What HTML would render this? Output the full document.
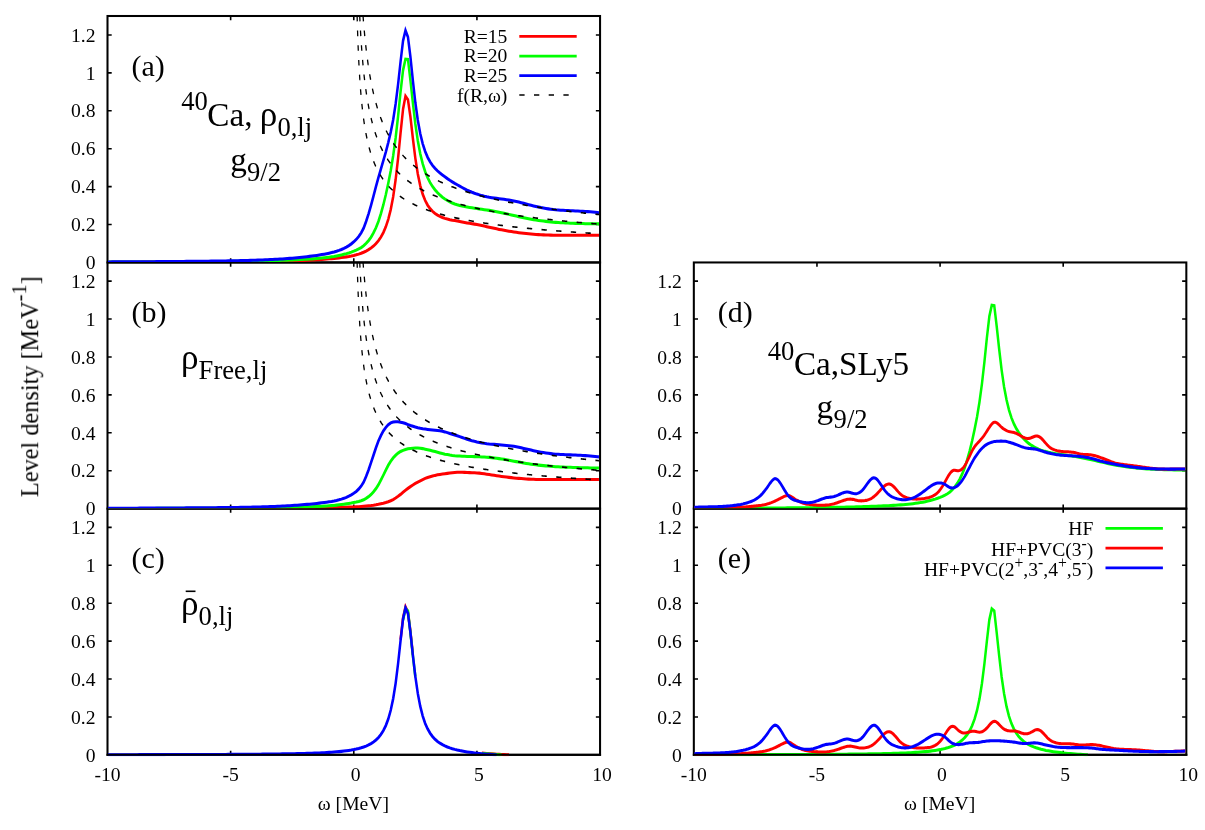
<!DOCTYPE html>
<html><head><meta charset="utf-8"><title>Level density</title>
<style>html,body{margin:0;padding:0;background:#fff}svg{display:block}text{font-family:"Liberation Serif",serif;fill:#000}</style></head>
<body>
<svg width="1205" height="830" viewBox="0 0 1205 830">
<rect width="1205" height="830" fill="#fff"/>
<defs>
<clipPath id="ca"><rect x="107.90" y="15.00" width="491.06" height="247.01"/></clipPath>
<clipPath id="cb"><rect x="107.90" y="261.46" width="491.06" height="246.74"/></clipPath>
<clipPath id="cc"><rect x="107.90" y="507.65" width="491.06" height="248.55"/></clipPath>
<clipPath id="cd"><rect x="694.23" y="261.46" width="491.00" height="246.74"/></clipPath>
<clipPath id="ce"><rect x="694.23" y="507.65" width="491.00" height="248.55"/></clipPath>
</defs>
<rect x="107.50" y="16.00" width="492.56" height="246.46" fill="none" stroke="#000" stroke-width="2.05"/>
<rect x="107.50" y="262.46" width="492.56" height="246.19" fill="none" stroke="#000" stroke-width="2.05"/>
<rect x="107.50" y="508.65" width="492.56" height="246.20" fill="none" stroke="#000" stroke-width="2.05"/>
<rect x="693.83" y="262.46" width="492.50" height="246.19" fill="none" stroke="#000" stroke-width="2.05"/>
<rect x="693.83" y="508.65" width="492.50" height="246.20" fill="none" stroke="#000" stroke-width="2.05"/>
<path d="M107.50 224.54h4.20M600.06 224.54h-4.20M107.50 186.63h4.20M600.06 186.63h-4.20M107.50 148.71h4.20M600.06 148.71h-4.20M107.50 110.79h4.20M600.06 110.79h-4.20M107.50 72.88h4.20M600.06 72.88h-4.20M107.50 34.96h4.20M600.06 34.96h-4.20M230.64 262.46v-4.20M230.64 16.00v4.20M353.78 262.46v-4.20M353.78 16.00v4.20M476.92 262.46v-4.20M476.92 16.00v4.20" stroke="#000" stroke-width="1.6" fill="none"/>
<path d="M107.50 470.73h4.20M600.06 470.73h-4.20M107.50 432.82h4.20M600.06 432.82h-4.20M107.50 394.90h4.20M600.06 394.90h-4.20M107.50 356.98h4.20M600.06 356.98h-4.20M107.50 319.07h4.20M600.06 319.07h-4.20M107.50 281.15h4.20M600.06 281.15h-4.20M230.64 508.65v-4.20M230.64 262.46v4.20M353.78 508.65v-4.20M353.78 262.46v4.20M476.92 508.65v-4.20M476.92 262.46v4.20" stroke="#000" stroke-width="1.6" fill="none"/>
<path d="M107.50 716.93h4.20M600.06 716.93h-4.20M107.50 679.02h4.20M600.06 679.02h-4.20M107.50 641.10h4.20M600.06 641.10h-4.20M107.50 603.18h4.20M600.06 603.18h-4.20M107.50 565.27h4.20M600.06 565.27h-4.20M107.50 527.35h4.20M600.06 527.35h-4.20M230.64 754.85v-4.20M230.64 508.65v4.20M353.78 754.85v-4.20M353.78 508.65v4.20M476.92 754.85v-4.20M476.92 508.65v4.20" stroke="#000" stroke-width="1.6" fill="none"/>
<path d="M693.83 470.73h4.20M1186.33 470.73h-4.20M693.83 432.82h4.20M1186.33 432.82h-4.20M693.83 394.90h4.20M1186.33 394.90h-4.20M693.83 356.98h4.20M1186.33 356.98h-4.20M693.83 319.07h4.20M1186.33 319.07h-4.20M693.83 281.15h4.20M1186.33 281.15h-4.20M816.96 508.65v-4.20M816.96 262.46v4.20M940.08 508.65v-4.20M940.08 262.46v4.20M1063.20 508.65v-4.20M1063.20 262.46v4.20" stroke="#000" stroke-width="1.6" fill="none"/>
<path d="M693.83 716.93h4.20M1186.33 716.93h-4.20M693.83 679.02h4.20M1186.33 679.02h-4.20M693.83 641.10h4.20M1186.33 641.10h-4.20M693.83 603.18h4.20M1186.33 603.18h-4.20M693.83 565.27h4.20M1186.33 565.27h-4.20M693.83 527.35h4.20M1186.33 527.35h-4.20M816.96 754.85v-4.20M816.96 508.65v4.20M940.08 754.85v-4.20M940.08 508.65v4.20M1063.20 754.85v-4.20M1063.20 508.65v4.20" stroke="#000" stroke-width="1.6" fill="none"/>
<path d="M107.50 261.90 L109.96 261.89 L112.43 261.89 L114.89 261.89 L117.35 261.89 L119.81 261.88 L122.28 261.88 L124.74 261.87 L127.20 261.87 L129.67 261.87 L132.13 261.86 L134.59 261.86 L137.05 261.85 L139.52 261.85 L141.98 261.84 L144.44 261.84 L146.90 261.83 L149.37 261.83 L151.83 261.82 L154.29 261.81 L156.76 261.81 L159.22 261.80 L161.68 261.80 L164.14 261.79 L166.61 261.78 L169.07 261.77 L171.53 261.77 L174.00 261.76 L176.46 261.75 L178.92 261.74 L181.38 261.73 L183.85 261.72 L186.31 261.72 L188.77 261.71 L191.24 261.70 L193.70 261.69 L196.16 261.68 L198.62 261.66 L201.09 261.65 L203.55 261.64 L206.01 261.63 L208.47 261.62 L210.94 261.61 L213.40 261.59 L215.86 261.58 L218.33 261.56 L220.79 261.55 L223.25 261.53 L225.71 261.52 L228.18 261.50 L230.64 261.49 L233.10 261.47 L235.57 261.45 L238.03 261.43 L240.49 261.41 L242.95 261.39 L245.42 261.36 L247.88 261.34 L250.34 261.31 L252.81 261.28 L255.27 261.25 L257.73 261.22 L260.19 261.19 L262.66 261.15 L265.12 261.12 L267.58 261.08 L270.04 261.04 L272.51 260.99 L274.97 260.95 L277.43 260.90 L279.90 260.85 L282.36 260.80 L284.82 260.74 L287.28 260.68 L289.75 260.62 L292.21 260.55 L294.67 260.48 L297.14 260.41 L299.60 260.33 L302.06 260.24 L304.52 260.15 L306.99 260.05 L309.45 259.93 L311.91 259.80 L314.38 259.65 L316.84 259.49 L319.30 259.32 L321.76 259.14 L324.23 258.94 L326.69 258.74 L329.15 258.53 L331.61 258.31 L334.08 258.08 L336.54 257.84 L339.00 257.57 L341.47 257.27 L343.93 256.95 L346.39 256.58 L348.85 256.17 L351.32 255.70 L353.78 255.16 L356.24 254.54 L358.71 253.80 L361.17 252.94 L363.63 251.93 L366.09 250.75 L368.56 249.38 L371.02 247.76 L373.48 245.80 L375.95 243.40 L378.41 240.46 L380.87 236.84 L383.33 232.32 L385.80 226.57 L388.26 219.11 L390.72 209.33 L393.18 196.39 L395.65 179.30 L398.11 157.68 L400.57 132.63 L403.04 108.98 L405.50 95.80 L407.96 99.39 L410.42 116.50 L412.89 138.24 L415.35 158.07 L417.81 173.79 L420.28 185.52 L422.74 194.05 L425.20 200.26 L427.66 204.90 L430.13 208.42 L432.59 211.09 L435.05 213.16 L437.52 214.80 L439.98 216.11 L442.44 217.17 L444.90 218.05 L447.37 218.79 L449.83 219.38 L452.29 219.86 L454.75 220.27 L457.22 220.67 L459.68 221.10 L462.14 221.58 L464.61 222.09 L467.07 222.58 L469.53 223.04 L471.99 223.45 L474.46 223.82 L476.92 224.21 L479.38 224.67 L481.85 225.21 L484.31 225.79 L486.77 226.37 L489.23 226.91 L491.70 227.46 L494.16 228.01 L496.62 228.55 L499.09 229.08 L501.55 229.56 L504.01 230.01 L506.47 230.45 L508.94 230.87 L511.40 231.27 L513.86 231.64 L516.32 232.00 L518.79 232.35 L521.25 232.69 L523.71 233.01 L526.18 233.30 L528.64 233.55 L531.10 233.77 L533.56 233.98 L536.03 234.17 L538.49 234.34 L540.95 234.48 L543.42 234.59 L545.88 234.67 L548.34 234.75 L550.80 234.82 L553.27 234.88 L555.73 234.93 L558.19 234.97 L560.66 234.99 L563.12 234.99 L565.58 234.98 L568.04 234.97 L570.51 234.97 L572.97 234.99 L575.43 235.00 L577.89 235.01 L580.36 235.01 L582.82 235.02 L585.28 235.02 L587.75 235.02 L590.21 235.01 L592.67 235.00 L595.13 234.98 L597.60 234.96 L600.06 234.94M107.50 262.50 L109.96 262.49 L112.43 262.49 L114.89 262.49 L117.35 262.49 L119.81 262.48 L122.28 262.48 L124.74 262.47 L127.20 262.47 L129.67 262.47 L132.13 262.46 L134.59 262.46 L137.05 262.45 L139.52 262.45 L141.98 262.44 L144.44 262.44 L146.90 262.43 L149.37 262.43 L151.83 262.42 L154.29 262.41 L156.76 262.41 L159.22 262.40 L161.68 262.40 L164.14 262.39 L166.61 262.38 L169.07 262.37 L171.53 262.37 L174.00 262.36 L176.46 262.35 L178.92 262.34 L181.38 262.33 L183.85 262.32 L186.31 262.32 L188.77 262.31 L191.24 262.30 L193.70 262.29 L196.16 262.28 L198.62 262.26 L201.09 262.25 L203.55 262.24 L206.01 262.23 L208.47 262.22 L210.94 262.21 L213.40 262.19 L215.86 262.18 L218.33 262.16 L220.79 262.15 L223.25 262.13 L225.71 262.12 L228.18 262.10 L230.64 262.09 L233.10 262.07 L235.57 262.05 L238.03 262.03 L240.49 262.01 L242.95 261.99 L245.42 261.96 L247.88 261.94 L250.34 261.91 L252.81 261.88 L255.27 261.85 L257.73 261.82 L260.19 261.79 L262.66 261.75 L265.12 261.72 L267.58 261.68 L270.04 261.64 L272.51 261.59 L274.97 261.55 L277.43 261.50 L279.90 261.45 L282.36 261.40 L284.82 261.34 L287.28 261.28 L289.75 261.22 L292.21 261.15 L294.67 261.08 L297.14 261.01 L299.60 260.93 L302.06 260.84 L304.52 260.75 L306.99 260.65 L309.45 260.53 L311.91 260.40 L314.38 260.25 L316.84 260.09 L319.30 259.92 L321.76 259.74 L324.23 259.54 L326.69 259.34 L329.15 259.13 L331.61 258.91 L334.08 258.68 L336.54 258.44 L339.00 258.17 L341.47 257.87 L343.93 257.55 L346.39 257.18 L348.85 256.77 L351.32 256.30 L353.78 255.76 L356.24 255.14 L358.71 254.40 L361.17 253.54 L363.63 252.53 L366.09 251.35 L368.56 249.98 L371.02 248.36 L373.48 246.40 L375.95 244.00 L378.41 241.06 L380.87 237.44 L383.33 232.92 L385.80 227.17 L388.26 219.71 L390.72 209.93 L393.18 196.99 L395.65 179.90 L398.11 158.28 L400.57 133.23 L403.04 109.58 L405.50 96.40 L407.96 99.99 L410.42 117.10 L412.89 138.84 L415.35 158.67 L417.81 174.39 L420.28 186.12 L422.74 194.65 L425.20 200.86 L427.66 205.50 L430.13 209.02 L432.59 211.69 L435.05 213.76 L437.52 215.40 L439.98 216.71 L442.44 217.77 L444.90 218.65 L447.37 219.39 L449.83 219.98 L452.29 220.46 L454.75 220.87 L457.22 221.27 L459.68 221.70 L462.14 222.18 L464.61 222.69 L467.07 223.18 L469.53 223.64 L471.99 224.05 L474.46 224.42 L476.92 224.81 L479.38 225.27 L481.85 225.81 L484.31 226.39 L486.77 226.97 L489.23 227.51 L491.70 228.06 L494.16 228.61 L496.62 229.15 L499.09 229.68 L501.55 230.16 L504.01 230.61 L506.47 231.05 L508.94 231.47 L511.40 231.87 L513.86 232.24 L516.32 232.60 L518.79 232.95 L521.25 233.29 L523.71 233.61 L526.18 233.90 L528.64 234.15 L531.10 234.37 L533.56 234.58 L536.03 234.77 L538.49 234.94 L540.95 235.08 L543.42 235.19 L545.88 235.27 L548.34 235.35 L550.80 235.42 L553.27 235.48 L555.73 235.53 L558.19 235.57 L560.66 235.59 L563.12 235.59 L565.58 235.58 L568.04 235.57 L570.51 235.57 L572.97 235.59 L575.43 235.60 L577.89 235.61 L580.36 235.61 L582.82 235.62 L585.28 235.62 L587.75 235.62 L590.21 235.61 L592.67 235.60 L595.13 235.58 L597.60 235.56 L600.06 235.54" fill="none" stroke="#ff0000" stroke-width="2.45" stroke-linejoin="miter" stroke-miterlimit="6" clip-path="url(#ca)"/>
<path d="M107.50 261.81 L109.96 261.80 L112.43 261.80 L114.89 261.79 L117.35 261.79 L119.81 261.79 L122.28 261.78 L124.74 261.78 L127.20 261.77 L129.67 261.76 L132.13 261.76 L134.59 261.75 L137.05 261.74 L139.52 261.73 L141.98 261.72 L144.44 261.72 L146.90 261.71 L149.37 261.70 L151.83 261.69 L154.29 261.68 L156.76 261.66 L159.22 261.65 L161.68 261.64 L164.14 261.63 L166.61 261.62 L169.07 261.60 L171.53 261.59 L174.00 261.57 L176.46 261.56 L178.92 261.54 L181.38 261.53 L183.85 261.51 L186.31 261.50 L188.77 261.48 L191.24 261.46 L193.70 261.45 L196.16 261.43 L198.62 261.41 L201.09 261.39 L203.55 261.37 L206.01 261.35 L208.47 261.33 L210.94 261.31 L213.40 261.28 L215.86 261.26 L218.33 261.24 L220.79 261.21 L223.25 261.19 L225.71 261.17 L228.18 261.14 L230.64 261.11 L233.10 261.09 L235.57 261.06 L238.03 261.02 L240.49 260.99 L242.95 260.95 L245.42 260.91 L247.88 260.87 L250.34 260.82 L252.81 260.78 L255.27 260.73 L257.73 260.68 L260.19 260.62 L262.66 260.56 L265.12 260.50 L267.58 260.44 L270.04 260.37 L272.51 260.30 L274.97 260.23 L277.43 260.15 L279.90 260.07 L282.36 259.99 L284.82 259.90 L287.28 259.81 L289.75 259.71 L292.21 259.61 L294.67 259.51 L297.14 259.40 L299.60 259.28 L302.06 259.16 L304.52 259.03 L306.99 258.90 L309.45 258.74 L311.91 258.57 L314.38 258.39 L316.84 258.18 L319.30 257.96 L321.76 257.71 L324.23 257.45 L326.69 257.17 L329.15 256.86 L331.61 256.51 L334.08 256.11 L336.54 255.65 L339.00 255.14 L341.47 254.59 L343.93 253.99 L346.39 253.34 L348.85 252.62 L351.32 251.80 L353.78 250.87 L356.24 249.84 L358.71 248.66 L361.17 247.25 L363.63 245.50 L366.09 243.17 L368.56 240.29 L371.02 236.90 L373.48 232.64 L375.95 227.42 L378.41 221.19 L380.87 213.45 L383.33 204.67 L385.80 194.49 L388.26 183.12 L390.72 170.47 L393.18 155.43 L395.65 137.43 L398.11 115.69 L400.57 91.41 L403.04 70.06 L405.50 58.74 L407.96 59.05 L410.42 80.02 L412.89 102.77 L415.35 123.66 L417.81 140.49 L420.28 153.54 L422.74 163.63 L425.20 171.41 L427.66 177.44 L430.13 182.29 L432.59 186.27 L435.05 189.58 L437.52 192.36 L439.98 194.80 L442.44 196.91 L444.90 198.70 L447.37 200.21 L449.83 201.53 L452.29 202.68 L454.75 203.64 L457.22 204.43 L459.68 205.11 L462.14 205.71 L464.61 206.25 L467.07 206.73 L469.53 207.16 L471.99 207.55 L474.46 207.92 L476.92 208.28 L479.38 208.64 L481.85 208.99 L484.31 209.34 L486.77 209.70 L489.23 210.08 L491.70 210.50 L494.16 210.96 L496.62 211.45 L499.09 211.94 L501.55 212.44 L504.01 212.95 L506.47 213.50 L508.94 214.07 L511.40 214.65 L513.86 215.22 L516.32 215.78 L518.79 216.34 L521.25 216.91 L523.71 217.47 L526.18 218.00 L528.64 218.49 L531.10 218.93 L533.56 219.34 L536.03 219.73 L538.49 220.10 L540.95 220.45 L543.42 220.76 L545.88 221.06 L548.34 221.35 L550.80 221.62 L553.27 221.86 L555.73 222.07 L558.19 222.24 L560.66 222.40 L563.12 222.54 L565.58 222.66 L568.04 222.77 L570.51 222.87 L572.97 222.97 L575.43 223.06 L577.89 223.15 L580.36 223.23 L582.82 223.29 L585.28 223.35 L587.75 223.41 L590.21 223.45 L592.67 223.49 L595.13 223.53 L597.60 223.55 L600.06 223.57M107.50 262.41 L109.96 262.40 L112.43 262.40 L114.89 262.39 L117.35 262.39 L119.81 262.39 L122.28 262.38 L124.74 262.38 L127.20 262.37 L129.67 262.36 L132.13 262.36 L134.59 262.35 L137.05 262.34 L139.52 262.33 L141.98 262.32 L144.44 262.32 L146.90 262.31 L149.37 262.30 L151.83 262.29 L154.29 262.28 L156.76 262.26 L159.22 262.25 L161.68 262.24 L164.14 262.23 L166.61 262.22 L169.07 262.20 L171.53 262.19 L174.00 262.17 L176.46 262.16 L178.92 262.14 L181.38 262.13 L183.85 262.11 L186.31 262.10 L188.77 262.08 L191.24 262.06 L193.70 262.05 L196.16 262.03 L198.62 262.01 L201.09 261.99 L203.55 261.97 L206.01 261.95 L208.47 261.93 L210.94 261.91 L213.40 261.88 L215.86 261.86 L218.33 261.84 L220.79 261.81 L223.25 261.79 L225.71 261.77 L228.18 261.74 L230.64 261.71 L233.10 261.69 L235.57 261.66 L238.03 261.62 L240.49 261.59 L242.95 261.55 L245.42 261.51 L247.88 261.47 L250.34 261.42 L252.81 261.38 L255.27 261.33 L257.73 261.28 L260.19 261.22 L262.66 261.16 L265.12 261.10 L267.58 261.04 L270.04 260.97 L272.51 260.90 L274.97 260.83 L277.43 260.75 L279.90 260.67 L282.36 260.59 L284.82 260.50 L287.28 260.41 L289.75 260.31 L292.21 260.21 L294.67 260.11 L297.14 260.00 L299.60 259.88 L302.06 259.76 L304.52 259.63 L306.99 259.50 L309.45 259.34 L311.91 259.17 L314.38 258.99 L316.84 258.78 L319.30 258.56 L321.76 258.31 L324.23 258.05 L326.69 257.77 L329.15 257.46 L331.61 257.11 L334.08 256.71 L336.54 256.25 L339.00 255.74 L341.47 255.19 L343.93 254.59 L346.39 253.94 L348.85 253.22 L351.32 252.40 L353.78 251.47 L356.24 250.44 L358.71 249.26 L361.17 247.85 L363.63 246.10 L366.09 243.77 L368.56 240.89 L371.02 237.50 L373.48 233.24 L375.95 228.02 L378.41 221.79 L380.87 214.05 L383.33 205.27 L385.80 195.09 L388.26 183.72 L390.72 171.07 L393.18 156.03 L395.65 138.03 L398.11 116.29 L400.57 92.01 L403.04 70.66 L405.50 59.34 L407.96 59.65 L410.42 80.62 L412.89 103.37 L415.35 124.26 L417.81 141.09 L420.28 154.14 L422.74 164.23 L425.20 172.01 L427.66 178.04 L430.13 182.89 L432.59 186.87 L435.05 190.18 L437.52 192.96 L439.98 195.40 L442.44 197.51 L444.90 199.30 L447.37 200.81 L449.83 202.13 L452.29 203.28 L454.75 204.24 L457.22 205.03 L459.68 205.71 L462.14 206.31 L464.61 206.85 L467.07 207.33 L469.53 207.76 L471.99 208.15 L474.46 208.52 L476.92 208.88 L479.38 209.24 L481.85 209.59 L484.31 209.94 L486.77 210.30 L489.23 210.68 L491.70 211.10 L494.16 211.56 L496.62 212.05 L499.09 212.54 L501.55 213.04 L504.01 213.55 L506.47 214.10 L508.94 214.67 L511.40 215.25 L513.86 215.82 L516.32 216.38 L518.79 216.94 L521.25 217.51 L523.71 218.07 L526.18 218.60 L528.64 219.09 L531.10 219.53 L533.56 219.94 L536.03 220.33 L538.49 220.70 L540.95 221.05 L543.42 221.36 L545.88 221.66 L548.34 221.95 L550.80 222.22 L553.27 222.46 L555.73 222.67 L558.19 222.84 L560.66 223.00 L563.12 223.14 L565.58 223.26 L568.04 223.37 L570.51 223.47 L572.97 223.57 L575.43 223.66 L577.89 223.75 L580.36 223.83 L582.82 223.89 L585.28 223.95 L587.75 224.01 L590.21 224.05 L592.67 224.09 L595.13 224.13 L597.60 224.15 L600.06 224.17" fill="none" stroke="#00ff00" stroke-width="2.45" stroke-linejoin="miter" stroke-miterlimit="6" clip-path="url(#ca)"/>
<path d="M107.50 261.61 L109.96 261.60 L112.43 261.59 L114.89 261.58 L117.35 261.57 L119.81 261.56 L122.28 261.54 L124.74 261.53 L127.20 261.52 L129.67 261.50 L132.13 261.49 L134.59 261.48 L137.05 261.46 L139.52 261.45 L141.98 261.43 L144.44 261.41 L146.90 261.40 L149.37 261.38 L151.83 261.36 L154.29 261.35 L156.76 261.33 L159.22 261.31 L161.68 261.29 L164.14 261.27 L166.61 261.25 L169.07 261.23 L171.53 261.21 L174.00 261.19 L176.46 261.17 L178.92 261.15 L181.38 261.13 L183.85 261.11 L186.31 261.09 L188.77 261.07 L191.24 261.04 L193.70 261.02 L196.16 261.00 L198.62 260.97 L201.09 260.94 L203.55 260.92 L206.01 260.89 L208.47 260.86 L210.94 260.83 L213.40 260.80 L215.86 260.77 L218.33 260.73 L220.79 260.70 L223.25 260.66 L225.71 260.62 L228.18 260.58 L230.64 260.54 L233.10 260.50 L235.57 260.45 L238.03 260.39 L240.49 260.33 L242.95 260.27 L245.42 260.20 L247.88 260.13 L250.34 260.06 L252.81 259.98 L255.27 259.90 L257.73 259.81 L260.19 259.72 L262.66 259.63 L265.12 259.52 L267.58 259.42 L270.04 259.30 L272.51 259.18 L274.97 259.05 L277.43 258.91 L279.90 258.77 L282.36 258.61 L284.82 258.45 L287.28 258.27 L289.75 258.07 L292.21 257.87 L294.67 257.65 L297.14 257.42 L299.60 257.18 L302.06 256.92 L304.52 256.66 L306.99 256.38 L309.45 256.08 L311.91 255.77 L314.38 255.44 L316.84 255.09 L319.30 254.71 L321.76 254.30 L324.23 253.85 L326.69 253.38 L329.15 252.86 L331.61 252.30 L334.08 251.65 L336.54 250.92 L339.00 250.09 L341.47 249.16 L343.93 248.08 L346.39 246.80 L348.85 245.29 L351.32 243.55 L353.78 241.55 L356.24 239.17 L358.71 236.21 L361.17 232.57 L363.63 227.91 L366.09 221.21 L368.56 213.60 L371.02 204.97 L373.48 195.92 L375.95 186.42 L378.41 177.23 L380.87 168.77 L383.33 160.25 L385.80 151.73 L388.26 142.33 L390.72 131.79 L393.18 119.38 L395.65 103.50 L398.11 83.80 L400.57 61.30 L403.04 40.54 L405.50 30.23 L407.96 36.69 L410.42 56.41 L412.89 80.37 L415.35 102.29 L417.81 119.94 L420.28 133.43 L422.74 143.55 L425.20 151.18 L427.66 157.03 L430.13 161.60 L432.59 165.24 L435.05 168.16 L437.52 170.57 L439.98 172.67 L442.44 174.60 L444.90 176.48 L447.37 178.29 L449.83 179.97 L452.29 181.52 L454.75 183.02 L457.22 184.45 L459.68 185.84 L462.14 187.20 L464.61 188.54 L467.07 189.81 L469.53 190.94 L471.99 191.98 L474.46 192.94 L476.92 193.79 L479.38 194.57 L481.85 195.30 L484.31 195.95 L486.77 196.52 L489.23 196.99 L491.70 197.38 L494.16 197.73 L496.62 198.05 L499.09 198.36 L501.55 198.70 L504.01 199.06 L506.47 199.43 L508.94 199.81 L511.40 200.21 L513.86 200.64 L516.32 201.12 L518.79 201.70 L521.25 202.35 L523.71 203.05 L526.18 203.74 L528.64 204.39 L531.10 205.00 L533.56 205.61 L536.03 206.21 L538.49 206.78 L540.95 207.30 L543.42 207.76 L545.88 208.18 L548.34 208.58 L550.80 208.95 L553.27 209.28 L555.73 209.54 L558.19 209.74 L560.66 209.90 L563.12 210.04 L565.58 210.15 L568.04 210.27 L570.51 210.39 L572.97 210.52 L575.43 210.63 L577.89 210.75 L580.36 210.87 L582.82 211.01 L585.28 211.16 L587.75 211.34 L590.21 211.54 L592.67 211.76 L595.13 211.99 L597.60 212.25 L600.06 212.51M107.50 262.21 L109.96 262.20 L112.43 262.19 L114.89 262.18 L117.35 262.17 L119.81 262.16 L122.28 262.14 L124.74 262.13 L127.20 262.12 L129.67 262.10 L132.13 262.09 L134.59 262.08 L137.05 262.06 L139.52 262.05 L141.98 262.03 L144.44 262.01 L146.90 262.00 L149.37 261.98 L151.83 261.96 L154.29 261.95 L156.76 261.93 L159.22 261.91 L161.68 261.89 L164.14 261.87 L166.61 261.85 L169.07 261.83 L171.53 261.81 L174.00 261.79 L176.46 261.77 L178.92 261.75 L181.38 261.73 L183.85 261.71 L186.31 261.69 L188.77 261.67 L191.24 261.64 L193.70 261.62 L196.16 261.60 L198.62 261.57 L201.09 261.54 L203.55 261.52 L206.01 261.49 L208.47 261.46 L210.94 261.43 L213.40 261.40 L215.86 261.37 L218.33 261.33 L220.79 261.30 L223.25 261.26 L225.71 261.22 L228.18 261.18 L230.64 261.14 L233.10 261.10 L235.57 261.05 L238.03 260.99 L240.49 260.93 L242.95 260.87 L245.42 260.80 L247.88 260.73 L250.34 260.66 L252.81 260.58 L255.27 260.50 L257.73 260.41 L260.19 260.32 L262.66 260.23 L265.12 260.12 L267.58 260.02 L270.04 259.90 L272.51 259.78 L274.97 259.65 L277.43 259.51 L279.90 259.37 L282.36 259.21 L284.82 259.05 L287.28 258.87 L289.75 258.67 L292.21 258.47 L294.67 258.25 L297.14 258.02 L299.60 257.78 L302.06 257.52 L304.52 257.26 L306.99 256.98 L309.45 256.68 L311.91 256.37 L314.38 256.04 L316.84 255.69 L319.30 255.31 L321.76 254.90 L324.23 254.45 L326.69 253.98 L329.15 253.46 L331.61 252.90 L334.08 252.25 L336.54 251.52 L339.00 250.69 L341.47 249.76 L343.93 248.68 L346.39 247.40 L348.85 245.89 L351.32 244.15 L353.78 242.15 L356.24 239.77 L358.71 236.81 L361.17 233.17 L363.63 228.51 L366.09 221.81 L368.56 214.20 L371.02 205.57 L373.48 196.52 L375.95 187.02 L378.41 177.83 L380.87 169.37 L383.33 160.85 L385.80 152.33 L388.26 142.93 L390.72 132.39 L393.18 119.98 L395.65 104.10 L398.11 84.40 L400.57 61.90 L403.04 41.14 L405.50 30.83 L407.96 37.29 L410.42 57.01 L412.89 80.97 L415.35 102.89 L417.81 120.54 L420.28 134.03 L422.74 144.15 L425.20 151.78 L427.66 157.63 L430.13 162.20 L432.59 165.84 L435.05 168.76 L437.52 171.17 L439.98 173.27 L442.44 175.20 L444.90 177.08 L447.37 178.89 L449.83 180.57 L452.29 182.12 L454.75 183.62 L457.22 185.05 L459.68 186.44 L462.14 187.80 L464.61 189.14 L467.07 190.41 L469.53 191.54 L471.99 192.58 L474.46 193.54 L476.92 194.39 L479.38 195.17 L481.85 195.90 L484.31 196.55 L486.77 197.12 L489.23 197.59 L491.70 197.98 L494.16 198.33 L496.62 198.65 L499.09 198.96 L501.55 199.30 L504.01 199.66 L506.47 200.03 L508.94 200.41 L511.40 200.81 L513.86 201.24 L516.32 201.72 L518.79 202.30 L521.25 202.95 L523.71 203.65 L526.18 204.34 L528.64 204.99 L531.10 205.60 L533.56 206.21 L536.03 206.81 L538.49 207.38 L540.95 207.90 L543.42 208.36 L545.88 208.78 L548.34 209.18 L550.80 209.55 L553.27 209.88 L555.73 210.14 L558.19 210.34 L560.66 210.50 L563.12 210.64 L565.58 210.75 L568.04 210.87 L570.51 210.99 L572.97 211.12 L575.43 211.23 L577.89 211.35 L580.36 211.47 L582.82 211.61 L585.28 211.76 L587.75 211.94 L590.21 212.14 L592.67 212.36 L595.13 212.59 L597.60 212.85 L600.06 213.11" fill="none" stroke="#0000ff" stroke-width="2.45" stroke-linejoin="miter" stroke-miterlimit="6" clip-path="url(#ca)"/>
<path d="M357.12 15.84 L357.36 24.46 L357.61 32.24 L357.86 39.30 L358.10 45.74 L358.35 51.66 L358.59 57.12 L358.84 62.18 L359.09 66.87 L359.33 71.26 L359.58 75.36 L359.83 79.21 L360.07 82.82 L360.32 86.24 L360.56 89.46 L360.81 92.52 L361.06 95.41 L361.30 98.17 L361.55 100.79 L361.80 103.29 L362.04 105.68 L362.29 107.96 L362.53 110.15 L362.78 112.24 L363.03 114.26 L363.27 116.19 L363.52 118.05 L363.77 119.84 L364.01 121.56 L364.26 123.23 L364.51 124.83 L364.75 126.38 L365.00 127.88 L365.24 129.34 L365.49 130.74 L365.74 132.10 L365.98 133.42 L366.23 134.71 L366.48 135.95 L366.72 137.16 L366.97 138.33 L367.21 139.47 L367.46 140.58 L367.71 141.66 L367.95 142.72 L368.20 143.74 L368.45 144.74 L368.69 145.72 L368.94 146.67 L369.18 147.60 L369.43 148.50 L369.68 149.39 L369.92 150.25 L370.17 151.10 L370.42 151.92 L370.66 152.73 L370.91 153.52 L371.15 154.30 L371.40 155.05 L371.65 155.79 L371.89 156.52 L372.14 157.23 L372.39 157.93 L372.63 158.61 L372.88 159.29 L373.12 159.94 L373.37 160.59 L373.62 161.22 L373.86 161.84 L374.11 162.45 L374.36 163.05 L374.60 163.64 L374.85 164.22 L375.10 164.79 L375.34 165.35 L375.59 165.90 L375.83 166.44 L376.08 166.97 L376.33 167.49 L376.57 168.00 L376.82 168.51 L377.07 169.00 L377.31 169.49 L377.56 169.98 L377.80 170.45 L378.05 170.92 L378.30 171.38 L378.54 171.83 L378.79 172.28 L379.04 172.72 L379.28 173.15 L379.53 173.58 L379.77 174.00 L380.02 174.42 L380.27 174.83 L380.51 175.23 L380.76 175.63 L381.01 176.02 L381.25 176.41 L381.50 176.79 L381.74 177.17 L382.98 178.98 L384.21 180.69 L385.44 182.29 L386.67 183.80 L387.90 185.23 L389.13 186.58 L390.36 187.87 L391.60 189.09 L392.83 190.25 L394.06 191.36 L395.29 192.42 L396.52 193.44 L397.75 194.41 L398.98 195.34 L400.22 196.23 L401.45 197.09 L402.68 197.92 L403.91 198.72 L405.14 199.48 L406.37 200.22 L407.60 200.94 L408.84 201.63 L410.07 202.29 L411.30 202.94 L412.53 203.56 L413.76 204.17 L414.99 204.76 L416.22 205.33 L417.46 205.88 L418.69 206.42 L419.92 206.94 L421.15 207.45 L422.38 207.95 L423.61 208.43 L424.84 208.90 L426.08 209.35 L427.31 209.80 L428.54 210.23 L429.77 210.66 L431.00 211.07 L432.23 211.47 L433.46 211.87 L434.69 212.25 L435.93 212.63 L437.16 213.00 L438.39 213.36 L439.62 213.71 L440.85 214.05 L442.08 214.39 L443.31 214.72 L444.55 215.05 L445.78 215.36 L447.01 215.67 L448.24 215.98 L449.47 216.28 L450.70 216.57 L451.93 216.86 L453.17 217.14 L454.40 217.42 L455.63 217.69 L456.86 217.96 L458.09 218.22 L459.32 218.48 L460.55 218.73 L461.79 218.98 L463.02 219.23 L464.25 219.47 L465.48 219.70 L466.71 219.94 L467.94 220.17 L469.17 220.39 L470.41 220.61 L471.64 220.83 L472.87 221.05 L474.10 221.26 L475.33 221.47 L476.56 221.67 L477.79 221.87 L479.03 222.07 L480.26 222.27 L481.49 222.46 L482.72 222.65 L483.95 222.84 L485.18 223.03 L486.41 223.21 L487.65 223.39 L488.88 223.57 L490.11 223.74 L491.34 223.92 L492.57 224.09 L493.80 224.25 L495.03 224.42 L496.26 224.58 L497.50 224.75 L498.73 224.91 L499.96 225.06 L501.19 225.22 L502.42 225.37 L503.65 225.53 L504.88 225.68 L506.12 225.82 L507.35 225.97 L508.58 226.12 L509.81 226.26 L511.04 226.40 L512.27 226.54 L513.50 226.68 L514.74 226.81 L515.97 226.95 L517.20 227.08 L518.43 227.22 L519.66 227.35 L520.89 227.47 L522.12 227.60 L523.36 227.73 L524.59 227.85 L525.82 227.98 L527.05 228.10 L528.28 228.22 L529.51 228.34 L530.74 228.46 L531.98 228.58 L533.21 228.69 L534.44 228.81 L535.67 228.92 L536.90 229.03 L538.13 229.14 L539.36 229.25 L540.60 229.36 L541.83 229.47 L543.06 229.58 L544.29 229.68 L545.52 229.79 L546.75 229.89 L547.98 229.99 L549.22 230.10 L550.45 230.20 L551.68 230.30 L552.91 230.40 L554.14 230.50 L555.37 230.59 L556.60 230.69 L557.83 230.78 L559.07 230.88 L560.30 230.97 L561.53 231.07 L562.76 231.16 L563.99 231.25 L565.22 231.34 L566.45 231.43 L567.69 231.52 L568.92 231.61 L570.15 231.69 L571.38 231.78 L572.61 231.87 L573.84 231.95 L575.07 232.04 L576.31 232.12 L577.54 232.20 L578.77 232.29 L580.00 232.37 L581.23 232.45 L582.46 232.53 L583.69 232.61 L584.93 232.69 L586.16 232.77 L587.39 232.85 L588.62 232.92 L589.85 233.00 L591.08 233.08 L592.31 233.15 L593.55 233.23 L594.78 233.30 L596.01 233.37 L597.24 233.45 L598.47 233.52 L599.70 233.59 L600.06 233.61M357.12 16.16 L357.36 24.78 L357.61 32.56 L357.86 39.62 L358.10 46.06 L358.35 51.98 L358.59 57.44 L358.84 62.50 L359.09 67.19 L359.33 71.58 L359.58 75.68 L359.83 79.53 L360.07 83.14 L360.32 86.56 L360.56 89.78 L360.81 92.84 L361.06 95.73 L361.30 98.49 L361.55 101.11 L361.80 103.61 L362.04 106.00 L362.29 108.28 L362.53 110.47 L362.78 112.56 L363.03 114.58 L363.27 116.51 L363.52 118.37 L363.77 120.16 L364.01 121.88 L364.26 123.55 L364.51 125.15 L364.75 126.70 L365.00 128.20 L365.24 129.66 L365.49 131.06 L365.74 132.42 L365.98 133.74 L366.23 135.03 L366.48 136.27 L366.72 137.48 L366.97 138.65 L367.21 139.79 L367.46 140.90 L367.71 141.98 L367.95 143.04 L368.20 144.06 L368.45 145.06 L368.69 146.04 L368.94 146.99 L369.18 147.92 L369.43 148.82 L369.68 149.71 L369.92 150.57 L370.17 151.42 L370.42 152.24 L370.66 153.05 L370.91 153.84 L371.15 154.62 L371.40 155.37 L371.65 156.11 L371.89 156.84 L372.14 157.55 L372.39 158.25 L372.63 158.93 L372.88 159.61 L373.12 160.26 L373.37 160.91 L373.62 161.54 L373.86 162.16 L374.11 162.77 L374.36 163.37 L374.60 163.96 L374.85 164.54 L375.10 165.11 L375.34 165.67 L375.59 166.22 L375.83 166.76 L376.08 167.29 L376.33 167.81 L376.57 168.32 L376.82 168.83 L377.07 169.32 L377.31 169.81 L377.56 170.30 L377.80 170.77 L378.05 171.24 L378.30 171.70 L378.54 172.15 L378.79 172.60 L379.04 173.04 L379.28 173.47 L379.53 173.90 L379.77 174.32 L380.02 174.74 L380.27 175.15 L380.51 175.55 L380.76 175.95 L381.01 176.34 L381.25 176.73 L381.50 177.11 L381.74 177.49 L382.98 179.30 L384.21 181.01 L385.44 182.61 L386.67 184.12 L387.90 185.55 L389.13 186.90 L390.36 188.19 L391.60 189.41 L392.83 190.57 L394.06 191.68 L395.29 192.74 L396.52 193.76 L397.75 194.73 L398.98 195.66 L400.22 196.55 L401.45 197.41 L402.68 198.24 L403.91 199.04 L405.14 199.80 L406.37 200.54 L407.60 201.26 L408.84 201.95 L410.07 202.61 L411.30 203.26 L412.53 203.88 L413.76 204.49 L414.99 205.08 L416.22 205.65 L417.46 206.20 L418.69 206.74 L419.92 207.26 L421.15 207.77 L422.38 208.27 L423.61 208.75 L424.84 209.22 L426.08 209.67 L427.31 210.12 L428.54 210.55 L429.77 210.98 L431.00 211.39 L432.23 211.79 L433.46 212.19 L434.69 212.57 L435.93 212.95 L437.16 213.32 L438.39 213.68 L439.62 214.03 L440.85 214.37 L442.08 214.71 L443.31 215.04 L444.55 215.37 L445.78 215.68 L447.01 215.99 L448.24 216.30 L449.47 216.60 L450.70 216.89 L451.93 217.18 L453.17 217.46 L454.40 217.74 L455.63 218.01 L456.86 218.28 L458.09 218.54 L459.32 218.80 L460.55 219.05 L461.79 219.30 L463.02 219.55 L464.25 219.79 L465.48 220.02 L466.71 220.26 L467.94 220.49 L469.17 220.71 L470.41 220.93 L471.64 221.15 L472.87 221.37 L474.10 221.58 L475.33 221.79 L476.56 221.99 L477.79 222.19 L479.03 222.39 L480.26 222.59 L481.49 222.78 L482.72 222.97 L483.95 223.16 L485.18 223.35 L486.41 223.53 L487.65 223.71 L488.88 223.89 L490.11 224.06 L491.34 224.24 L492.57 224.41 L493.80 224.57 L495.03 224.74 L496.26 224.90 L497.50 225.07 L498.73 225.23 L499.96 225.38 L501.19 225.54 L502.42 225.69 L503.65 225.85 L504.88 226.00 L506.12 226.14 L507.35 226.29 L508.58 226.44 L509.81 226.58 L511.04 226.72 L512.27 226.86 L513.50 227.00 L514.74 227.13 L515.97 227.27 L517.20 227.40 L518.43 227.54 L519.66 227.67 L520.89 227.79 L522.12 227.92 L523.36 228.05 L524.59 228.17 L525.82 228.30 L527.05 228.42 L528.28 228.54 L529.51 228.66 L530.74 228.78 L531.98 228.90 L533.21 229.01 L534.44 229.13 L535.67 229.24 L536.90 229.35 L538.13 229.46 L539.36 229.57 L540.60 229.68 L541.83 229.79 L543.06 229.90 L544.29 230.00 L545.52 230.11 L546.75 230.21 L547.98 230.31 L549.22 230.42 L550.45 230.52 L551.68 230.62 L552.91 230.72 L554.14 230.82 L555.37 230.91 L556.60 231.01 L557.83 231.10 L559.07 231.20 L560.30 231.29 L561.53 231.39 L562.76 231.48 L563.99 231.57 L565.22 231.66 L566.45 231.75 L567.69 231.84 L568.92 231.93 L570.15 232.01 L571.38 232.10 L572.61 232.19 L573.84 232.27 L575.07 232.36 L576.31 232.44 L577.54 232.52 L578.77 232.61 L580.00 232.69 L581.23 232.77 L582.46 232.85 L583.69 232.93 L584.93 233.01 L586.16 233.09 L587.39 233.17 L588.62 233.24 L589.85 233.32 L591.08 233.40 L592.31 233.47 L593.55 233.55 L594.78 233.62 L596.01 233.69 L597.24 233.77 L598.47 233.84 L599.70 233.91 L600.06 233.93" fill="none" stroke="#000" stroke-width="1.28" stroke-dasharray="5.3 9.4" clip-path="url(#ca)"/>
<path d="M359.71 15.84 L359.96 20.80 L360.20 25.48 L360.45 29.89 L360.70 34.06 L360.94 38.02 L361.19 41.78 L361.44 45.36 L361.68 48.76 L361.93 52.02 L362.17 55.12 L362.42 58.10 L362.67 60.95 L362.91 63.68 L363.16 66.31 L363.41 68.83 L363.65 71.26 L363.90 73.60 L364.14 75.85 L364.39 78.03 L364.64 80.13 L364.88 82.16 L365.13 84.13 L365.38 86.03 L365.62 87.87 L365.87 89.66 L366.12 91.39 L366.36 93.07 L366.61 94.70 L366.85 96.29 L367.10 97.83 L367.35 99.33 L367.59 100.79 L367.84 102.21 L368.09 103.60 L368.33 104.94 L368.58 106.26 L368.82 107.54 L369.07 108.79 L369.32 110.01 L369.56 111.21 L369.81 112.37 L370.06 113.51 L370.30 114.62 L370.55 115.71 L370.79 116.78 L371.04 117.82 L371.29 118.84 L371.53 119.84 L371.78 120.82 L372.03 121.77 L372.27 122.71 L372.52 123.63 L372.76 124.54 L373.01 125.42 L373.26 126.29 L373.50 127.14 L373.75 127.98 L374.00 128.80 L374.24 129.60 L374.49 130.39 L374.73 131.17 L374.98 131.94 L375.23 132.69 L375.47 133.42 L375.72 134.15 L375.97 134.86 L376.21 135.56 L376.46 136.25 L376.71 136.93 L376.95 137.60 L377.20 138.26 L377.44 138.91 L377.69 139.54 L377.94 140.17 L378.18 140.79 L378.43 141.40 L378.68 142.00 L378.92 142.59 L379.17 143.17 L379.41 143.74 L379.66 144.31 L379.91 144.87 L380.15 145.42 L380.40 145.96 L380.65 146.49 L380.89 147.02 L381.14 147.54 L381.38 148.05 L381.63 148.56 L381.88 149.06 L382.12 149.55 L382.37 150.04 L382.62 150.52 L382.86 150.99 L383.11 151.46 L383.35 151.92 L383.60 152.38 L383.85 152.83 L384.09 153.28 L384.34 153.72 L385.57 155.84 L386.80 157.84 L388.03 159.74 L389.27 161.53 L390.50 163.24 L391.73 164.86 L392.96 166.40 L394.19 167.87 L395.42 169.28 L396.65 170.63 L397.89 171.92 L399.12 173.15 L400.35 174.34 L401.58 175.48 L402.81 176.58 L404.04 177.63 L405.27 178.65 L406.50 179.63 L407.74 180.58 L408.97 181.50 L410.20 182.39 L411.43 183.24 L412.66 184.07 L413.89 184.88 L415.12 185.66 L416.36 186.42 L417.59 187.15 L418.82 187.87 L420.05 188.56 L421.28 189.24 L422.51 189.90 L423.74 190.54 L424.98 191.16 L426.21 191.77 L427.44 192.36 L428.67 192.94 L429.90 193.50 L431.13 194.05 L432.36 194.59 L433.60 195.11 L434.83 195.62 L436.06 196.12 L437.29 196.61 L438.52 197.09 L439.75 197.56 L440.98 198.02 L442.22 198.47 L443.45 198.91 L444.68 199.34 L445.91 199.76 L447.14 200.18 L448.37 200.58 L449.60 200.98 L450.84 201.37 L452.07 201.75 L453.30 202.13 L454.53 202.50 L455.76 202.86 L456.99 203.22 L458.22 203.56 L459.46 203.91 L460.69 204.25 L461.92 204.58 L463.15 204.90 L464.38 205.22 L465.61 205.54 L466.84 205.85 L468.07 206.15 L469.31 206.45 L470.54 206.75 L471.77 207.04 L473.00 207.33 L474.23 207.61 L475.46 207.88 L476.69 208.16 L477.93 208.43 L479.16 208.69 L480.39 208.95 L481.62 209.21 L482.85 209.46 L484.08 209.72 L485.31 209.96 L486.55 210.21 L487.78 210.45 L489.01 210.68 L490.24 210.92 L491.47 211.15 L492.70 211.37 L493.93 211.60 L495.17 211.82 L496.40 212.04 L497.63 212.25 L498.86 212.46 L500.09 212.68 L501.32 212.88 L502.55 213.09 L503.79 213.29 L505.02 213.49 L506.25 213.69 L507.48 213.88 L508.71 214.08 L509.94 214.27 L511.17 214.45 L512.41 214.64 L513.64 214.82 L514.87 215.01 L516.10 215.19 L517.33 215.36 L518.56 215.54 L519.79 215.71 L521.03 215.88 L522.26 216.05 L523.49 216.22 L524.72 216.39 L525.95 216.55 L527.18 216.72 L528.41 216.88 L529.64 217.04 L530.88 217.19 L532.11 217.35 L533.34 217.50 L534.57 217.66 L535.80 217.81 L537.03 217.96 L538.26 218.11 L539.50 218.25 L540.73 218.40 L541.96 218.54 L543.19 218.68 L544.42 218.83 L545.65 218.97 L546.88 219.10 L548.12 219.24 L549.35 219.38 L550.58 219.51 L551.81 219.64 L553.04 219.78 L554.27 219.91 L555.50 220.04 L556.74 220.17 L557.97 220.29 L559.20 220.42 L560.43 220.54 L561.66 220.67 L562.89 220.79 L564.12 220.91 L565.36 221.03 L566.59 221.15 L567.82 221.27 L569.05 221.39 L570.28 221.50 L571.51 221.62 L572.74 221.73 L573.98 221.85 L575.21 221.96 L576.44 222.07 L577.67 222.18 L578.90 222.29 L580.13 222.40 L581.36 222.51 L582.60 222.62 L583.83 222.72 L585.06 222.83 L586.29 222.93 L587.52 223.04 L588.75 223.14 L589.98 223.24 L591.21 223.34 L592.45 223.45 L593.68 223.55 L594.91 223.64 L596.14 223.74 L597.37 223.84 L598.60 223.94 L599.83 224.03 L600.06 224.05M359.71 16.16 L359.96 21.12 L360.20 25.80 L360.45 30.21 L360.70 34.38 L360.94 38.34 L361.19 42.10 L361.44 45.68 L361.68 49.08 L361.93 52.34 L362.17 55.44 L362.42 58.42 L362.67 61.27 L362.91 64.00 L363.16 66.63 L363.41 69.15 L363.65 71.58 L363.90 73.92 L364.14 76.17 L364.39 78.35 L364.64 80.45 L364.88 82.48 L365.13 84.45 L365.38 86.35 L365.62 88.19 L365.87 89.98 L366.12 91.71 L366.36 93.39 L366.61 95.02 L366.85 96.61 L367.10 98.15 L367.35 99.65 L367.59 101.11 L367.84 102.53 L368.09 103.92 L368.33 105.26 L368.58 106.58 L368.82 107.86 L369.07 109.11 L369.32 110.33 L369.56 111.53 L369.81 112.69 L370.06 113.83 L370.30 114.94 L370.55 116.03 L370.79 117.10 L371.04 118.14 L371.29 119.16 L371.53 120.16 L371.78 121.14 L372.03 122.09 L372.27 123.03 L372.52 123.95 L372.76 124.86 L373.01 125.74 L373.26 126.61 L373.50 127.46 L373.75 128.30 L374.00 129.12 L374.24 129.92 L374.49 130.71 L374.73 131.49 L374.98 132.26 L375.23 133.01 L375.47 133.74 L375.72 134.47 L375.97 135.18 L376.21 135.88 L376.46 136.57 L376.71 137.25 L376.95 137.92 L377.20 138.58 L377.44 139.23 L377.69 139.86 L377.94 140.49 L378.18 141.11 L378.43 141.72 L378.68 142.32 L378.92 142.91 L379.17 143.49 L379.41 144.06 L379.66 144.63 L379.91 145.19 L380.15 145.74 L380.40 146.28 L380.65 146.81 L380.89 147.34 L381.14 147.86 L381.38 148.37 L381.63 148.88 L381.88 149.38 L382.12 149.87 L382.37 150.36 L382.62 150.84 L382.86 151.31 L383.11 151.78 L383.35 152.24 L383.60 152.70 L383.85 153.15 L384.09 153.60 L384.34 154.04 L385.57 156.16 L386.80 158.16 L388.03 160.06 L389.27 161.85 L390.50 163.56 L391.73 165.18 L392.96 166.72 L394.19 168.19 L395.42 169.60 L396.65 170.95 L397.89 172.24 L399.12 173.47 L400.35 174.66 L401.58 175.80 L402.81 176.90 L404.04 177.95 L405.27 178.97 L406.50 179.95 L407.74 180.90 L408.97 181.82 L410.20 182.71 L411.43 183.56 L412.66 184.39 L413.89 185.20 L415.12 185.98 L416.36 186.74 L417.59 187.47 L418.82 188.19 L420.05 188.88 L421.28 189.56 L422.51 190.22 L423.74 190.86 L424.98 191.48 L426.21 192.09 L427.44 192.68 L428.67 193.26 L429.90 193.82 L431.13 194.37 L432.36 194.91 L433.60 195.43 L434.83 195.94 L436.06 196.44 L437.29 196.93 L438.52 197.41 L439.75 197.88 L440.98 198.34 L442.22 198.79 L443.45 199.23 L444.68 199.66 L445.91 200.08 L447.14 200.50 L448.37 200.90 L449.60 201.30 L450.84 201.69 L452.07 202.07 L453.30 202.45 L454.53 202.82 L455.76 203.18 L456.99 203.54 L458.22 203.88 L459.46 204.23 L460.69 204.57 L461.92 204.90 L463.15 205.22 L464.38 205.54 L465.61 205.86 L466.84 206.17 L468.07 206.47 L469.31 206.77 L470.54 207.07 L471.77 207.36 L473.00 207.65 L474.23 207.93 L475.46 208.20 L476.69 208.48 L477.93 208.75 L479.16 209.01 L480.39 209.27 L481.62 209.53 L482.85 209.78 L484.08 210.04 L485.31 210.28 L486.55 210.53 L487.78 210.77 L489.01 211.00 L490.24 211.24 L491.47 211.47 L492.70 211.69 L493.93 211.92 L495.17 212.14 L496.40 212.36 L497.63 212.57 L498.86 212.78 L500.09 213.00 L501.32 213.20 L502.55 213.41 L503.79 213.61 L505.02 213.81 L506.25 214.01 L507.48 214.20 L508.71 214.40 L509.94 214.59 L511.17 214.77 L512.41 214.96 L513.64 215.14 L514.87 215.33 L516.10 215.51 L517.33 215.68 L518.56 215.86 L519.79 216.03 L521.03 216.20 L522.26 216.37 L523.49 216.54 L524.72 216.71 L525.95 216.87 L527.18 217.04 L528.41 217.20 L529.64 217.36 L530.88 217.51 L532.11 217.67 L533.34 217.82 L534.57 217.98 L535.80 218.13 L537.03 218.28 L538.26 218.43 L539.50 218.57 L540.73 218.72 L541.96 218.86 L543.19 219.00 L544.42 219.15 L545.65 219.29 L546.88 219.42 L548.12 219.56 L549.35 219.70 L550.58 219.83 L551.81 219.96 L553.04 220.10 L554.27 220.23 L555.50 220.36 L556.74 220.49 L557.97 220.61 L559.20 220.74 L560.43 220.86 L561.66 220.99 L562.89 221.11 L564.12 221.23 L565.36 221.35 L566.59 221.47 L567.82 221.59 L569.05 221.71 L570.28 221.82 L571.51 221.94 L572.74 222.05 L573.98 222.17 L575.21 222.28 L576.44 222.39 L577.67 222.50 L578.90 222.61 L580.13 222.72 L581.36 222.83 L582.60 222.94 L583.83 223.04 L585.06 223.15 L586.29 223.25 L587.52 223.36 L588.75 223.46 L589.98 223.56 L591.21 223.66 L592.45 223.77 L593.68 223.87 L594.91 223.96 L596.14 224.06 L597.37 224.16 L598.60 224.26 L599.83 224.35 L600.06 224.37" fill="none" stroke="#000" stroke-width="1.28" stroke-dasharray="5.3 9.4" clip-path="url(#ca)"/>
<path d="M363.05 15.84 L363.29 19.05 L363.54 22.14 L363.79 25.11 L364.03 27.98 L364.28 30.74 L364.53 33.41 L364.77 35.99 L365.02 38.48 L365.26 40.90 L365.51 43.23 L365.76 45.50 L366.00 47.69 L366.25 49.82 L366.50 51.89 L366.74 53.90 L366.99 55.85 L367.24 57.75 L367.48 59.59 L367.73 61.39 L367.97 63.14 L368.22 64.85 L368.47 66.51 L368.71 68.13 L368.96 69.71 L369.21 71.26 L369.45 72.76 L369.70 74.24 L369.94 75.67 L370.19 77.08 L370.44 78.45 L370.68 79.80 L370.93 81.11 L371.18 82.40 L371.42 83.66 L371.67 84.90 L371.91 86.10 L372.16 87.29 L372.41 88.45 L372.65 89.59 L372.90 90.70 L373.15 91.80 L373.39 92.87 L373.64 93.93 L373.88 94.96 L374.13 95.98 L374.38 96.97 L374.62 97.95 L374.87 98.92 L375.12 99.86 L375.36 100.79 L375.61 101.70 L375.85 102.60 L376.10 103.49 L376.35 104.35 L376.59 105.21 L376.84 106.05 L377.09 106.88 L377.33 107.69 L377.58 108.50 L377.83 109.28 L378.07 110.06 L378.32 110.83 L378.56 111.58 L378.81 112.33 L379.06 113.06 L379.30 113.78 L379.55 114.49 L379.80 115.19 L380.04 115.88 L380.29 116.57 L380.53 117.24 L380.78 117.90 L381.03 118.56 L381.27 119.20 L381.52 119.84 L381.77 120.47 L382.01 121.09 L382.26 121.70 L382.50 122.30 L382.75 122.90 L383.00 123.49 L383.24 124.07 L383.49 124.64 L383.74 125.21 L383.98 125.77 L384.23 126.32 L384.47 126.87 L384.72 127.41 L384.97 127.94 L385.21 128.47 L385.46 128.99 L385.71 129.51 L385.95 130.02 L386.20 130.52 L386.44 131.02 L386.69 131.51 L386.94 132.00 L387.18 132.48 L387.43 132.95 L387.68 133.42 L388.91 135.70 L390.14 137.87 L391.37 139.92 L392.60 141.88 L393.83 143.74 L395.06 145.52 L396.30 147.23 L397.53 148.86 L398.76 150.42 L399.99 151.92 L401.22 153.36 L402.45 154.75 L403.68 156.09 L404.92 157.37 L406.15 158.61 L407.38 159.81 L408.61 160.97 L409.84 162.09 L411.07 163.17 L412.30 164.22 L413.54 165.24 L414.77 166.22 L416.00 167.18 L417.23 168.10 L418.46 169.00 L419.69 169.88 L420.92 170.73 L422.16 171.56 L423.39 172.37 L424.62 173.15 L425.85 173.92 L427.08 174.66 L428.31 175.39 L429.54 176.10 L430.78 176.79 L432.01 177.47 L433.24 178.13 L434.47 178.77 L435.70 179.40 L436.93 180.02 L438.16 180.62 L439.40 181.21 L440.63 181.79 L441.86 182.35 L443.09 182.90 L444.32 183.45 L445.55 183.98 L446.78 184.50 L448.01 185.01 L449.25 185.51 L450.48 186.00 L451.71 186.48 L452.94 186.95 L454.17 187.41 L455.40 187.87 L456.63 188.32 L457.87 188.76 L459.10 189.19 L460.33 189.61 L461.56 190.03 L462.79 190.44 L464.02 190.84 L465.25 191.23 L466.49 191.62 L467.72 192.01 L468.95 192.38 L470.18 192.75 L471.41 193.12 L472.64 193.48 L473.87 193.83 L475.11 194.18 L476.34 194.52 L477.57 194.86 L478.80 195.19 L480.03 195.52 L481.26 195.85 L482.49 196.16 L483.73 196.48 L484.96 196.79 L486.19 197.09 L487.42 197.39 L488.65 197.69 L489.88 197.98 L491.11 198.27 L492.35 198.56 L493.58 198.84 L494.81 199.12 L496.04 199.39 L497.27 199.66 L498.50 199.93 L499.73 200.19 L500.97 200.45 L502.20 200.71 L503.43 200.96 L504.66 201.22 L505.89 201.46 L507.12 201.71 L508.35 201.95 L509.58 202.19 L510.82 202.42 L512.05 202.66 L513.28 202.89 L514.51 203.12 L515.74 203.34 L516.97 203.56 L518.20 203.79 L519.44 204.00 L520.67 204.22 L521.90 204.43 L523.13 204.64 L524.36 204.85 L525.59 205.06 L526.82 205.26 L528.06 205.46 L529.29 205.66 L530.52 205.86 L531.75 206.06 L532.98 206.25 L534.21 206.44 L535.44 206.63 L536.68 206.82 L537.91 207.00 L539.14 207.19 L540.37 207.37 L541.60 207.55 L542.83 207.73 L544.06 207.91 L545.30 208.08 L546.53 208.26 L547.76 208.43 L548.99 208.60 L550.22 208.77 L551.45 208.93 L552.68 209.10 L553.92 209.26 L555.15 209.42 L556.38 209.59 L557.61 209.74 L558.84 209.90 L560.07 210.06 L561.30 210.21 L562.54 210.37 L563.77 210.52 L565.00 210.67 L566.23 210.82 L567.46 210.97 L568.69 211.12 L569.92 211.26 L571.15 211.41 L572.39 211.55 L573.62 211.69 L574.85 211.84 L576.08 211.98 L577.31 212.11 L578.54 212.25 L579.77 212.39 L581.01 212.52 L582.24 212.66 L583.47 212.79 L584.70 212.92 L585.93 213.05 L587.16 213.19 L588.39 213.31 L589.63 213.44 L590.86 213.57 L592.09 213.70 L593.32 213.82 L594.55 213.94 L595.78 214.07 L597.01 214.19 L598.25 214.31 L599.48 214.43 L600.06 214.49M363.05 16.16 L363.29 19.37 L363.54 22.46 L363.79 25.43 L364.03 28.30 L364.28 31.06 L364.53 33.73 L364.77 36.31 L365.02 38.80 L365.26 41.22 L365.51 43.55 L365.76 45.82 L366.00 48.01 L366.25 50.14 L366.50 52.21 L366.74 54.22 L366.99 56.17 L367.24 58.07 L367.48 59.91 L367.73 61.71 L367.97 63.46 L368.22 65.17 L368.47 66.83 L368.71 68.45 L368.96 70.03 L369.21 71.58 L369.45 73.08 L369.70 74.56 L369.94 75.99 L370.19 77.40 L370.44 78.77 L370.68 80.12 L370.93 81.43 L371.18 82.72 L371.42 83.98 L371.67 85.22 L371.91 86.42 L372.16 87.61 L372.41 88.77 L372.65 89.91 L372.90 91.02 L373.15 92.12 L373.39 93.19 L373.64 94.25 L373.88 95.28 L374.13 96.30 L374.38 97.29 L374.62 98.27 L374.87 99.24 L375.12 100.18 L375.36 101.11 L375.61 102.02 L375.85 102.92 L376.10 103.81 L376.35 104.67 L376.59 105.53 L376.84 106.37 L377.09 107.20 L377.33 108.01 L377.58 108.82 L377.83 109.60 L378.07 110.38 L378.32 111.15 L378.56 111.90 L378.81 112.65 L379.06 113.38 L379.30 114.10 L379.55 114.81 L379.80 115.51 L380.04 116.20 L380.29 116.89 L380.53 117.56 L380.78 118.22 L381.03 118.88 L381.27 119.52 L381.52 120.16 L381.77 120.79 L382.01 121.41 L382.26 122.02 L382.50 122.62 L382.75 123.22 L383.00 123.81 L383.24 124.39 L383.49 124.96 L383.74 125.53 L383.98 126.09 L384.23 126.64 L384.47 127.19 L384.72 127.73 L384.97 128.26 L385.21 128.79 L385.46 129.31 L385.71 129.83 L385.95 130.34 L386.20 130.84 L386.44 131.34 L386.69 131.83 L386.94 132.32 L387.18 132.80 L387.43 133.27 L387.68 133.74 L388.91 136.02 L390.14 138.19 L391.37 140.24 L392.60 142.20 L393.83 144.06 L395.06 145.84 L396.30 147.55 L397.53 149.18 L398.76 150.74 L399.99 152.24 L401.22 153.68 L402.45 155.07 L403.68 156.41 L404.92 157.69 L406.15 158.93 L407.38 160.13 L408.61 161.29 L409.84 162.41 L411.07 163.49 L412.30 164.54 L413.54 165.56 L414.77 166.54 L416.00 167.50 L417.23 168.42 L418.46 169.32 L419.69 170.20 L420.92 171.05 L422.16 171.88 L423.39 172.69 L424.62 173.47 L425.85 174.24 L427.08 174.98 L428.31 175.71 L429.54 176.42 L430.78 177.11 L432.01 177.79 L433.24 178.45 L434.47 179.09 L435.70 179.72 L436.93 180.34 L438.16 180.94 L439.40 181.53 L440.63 182.11 L441.86 182.67 L443.09 183.22 L444.32 183.77 L445.55 184.30 L446.78 184.82 L448.01 185.33 L449.25 185.83 L450.48 186.32 L451.71 186.80 L452.94 187.27 L454.17 187.73 L455.40 188.19 L456.63 188.64 L457.87 189.08 L459.10 189.51 L460.33 189.93 L461.56 190.35 L462.79 190.76 L464.02 191.16 L465.25 191.55 L466.49 191.94 L467.72 192.33 L468.95 192.70 L470.18 193.07 L471.41 193.44 L472.64 193.80 L473.87 194.15 L475.11 194.50 L476.34 194.84 L477.57 195.18 L478.80 195.51 L480.03 195.84 L481.26 196.17 L482.49 196.48 L483.73 196.80 L484.96 197.11 L486.19 197.41 L487.42 197.71 L488.65 198.01 L489.88 198.30 L491.11 198.59 L492.35 198.88 L493.58 199.16 L494.81 199.44 L496.04 199.71 L497.27 199.98 L498.50 200.25 L499.73 200.51 L500.97 200.77 L502.20 201.03 L503.43 201.28 L504.66 201.54 L505.89 201.78 L507.12 202.03 L508.35 202.27 L509.58 202.51 L510.82 202.74 L512.05 202.98 L513.28 203.21 L514.51 203.44 L515.74 203.66 L516.97 203.88 L518.20 204.11 L519.44 204.32 L520.67 204.54 L521.90 204.75 L523.13 204.96 L524.36 205.17 L525.59 205.38 L526.82 205.58 L528.06 205.78 L529.29 205.98 L530.52 206.18 L531.75 206.38 L532.98 206.57 L534.21 206.76 L535.44 206.95 L536.68 207.14 L537.91 207.32 L539.14 207.51 L540.37 207.69 L541.60 207.87 L542.83 208.05 L544.06 208.23 L545.30 208.40 L546.53 208.58 L547.76 208.75 L548.99 208.92 L550.22 209.09 L551.45 209.25 L552.68 209.42 L553.92 209.58 L555.15 209.74 L556.38 209.91 L557.61 210.06 L558.84 210.22 L560.07 210.38 L561.30 210.53 L562.54 210.69 L563.77 210.84 L565.00 210.99 L566.23 211.14 L567.46 211.29 L568.69 211.44 L569.92 211.58 L571.15 211.73 L572.39 211.87 L573.62 212.01 L574.85 212.16 L576.08 212.30 L577.31 212.43 L578.54 212.57 L579.77 212.71 L581.01 212.84 L582.24 212.98 L583.47 213.11 L584.70 213.24 L585.93 213.37 L587.16 213.51 L588.39 213.63 L589.63 213.76 L590.86 213.89 L592.09 214.02 L593.32 214.14 L594.55 214.26 L595.78 214.39 L597.01 214.51 L598.25 214.63 L599.48 214.75 L600.06 214.81" fill="none" stroke="#000" stroke-width="1.28" stroke-dasharray="5.3 9.4" clip-path="url(#ca)"/>
<path d="M107.50 508.26 L109.96 508.26 L112.43 508.26 L114.89 508.25 L117.35 508.25 L119.81 508.25 L122.28 508.25 L124.74 508.25 L127.20 508.25 L129.67 508.25 L132.13 508.25 L134.59 508.25 L137.05 508.25 L139.52 508.25 L141.98 508.25 L144.44 508.25 L146.90 508.24 L149.37 508.24 L151.83 508.24 L154.29 508.24 L156.76 508.24 L159.22 508.24 L161.68 508.24 L164.14 508.23 L166.61 508.23 L169.07 508.23 L171.53 508.23 L174.00 508.23 L176.46 508.22 L178.92 508.22 L181.38 508.22 L183.85 508.22 L186.31 508.21 L188.77 508.21 L191.24 508.21 L193.70 508.21 L196.16 508.20 L198.62 508.20 L201.09 508.20 L203.55 508.20 L206.01 508.19 L208.47 508.19 L210.94 508.19 L213.40 508.18 L215.86 508.18 L218.33 508.18 L220.79 508.17 L223.25 508.17 L225.71 508.17 L228.18 508.16 L230.64 508.16 L233.10 508.16 L235.57 508.15 L238.03 508.15 L240.49 508.14 L242.95 508.14 L245.42 508.13 L247.88 508.12 L250.34 508.11 L252.81 508.11 L255.27 508.10 L257.73 508.09 L260.19 508.08 L262.66 508.07 L265.12 508.06 L267.58 508.04 L270.04 508.03 L272.51 508.02 L274.97 508.00 L277.43 507.99 L279.90 507.97 L282.36 507.96 L284.82 507.94 L287.28 507.92 L289.75 507.91 L292.21 507.89 L294.67 507.87 L297.14 507.85 L299.60 507.83 L302.06 507.80 L304.52 507.78 L306.99 507.75 L309.45 507.71 L311.91 507.66 L314.38 507.60 L316.84 507.54 L319.30 507.47 L321.76 507.40 L324.23 507.34 L326.69 507.27 L329.15 507.21 L331.61 507.16 L334.08 507.11 L336.54 507.06 L339.00 507.02 L341.47 506.97 L343.93 506.92 L346.39 506.86 L348.85 506.80 L351.32 506.73 L353.78 506.64 L356.24 506.53 L358.71 506.39 L361.17 506.22 L363.63 506.02 L366.09 505.79 L368.56 505.53 L371.02 505.26 L373.48 504.92 L375.95 504.52 L378.41 504.04 L380.87 503.50 L383.33 502.91 L385.80 502.24 L388.26 501.42 L390.72 500.44 L393.18 499.26 L395.65 497.73 L398.11 496.01 L400.57 494.08 L403.04 491.95 L405.50 489.95 L407.96 488.06 L410.42 486.29 L412.89 484.68 L415.35 483.17 L417.81 481.77 L420.28 480.48 L422.74 479.24 L425.20 478.11 L427.66 477.17 L430.13 476.38 L432.59 475.68 L435.05 475.08 L437.52 474.56 L439.98 474.10 L442.44 473.71 L444.90 473.36 L447.37 473.06 L449.83 472.77 L452.29 472.48 L454.75 472.23 L457.22 472.04 L459.68 471.95 L462.14 471.98 L464.61 472.07 L467.07 472.19 L469.53 472.31 L471.99 472.40 L474.46 472.49 L476.92 472.61 L479.38 472.83 L481.85 473.15 L484.31 473.52 L486.77 473.89 L489.23 474.25 L491.70 474.62 L494.16 475.01 L496.62 475.40 L499.09 475.77 L501.55 476.12 L504.01 476.44 L506.47 476.76 L508.94 477.06 L511.40 477.34 L513.86 477.61 L516.32 477.85 L518.79 478.08 L521.25 478.30 L523.71 478.51 L526.18 478.69 L528.64 478.83 L531.10 478.94 L533.56 479.04 L536.03 479.13 L538.49 479.20 L540.95 479.25 L543.42 479.27 L545.88 479.27 L548.34 479.27 L550.80 479.27 L553.27 479.27 L555.73 479.27 L558.19 479.27 L560.66 479.25 L563.12 479.22 L565.58 479.19 L568.04 479.17 L570.51 479.15 L572.97 479.15 L575.43 479.15 L577.89 479.15 L580.36 479.15 L582.82 479.15 L585.28 479.15 L587.75 479.15 L590.21 479.15 L592.67 479.15 L595.13 479.15 L597.60 479.15 L600.06 479.15M107.50 508.86 L109.96 508.86 L112.43 508.86 L114.89 508.85 L117.35 508.85 L119.81 508.85 L122.28 508.85 L124.74 508.85 L127.20 508.85 L129.67 508.85 L132.13 508.85 L134.59 508.85 L137.05 508.85 L139.52 508.85 L141.98 508.85 L144.44 508.85 L146.90 508.84 L149.37 508.84 L151.83 508.84 L154.29 508.84 L156.76 508.84 L159.22 508.84 L161.68 508.84 L164.14 508.83 L166.61 508.83 L169.07 508.83 L171.53 508.83 L174.00 508.83 L176.46 508.82 L178.92 508.82 L181.38 508.82 L183.85 508.82 L186.31 508.81 L188.77 508.81 L191.24 508.81 L193.70 508.81 L196.16 508.80 L198.62 508.80 L201.09 508.80 L203.55 508.80 L206.01 508.79 L208.47 508.79 L210.94 508.79 L213.40 508.78 L215.86 508.78 L218.33 508.78 L220.79 508.77 L223.25 508.77 L225.71 508.77 L228.18 508.76 L230.64 508.76 L233.10 508.76 L235.57 508.75 L238.03 508.75 L240.49 508.74 L242.95 508.74 L245.42 508.73 L247.88 508.72 L250.34 508.71 L252.81 508.71 L255.27 508.70 L257.73 508.69 L260.19 508.68 L262.66 508.67 L265.12 508.66 L267.58 508.64 L270.04 508.63 L272.51 508.62 L274.97 508.60 L277.43 508.59 L279.90 508.57 L282.36 508.56 L284.82 508.54 L287.28 508.52 L289.75 508.51 L292.21 508.49 L294.67 508.47 L297.14 508.45 L299.60 508.43 L302.06 508.40 L304.52 508.38 L306.99 508.35 L309.45 508.31 L311.91 508.26 L314.38 508.20 L316.84 508.14 L319.30 508.07 L321.76 508.00 L324.23 507.94 L326.69 507.87 L329.15 507.81 L331.61 507.76 L334.08 507.71 L336.54 507.66 L339.00 507.62 L341.47 507.57 L343.93 507.52 L346.39 507.46 L348.85 507.40 L351.32 507.33 L353.78 507.24 L356.24 507.13 L358.71 506.99 L361.17 506.82 L363.63 506.62 L366.09 506.39 L368.56 506.13 L371.02 505.86 L373.48 505.52 L375.95 505.12 L378.41 504.64 L380.87 504.10 L383.33 503.51 L385.80 502.84 L388.26 502.02 L390.72 501.04 L393.18 499.86 L395.65 498.33 L398.11 496.61 L400.57 494.68 L403.04 492.55 L405.50 490.55 L407.96 488.66 L410.42 486.89 L412.89 485.28 L415.35 483.77 L417.81 482.37 L420.28 481.08 L422.74 479.84 L425.20 478.71 L427.66 477.77 L430.13 476.98 L432.59 476.28 L435.05 475.68 L437.52 475.16 L439.98 474.70 L442.44 474.31 L444.90 473.96 L447.37 473.66 L449.83 473.37 L452.29 473.08 L454.75 472.83 L457.22 472.64 L459.68 472.55 L462.14 472.58 L464.61 472.67 L467.07 472.79 L469.53 472.91 L471.99 473.00 L474.46 473.09 L476.92 473.21 L479.38 473.43 L481.85 473.75 L484.31 474.12 L486.77 474.49 L489.23 474.85 L491.70 475.22 L494.16 475.61 L496.62 476.00 L499.09 476.37 L501.55 476.72 L504.01 477.04 L506.47 477.36 L508.94 477.66 L511.40 477.94 L513.86 478.21 L516.32 478.45 L518.79 478.68 L521.25 478.90 L523.71 479.11 L526.18 479.29 L528.64 479.43 L531.10 479.54 L533.56 479.64 L536.03 479.73 L538.49 479.80 L540.95 479.85 L543.42 479.87 L545.88 479.87 L548.34 479.87 L550.80 479.87 L553.27 479.87 L555.73 479.87 L558.19 479.87 L560.66 479.85 L563.12 479.82 L565.58 479.79 L568.04 479.77 L570.51 479.75 L572.97 479.75 L575.43 479.75 L577.89 479.75 L580.36 479.75 L582.82 479.75 L585.28 479.75 L587.75 479.75 L590.21 479.75 L592.67 479.75 L595.13 479.75 L597.60 479.75 L600.06 479.75" fill="none" stroke="#ff0000" stroke-width="2.45" stroke-linejoin="miter" stroke-miterlimit="6" clip-path="url(#cb)"/>
<path d="M107.50 508.16 L109.96 508.16 L112.43 508.16 L114.89 508.16 L117.35 508.16 L119.81 508.16 L122.28 508.15 L124.74 508.15 L127.20 508.15 L129.67 508.15 L132.13 508.14 L134.59 508.14 L137.05 508.13 L139.52 508.13 L141.98 508.13 L144.44 508.12 L146.90 508.12 L149.37 508.11 L151.83 508.10 L154.29 508.10 L156.76 508.09 L159.22 508.08 L161.68 508.08 L164.14 508.07 L166.61 508.06 L169.07 508.05 L171.53 508.05 L174.00 508.04 L176.46 508.03 L178.92 508.02 L181.38 508.01 L183.85 508.00 L186.31 507.99 L188.77 507.98 L191.24 507.97 L193.70 507.96 L196.16 507.95 L198.62 507.94 L201.09 507.93 L203.55 507.92 L206.01 507.91 L208.47 507.89 L210.94 507.88 L213.40 507.87 L215.86 507.86 L218.33 507.85 L220.79 507.83 L223.25 507.82 L225.71 507.81 L228.18 507.79 L230.64 507.78 L233.10 507.77 L235.57 507.75 L238.03 507.73 L240.49 507.71 L242.95 507.69 L245.42 507.67 L247.88 507.65 L250.34 507.62 L252.81 507.59 L255.27 507.56 L257.73 507.53 L260.19 507.50 L262.66 507.47 L265.12 507.43 L267.58 507.39 L270.04 507.36 L272.51 507.32 L274.97 507.27 L277.43 507.23 L279.90 507.18 L282.36 507.14 L284.82 507.09 L287.28 507.04 L289.75 506.99 L292.21 506.93 L294.67 506.88 L297.14 506.82 L299.60 506.76 L302.06 506.70 L304.52 506.64 L306.99 506.58 L309.45 506.50 L311.91 506.41 L314.38 506.31 L316.84 506.20 L319.30 506.08 L321.76 505.96 L324.23 505.82 L326.69 505.67 L329.15 505.51 L331.61 505.32 L334.08 505.10 L336.54 504.84 L339.00 504.55 L341.47 504.24 L343.93 503.92 L346.39 503.58 L348.85 503.20 L351.32 502.77 L353.78 502.28 L356.24 501.76 L358.71 501.17 L361.17 500.44 L363.63 499.48 L366.09 498.09 L368.56 496.32 L371.02 494.26 L373.48 491.60 L375.95 488.34 L378.41 484.54 L380.87 479.85 L383.33 474.96 L385.80 469.78 L388.26 464.97 L390.72 461.01 L393.18 457.57 L395.65 454.94 L398.11 452.83 L400.57 451.20 L403.04 450.09 L405.50 449.20 L407.96 448.53 L410.42 448.17 L412.89 447.92 L415.35 447.75 L417.81 447.68 L420.28 447.87 L422.74 448.32 L425.20 448.86 L427.66 449.38 L430.13 449.98 L432.59 450.63 L435.05 451.28 L437.52 451.93 L439.98 452.61 L442.44 453.27 L444.90 453.84 L447.37 454.31 L449.83 454.75 L452.29 455.13 L454.75 455.41 L457.22 455.61 L459.68 455.76 L462.14 455.89 L464.61 456.00 L467.07 456.10 L469.53 456.18 L471.99 456.24 L474.46 456.32 L476.92 456.40 L479.38 456.51 L481.85 456.62 L484.31 456.75 L486.77 456.90 L489.23 457.09 L491.70 457.34 L494.16 457.63 L496.62 457.97 L499.09 458.32 L501.55 458.68 L504.01 459.06 L506.47 459.49 L508.94 459.95 L511.40 460.41 L513.86 460.87 L516.32 461.32 L518.79 461.78 L521.25 462.25 L523.71 462.71 L526.18 463.14 L528.64 463.54 L531.10 463.89 L533.56 464.22 L536.03 464.53 L538.49 464.82 L540.95 465.09 L543.42 465.34 L545.88 465.58 L548.34 465.80 L550.80 466.02 L553.27 466.21 L555.73 466.38 L558.19 466.52 L560.66 466.65 L563.12 466.76 L565.58 466.86 L568.04 466.96 L570.51 467.05 L572.97 467.14 L575.43 467.22 L577.89 467.30 L580.36 467.37 L582.82 467.43 L585.28 467.49 L587.75 467.55 L590.21 467.60 L592.67 467.65 L595.13 467.70 L597.60 467.74 L600.06 467.78M107.50 508.76 L109.96 508.76 L112.43 508.76 L114.89 508.76 L117.35 508.76 L119.81 508.76 L122.28 508.75 L124.74 508.75 L127.20 508.75 L129.67 508.75 L132.13 508.74 L134.59 508.74 L137.05 508.73 L139.52 508.73 L141.98 508.73 L144.44 508.72 L146.90 508.72 L149.37 508.71 L151.83 508.70 L154.29 508.70 L156.76 508.69 L159.22 508.68 L161.68 508.68 L164.14 508.67 L166.61 508.66 L169.07 508.65 L171.53 508.65 L174.00 508.64 L176.46 508.63 L178.92 508.62 L181.38 508.61 L183.85 508.60 L186.31 508.59 L188.77 508.58 L191.24 508.57 L193.70 508.56 L196.16 508.55 L198.62 508.54 L201.09 508.53 L203.55 508.52 L206.01 508.51 L208.47 508.49 L210.94 508.48 L213.40 508.47 L215.86 508.46 L218.33 508.45 L220.79 508.43 L223.25 508.42 L225.71 508.41 L228.18 508.39 L230.64 508.38 L233.10 508.37 L235.57 508.35 L238.03 508.33 L240.49 508.31 L242.95 508.29 L245.42 508.27 L247.88 508.25 L250.34 508.22 L252.81 508.19 L255.27 508.16 L257.73 508.13 L260.19 508.10 L262.66 508.07 L265.12 508.03 L267.58 507.99 L270.04 507.96 L272.51 507.92 L274.97 507.87 L277.43 507.83 L279.90 507.78 L282.36 507.74 L284.82 507.69 L287.28 507.64 L289.75 507.59 L292.21 507.53 L294.67 507.48 L297.14 507.42 L299.60 507.36 L302.06 507.30 L304.52 507.24 L306.99 507.18 L309.45 507.10 L311.91 507.01 L314.38 506.91 L316.84 506.80 L319.30 506.68 L321.76 506.56 L324.23 506.42 L326.69 506.27 L329.15 506.11 L331.61 505.92 L334.08 505.70 L336.54 505.44 L339.00 505.15 L341.47 504.84 L343.93 504.52 L346.39 504.18 L348.85 503.80 L351.32 503.37 L353.78 502.88 L356.24 502.36 L358.71 501.77 L361.17 501.04 L363.63 500.08 L366.09 498.69 L368.56 496.92 L371.02 494.86 L373.48 492.20 L375.95 488.94 L378.41 485.14 L380.87 480.45 L383.33 475.56 L385.80 470.38 L388.26 465.57 L390.72 461.61 L393.18 458.17 L395.65 455.54 L398.11 453.43 L400.57 451.80 L403.04 450.69 L405.50 449.80 L407.96 449.13 L410.42 448.77 L412.89 448.52 L415.35 448.35 L417.81 448.28 L420.28 448.47 L422.74 448.92 L425.20 449.46 L427.66 449.98 L430.13 450.58 L432.59 451.23 L435.05 451.88 L437.52 452.53 L439.98 453.21 L442.44 453.87 L444.90 454.44 L447.37 454.91 L449.83 455.35 L452.29 455.73 L454.75 456.01 L457.22 456.21 L459.68 456.36 L462.14 456.49 L464.61 456.60 L467.07 456.70 L469.53 456.78 L471.99 456.84 L474.46 456.92 L476.92 457.00 L479.38 457.11 L481.85 457.22 L484.31 457.35 L486.77 457.50 L489.23 457.69 L491.70 457.94 L494.16 458.23 L496.62 458.57 L499.09 458.92 L501.55 459.28 L504.01 459.66 L506.47 460.09 L508.94 460.55 L511.40 461.01 L513.86 461.47 L516.32 461.92 L518.79 462.38 L521.25 462.85 L523.71 463.31 L526.18 463.74 L528.64 464.14 L531.10 464.49 L533.56 464.82 L536.03 465.13 L538.49 465.42 L540.95 465.69 L543.42 465.94 L545.88 466.18 L548.34 466.40 L550.80 466.62 L553.27 466.81 L555.73 466.98 L558.19 467.12 L560.66 467.25 L563.12 467.36 L565.58 467.46 L568.04 467.56 L570.51 467.65 L572.97 467.74 L575.43 467.82 L577.89 467.90 L580.36 467.97 L582.82 468.03 L585.28 468.09 L587.75 468.15 L590.21 468.20 L592.67 468.25 L595.13 468.30 L597.60 468.34 L600.06 468.38" fill="none" stroke="#00ff00" stroke-width="2.45" stroke-linejoin="miter" stroke-miterlimit="6" clip-path="url(#cb)"/>
<path d="M107.50 507.97 L109.96 507.96 L112.43 507.95 L114.89 507.95 L117.35 507.94 L119.81 507.93 L122.28 507.92 L124.74 507.91 L127.20 507.90 L129.67 507.89 L132.13 507.88 L134.59 507.87 L137.05 507.86 L139.52 507.84 L141.98 507.83 L144.44 507.82 L146.90 507.81 L149.37 507.79 L151.83 507.78 L154.29 507.77 L156.76 507.76 L159.22 507.74 L161.68 507.73 L164.14 507.71 L166.61 507.70 L169.07 507.69 L171.53 507.67 L174.00 507.66 L176.46 507.64 L178.92 507.63 L181.38 507.61 L183.85 507.60 L186.31 507.58 L188.77 507.57 L191.24 507.55 L193.70 507.54 L196.16 507.52 L198.62 507.50 L201.09 507.49 L203.55 507.47 L206.01 507.45 L208.47 507.43 L210.94 507.41 L213.40 507.39 L215.86 507.37 L218.33 507.34 L220.79 507.32 L223.25 507.29 L225.71 507.27 L228.18 507.24 L230.64 507.21 L233.10 507.18 L235.57 507.15 L238.03 507.11 L240.49 507.06 L242.95 507.02 L245.42 506.97 L247.88 506.91 L250.34 506.86 L252.81 506.80 L255.27 506.74 L257.73 506.68 L260.19 506.61 L262.66 506.53 L265.12 506.46 L267.58 506.38 L270.04 506.29 L272.51 506.20 L274.97 506.10 L277.43 505.99 L279.90 505.89 L282.36 505.77 L284.82 505.64 L287.28 505.50 L289.75 505.35 L292.21 505.19 L294.67 505.03 L297.14 504.85 L299.60 504.67 L302.06 504.47 L304.52 504.27 L306.99 504.07 L309.45 503.85 L311.91 503.62 L314.38 503.38 L316.84 503.12 L319.30 502.84 L321.76 502.55 L324.23 502.23 L326.69 501.89 L329.15 501.52 L331.61 501.12 L334.08 500.66 L336.54 500.12 L339.00 499.52 L341.47 498.83 L343.93 498.03 L346.39 497.05 L348.85 495.89 L351.32 494.54 L353.78 492.99 L356.24 491.12 L358.71 488.75 L361.17 485.80 L363.63 481.94 L366.09 476.17 L368.56 469.68 L371.02 462.38 L373.48 454.94 L375.95 447.42 L378.41 440.67 L380.87 435.28 L383.33 430.65 L385.80 427.17 L388.26 424.36 L390.72 422.56 L393.18 421.81 L395.65 421.38 L398.11 421.42 L400.57 421.87 L403.04 422.47 L405.50 423.26 L407.96 424.27 L410.42 425.25 L412.89 426.04 L415.35 426.78 L417.81 427.46 L420.28 428.02 L422.74 428.44 L425.20 428.79 L427.66 429.10 L430.13 429.39 L432.59 429.68 L435.05 429.93 L437.52 430.19 L439.98 430.51 L442.44 430.96 L444.90 431.60 L447.37 432.35 L449.83 433.13 L452.29 433.88 L454.75 434.68 L457.22 435.50 L459.68 436.33 L462.14 437.19 L464.61 438.09 L467.07 438.95 L469.53 439.71 L471.99 440.41 L474.46 441.05 L476.92 441.62 L479.38 442.13 L481.85 442.61 L484.31 443.03 L486.77 443.39 L489.23 443.67 L491.70 443.89 L494.16 444.07 L496.62 444.25 L499.09 444.43 L501.55 444.65 L504.01 444.89 L506.47 445.14 L508.94 445.41 L511.40 445.71 L513.86 446.04 L516.32 446.42 L518.79 446.91 L521.25 447.48 L523.71 448.09 L526.18 448.71 L528.64 449.28 L531.10 449.82 L533.56 450.36 L536.03 450.89 L538.49 451.40 L540.95 451.86 L543.42 452.27 L545.88 452.64 L548.34 453.00 L550.80 453.33 L553.27 453.61 L555.73 453.85 L558.19 454.02 L560.66 454.15 L563.12 454.26 L565.58 454.36 L568.04 454.46 L570.51 454.57 L572.97 454.69 L575.43 454.80 L577.89 454.91 L580.36 455.03 L582.82 455.16 L585.28 455.32 L587.75 455.50 L590.21 455.70 L592.67 455.93 L595.13 456.18 L597.60 456.44 L600.06 456.73M107.50 508.57 L109.96 508.56 L112.43 508.55 L114.89 508.55 L117.35 508.54 L119.81 508.53 L122.28 508.52 L124.74 508.51 L127.20 508.50 L129.67 508.49 L132.13 508.48 L134.59 508.47 L137.05 508.46 L139.52 508.44 L141.98 508.43 L144.44 508.42 L146.90 508.41 L149.37 508.39 L151.83 508.38 L154.29 508.37 L156.76 508.36 L159.22 508.34 L161.68 508.33 L164.14 508.31 L166.61 508.30 L169.07 508.29 L171.53 508.27 L174.00 508.26 L176.46 508.24 L178.92 508.23 L181.38 508.21 L183.85 508.20 L186.31 508.18 L188.77 508.17 L191.24 508.15 L193.70 508.14 L196.16 508.12 L198.62 508.10 L201.09 508.09 L203.55 508.07 L206.01 508.05 L208.47 508.03 L210.94 508.01 L213.40 507.99 L215.86 507.97 L218.33 507.94 L220.79 507.92 L223.25 507.89 L225.71 507.87 L228.18 507.84 L230.64 507.81 L233.10 507.78 L235.57 507.75 L238.03 507.71 L240.49 507.66 L242.95 507.62 L245.42 507.57 L247.88 507.51 L250.34 507.46 L252.81 507.40 L255.27 507.34 L257.73 507.28 L260.19 507.21 L262.66 507.13 L265.12 507.06 L267.58 506.98 L270.04 506.89 L272.51 506.80 L274.97 506.70 L277.43 506.59 L279.90 506.49 L282.36 506.37 L284.82 506.24 L287.28 506.10 L289.75 505.95 L292.21 505.79 L294.67 505.63 L297.14 505.45 L299.60 505.27 L302.06 505.07 L304.52 504.87 L306.99 504.67 L309.45 504.45 L311.91 504.22 L314.38 503.98 L316.84 503.72 L319.30 503.44 L321.76 503.15 L324.23 502.83 L326.69 502.49 L329.15 502.12 L331.61 501.72 L334.08 501.26 L336.54 500.72 L339.00 500.12 L341.47 499.43 L343.93 498.63 L346.39 497.65 L348.85 496.49 L351.32 495.14 L353.78 493.59 L356.24 491.72 L358.71 489.35 L361.17 486.40 L363.63 482.54 L366.09 476.77 L368.56 470.28 L371.02 462.98 L373.48 455.54 L375.95 448.02 L378.41 441.27 L380.87 435.88 L383.33 431.25 L385.80 427.77 L388.26 424.96 L390.72 423.16 L393.18 422.41 L395.65 421.98 L398.11 422.02 L400.57 422.47 L403.04 423.07 L405.50 423.86 L407.96 424.87 L410.42 425.85 L412.89 426.64 L415.35 427.38 L417.81 428.06 L420.28 428.62 L422.74 429.04 L425.20 429.39 L427.66 429.70 L430.13 429.99 L432.59 430.28 L435.05 430.53 L437.52 430.79 L439.98 431.11 L442.44 431.56 L444.90 432.20 L447.37 432.95 L449.83 433.73 L452.29 434.48 L454.75 435.28 L457.22 436.10 L459.68 436.93 L462.14 437.79 L464.61 438.69 L467.07 439.55 L469.53 440.31 L471.99 441.01 L474.46 441.65 L476.92 442.22 L479.38 442.73 L481.85 443.21 L484.31 443.63 L486.77 443.99 L489.23 444.27 L491.70 444.49 L494.16 444.67 L496.62 444.85 L499.09 445.03 L501.55 445.25 L504.01 445.49 L506.47 445.74 L508.94 446.01 L511.40 446.31 L513.86 446.64 L516.32 447.02 L518.79 447.51 L521.25 448.08 L523.71 448.69 L526.18 449.31 L528.64 449.88 L531.10 450.42 L533.56 450.96 L536.03 451.49 L538.49 452.00 L540.95 452.46 L543.42 452.87 L545.88 453.24 L548.34 453.60 L550.80 453.93 L553.27 454.21 L555.73 454.45 L558.19 454.62 L560.66 454.75 L563.12 454.86 L565.58 454.96 L568.04 455.06 L570.51 455.17 L572.97 455.29 L575.43 455.40 L577.89 455.51 L580.36 455.63 L582.82 455.76 L585.28 455.92 L587.75 456.10 L590.21 456.30 L592.67 456.53 L595.13 456.78 L597.60 457.04 L600.06 457.33" fill="none" stroke="#0000ff" stroke-width="2.45" stroke-linejoin="miter" stroke-miterlimit="6" clip-path="url(#cb)"/>
<path d="M357.12 262.03 L357.36 270.65 L357.61 278.43 L357.86 285.49 L358.10 291.93 L358.35 297.85 L358.59 303.31 L358.84 308.37 L359.09 313.06 L359.33 317.45 L359.58 321.55 L359.83 325.40 L360.07 329.01 L360.32 332.43 L360.56 335.65 L360.81 338.71 L361.06 341.60 L361.30 344.36 L361.55 346.98 L361.80 349.48 L362.04 351.87 L362.29 354.15 L362.53 356.34 L362.78 358.43 L363.03 360.45 L363.27 362.38 L363.52 364.24 L363.77 366.03 L364.01 367.75 L364.26 369.42 L364.51 371.02 L364.75 372.57 L365.00 374.07 L365.24 375.53 L365.49 376.93 L365.74 378.29 L365.98 379.61 L366.23 380.90 L366.48 382.14 L366.72 383.35 L366.97 384.52 L367.21 385.66 L367.46 386.77 L367.71 387.85 L367.95 388.91 L368.20 389.93 L368.45 390.93 L368.69 391.91 L368.94 392.86 L369.18 393.79 L369.43 394.69 L369.68 395.58 L369.92 396.44 L370.17 397.29 L370.42 398.11 L370.66 398.92 L370.91 399.71 L371.15 400.49 L371.40 401.24 L371.65 401.98 L371.89 402.71 L372.14 403.42 L372.39 404.12 L372.63 404.80 L372.88 405.48 L373.12 406.13 L373.37 406.78 L373.62 407.41 L373.86 408.03 L374.11 408.64 L374.36 409.24 L374.60 409.83 L374.85 410.41 L375.10 410.98 L375.34 411.54 L375.59 412.09 L375.83 412.63 L376.08 413.16 L376.33 413.68 L376.57 414.19 L376.82 414.70 L377.07 415.19 L377.31 415.68 L377.56 416.17 L377.80 416.64 L378.05 417.11 L378.30 417.57 L378.54 418.02 L378.79 418.47 L379.04 418.91 L379.28 419.34 L379.53 419.77 L379.77 420.19 L380.02 420.61 L380.27 421.02 L380.51 421.42 L380.76 421.82 L381.01 422.21 L381.25 422.60 L381.50 422.98 L381.74 423.36 L382.98 425.17 L384.21 426.88 L385.44 428.48 L386.67 429.99 L387.90 431.42 L389.13 432.77 L390.36 434.06 L391.60 435.28 L392.83 436.44 L394.06 437.55 L395.29 438.61 L396.52 439.63 L397.75 440.60 L398.98 441.53 L400.22 442.42 L401.45 443.28 L402.68 444.11 L403.91 444.91 L405.14 445.67 L406.37 446.41 L407.60 447.13 L408.84 447.82 L410.07 448.48 L411.30 449.13 L412.53 449.75 L413.76 450.36 L414.99 450.95 L416.22 451.52 L417.46 452.07 L418.69 452.61 L419.92 453.13 L421.15 453.64 L422.38 454.14 L423.61 454.62 L424.84 455.09 L426.08 455.54 L427.31 455.99 L428.54 456.42 L429.77 456.85 L431.00 457.26 L432.23 457.66 L433.46 458.06 L434.69 458.44 L435.93 458.82 L437.16 459.19 L438.39 459.55 L439.62 459.90 L440.85 460.24 L442.08 460.58 L443.31 460.91 L444.55 461.24 L445.78 461.55 L447.01 461.86 L448.24 462.17 L449.47 462.47 L450.70 462.76 L451.93 463.05 L453.17 463.33 L454.40 463.61 L455.63 463.88 L456.86 464.15 L458.09 464.41 L459.32 464.67 L460.55 464.92 L461.79 465.17 L463.02 465.42 L464.25 465.66 L465.48 465.89 L466.71 466.13 L467.94 466.36 L469.17 466.58 L470.41 466.80 L471.64 467.02 L472.87 467.24 L474.10 467.45 L475.33 467.66 L476.56 467.86 L477.79 468.06 L479.03 468.26 L480.26 468.46 L481.49 468.65 L482.72 468.84 L483.95 469.03 L485.18 469.22 L486.41 469.40 L487.65 469.58 L488.88 469.76 L490.11 469.93 L491.34 470.11 L492.57 470.28 L493.80 470.44 L495.03 470.61 L496.26 470.77 L497.50 470.94 L498.73 471.10 L499.96 471.25 L501.19 471.41 L502.42 471.56 L503.65 471.72 L504.88 471.87 L506.12 472.01 L507.35 472.16 L508.58 472.31 L509.81 472.45 L511.04 472.59 L512.27 472.73 L513.50 472.87 L514.74 473.00 L515.97 473.14 L517.20 473.27 L518.43 473.41 L519.66 473.54 L520.89 473.66 L522.12 473.79 L523.36 473.92 L524.59 474.04 L525.82 474.17 L527.05 474.29 L528.28 474.41 L529.51 474.53 L530.74 474.65 L531.98 474.77 L533.21 474.88 L534.44 475.00 L535.67 475.11 L536.90 475.22 L538.13 475.33 L539.36 475.44 L540.60 475.55 L541.83 475.66 L543.06 475.77 L544.29 475.87 L545.52 475.98 L546.75 476.08 L547.98 476.18 L549.22 476.29 L550.45 476.39 L551.68 476.49 L552.91 476.59 L554.14 476.69 L555.37 476.78 L556.60 476.88 L557.83 476.97 L559.07 477.07 L560.30 477.16 L561.53 477.26 L562.76 477.35 L563.99 477.44 L565.22 477.53 L566.45 477.62 L567.69 477.71 L568.92 477.80 L570.15 477.88 L571.38 477.97 L572.61 478.06 L573.84 478.14 L575.07 478.23 L576.31 478.31 L577.54 478.39 L578.77 478.48 L580.00 478.56 L581.23 478.64 L582.46 478.72 L583.69 478.80 L584.93 478.88 L586.16 478.96 L587.39 479.04 L588.62 479.11 L589.85 479.19 L591.08 479.27 L592.31 479.34 L593.55 479.42 L594.78 479.49 L596.01 479.56 L597.24 479.64 L598.47 479.71 L599.70 479.78 L600.06 479.80M357.12 262.35 L357.36 270.97 L357.61 278.75 L357.86 285.81 L358.10 292.25 L358.35 298.17 L358.59 303.63 L358.84 308.69 L359.09 313.38 L359.33 317.77 L359.58 321.87 L359.83 325.72 L360.07 329.33 L360.32 332.75 L360.56 335.97 L360.81 339.03 L361.06 341.92 L361.30 344.68 L361.55 347.30 L361.80 349.80 L362.04 352.19 L362.29 354.47 L362.53 356.66 L362.78 358.75 L363.03 360.77 L363.27 362.70 L363.52 364.56 L363.77 366.35 L364.01 368.07 L364.26 369.74 L364.51 371.34 L364.75 372.89 L365.00 374.39 L365.24 375.85 L365.49 377.25 L365.74 378.61 L365.98 379.93 L366.23 381.22 L366.48 382.46 L366.72 383.67 L366.97 384.84 L367.21 385.98 L367.46 387.09 L367.71 388.17 L367.95 389.23 L368.20 390.25 L368.45 391.25 L368.69 392.23 L368.94 393.18 L369.18 394.11 L369.43 395.01 L369.68 395.90 L369.92 396.76 L370.17 397.61 L370.42 398.43 L370.66 399.24 L370.91 400.03 L371.15 400.81 L371.40 401.56 L371.65 402.30 L371.89 403.03 L372.14 403.74 L372.39 404.44 L372.63 405.12 L372.88 405.80 L373.12 406.45 L373.37 407.10 L373.62 407.73 L373.86 408.35 L374.11 408.96 L374.36 409.56 L374.60 410.15 L374.85 410.73 L375.10 411.30 L375.34 411.86 L375.59 412.41 L375.83 412.95 L376.08 413.48 L376.33 414.00 L376.57 414.51 L376.82 415.02 L377.07 415.51 L377.31 416.00 L377.56 416.49 L377.80 416.96 L378.05 417.43 L378.30 417.89 L378.54 418.34 L378.79 418.79 L379.04 419.23 L379.28 419.66 L379.53 420.09 L379.77 420.51 L380.02 420.93 L380.27 421.34 L380.51 421.74 L380.76 422.14 L381.01 422.53 L381.25 422.92 L381.50 423.30 L381.74 423.68 L382.98 425.49 L384.21 427.20 L385.44 428.80 L386.67 430.31 L387.90 431.74 L389.13 433.09 L390.36 434.38 L391.60 435.60 L392.83 436.76 L394.06 437.87 L395.29 438.93 L396.52 439.95 L397.75 440.92 L398.98 441.85 L400.22 442.74 L401.45 443.60 L402.68 444.43 L403.91 445.23 L405.14 445.99 L406.37 446.73 L407.60 447.45 L408.84 448.14 L410.07 448.80 L411.30 449.45 L412.53 450.07 L413.76 450.68 L414.99 451.27 L416.22 451.84 L417.46 452.39 L418.69 452.93 L419.92 453.45 L421.15 453.96 L422.38 454.46 L423.61 454.94 L424.84 455.41 L426.08 455.86 L427.31 456.31 L428.54 456.74 L429.77 457.17 L431.00 457.58 L432.23 457.98 L433.46 458.38 L434.69 458.76 L435.93 459.14 L437.16 459.51 L438.39 459.87 L439.62 460.22 L440.85 460.56 L442.08 460.90 L443.31 461.23 L444.55 461.56 L445.78 461.87 L447.01 462.18 L448.24 462.49 L449.47 462.79 L450.70 463.08 L451.93 463.37 L453.17 463.65 L454.40 463.93 L455.63 464.20 L456.86 464.47 L458.09 464.73 L459.32 464.99 L460.55 465.24 L461.79 465.49 L463.02 465.74 L464.25 465.98 L465.48 466.21 L466.71 466.45 L467.94 466.68 L469.17 466.90 L470.41 467.12 L471.64 467.34 L472.87 467.56 L474.10 467.77 L475.33 467.98 L476.56 468.18 L477.79 468.38 L479.03 468.58 L480.26 468.78 L481.49 468.97 L482.72 469.16 L483.95 469.35 L485.18 469.54 L486.41 469.72 L487.65 469.90 L488.88 470.08 L490.11 470.25 L491.34 470.43 L492.57 470.60 L493.80 470.76 L495.03 470.93 L496.26 471.09 L497.50 471.26 L498.73 471.42 L499.96 471.57 L501.19 471.73 L502.42 471.88 L503.65 472.04 L504.88 472.19 L506.12 472.33 L507.35 472.48 L508.58 472.63 L509.81 472.77 L511.04 472.91 L512.27 473.05 L513.50 473.19 L514.74 473.32 L515.97 473.46 L517.20 473.59 L518.43 473.73 L519.66 473.86 L520.89 473.98 L522.12 474.11 L523.36 474.24 L524.59 474.36 L525.82 474.49 L527.05 474.61 L528.28 474.73 L529.51 474.85 L530.74 474.97 L531.98 475.09 L533.21 475.20 L534.44 475.32 L535.67 475.43 L536.90 475.54 L538.13 475.65 L539.36 475.76 L540.60 475.87 L541.83 475.98 L543.06 476.09 L544.29 476.19 L545.52 476.30 L546.75 476.40 L547.98 476.50 L549.22 476.61 L550.45 476.71 L551.68 476.81 L552.91 476.91 L554.14 477.01 L555.37 477.10 L556.60 477.20 L557.83 477.29 L559.07 477.39 L560.30 477.48 L561.53 477.58 L562.76 477.67 L563.99 477.76 L565.22 477.85 L566.45 477.94 L567.69 478.03 L568.92 478.12 L570.15 478.20 L571.38 478.29 L572.61 478.38 L573.84 478.46 L575.07 478.55 L576.31 478.63 L577.54 478.71 L578.77 478.80 L580.00 478.88 L581.23 478.96 L582.46 479.04 L583.69 479.12 L584.93 479.20 L586.16 479.28 L587.39 479.36 L588.62 479.43 L589.85 479.51 L591.08 479.59 L592.31 479.66 L593.55 479.74 L594.78 479.81 L596.01 479.88 L597.24 479.96 L598.47 480.03 L599.70 480.10 L600.06 480.12" fill="none" stroke="#000" stroke-width="1.28" stroke-dasharray="5.3 9.4" clip-path="url(#cb)"/>
<path d="M359.71 262.03 L359.96 266.99 L360.20 271.67 L360.45 276.08 L360.70 280.25 L360.94 284.21 L361.19 287.97 L361.44 291.55 L361.68 294.95 L361.93 298.21 L362.17 301.31 L362.42 304.29 L362.67 307.14 L362.91 309.87 L363.16 312.50 L363.41 315.02 L363.65 317.45 L363.90 319.79 L364.14 322.04 L364.39 324.22 L364.64 326.32 L364.88 328.35 L365.13 330.32 L365.38 332.22 L365.62 334.06 L365.87 335.85 L366.12 337.58 L366.36 339.26 L366.61 340.89 L366.85 342.48 L367.10 344.02 L367.35 345.52 L367.59 346.98 L367.84 348.40 L368.09 349.79 L368.33 351.13 L368.58 352.45 L368.82 353.73 L369.07 354.98 L369.32 356.20 L369.56 357.40 L369.81 358.56 L370.06 359.70 L370.30 360.81 L370.55 361.90 L370.79 362.97 L371.04 364.01 L371.29 365.03 L371.53 366.03 L371.78 367.01 L372.03 367.96 L372.27 368.90 L372.52 369.82 L372.76 370.73 L373.01 371.61 L373.26 372.48 L373.50 373.33 L373.75 374.17 L374.00 374.99 L374.24 375.79 L374.49 376.58 L374.73 377.36 L374.98 378.13 L375.23 378.88 L375.47 379.61 L375.72 380.34 L375.97 381.05 L376.21 381.75 L376.46 382.44 L376.71 383.12 L376.95 383.79 L377.20 384.45 L377.44 385.10 L377.69 385.73 L377.94 386.36 L378.18 386.98 L378.43 387.59 L378.68 388.19 L378.92 388.78 L379.17 389.36 L379.41 389.93 L379.66 390.50 L379.91 391.06 L380.15 391.61 L380.40 392.15 L380.65 392.68 L380.89 393.21 L381.14 393.73 L381.38 394.24 L381.63 394.75 L381.88 395.25 L382.12 395.74 L382.37 396.23 L382.62 396.71 L382.86 397.18 L383.11 397.65 L383.35 398.11 L383.60 398.57 L383.85 399.02 L384.09 399.47 L384.34 399.91 L385.57 402.03 L386.80 404.03 L388.03 405.93 L389.27 407.72 L390.50 409.43 L391.73 411.05 L392.96 412.59 L394.19 414.06 L395.42 415.47 L396.65 416.82 L397.89 418.11 L399.12 419.34 L400.35 420.53 L401.58 421.67 L402.81 422.77 L404.04 423.82 L405.27 424.84 L406.50 425.82 L407.74 426.77 L408.97 427.69 L410.20 428.58 L411.43 429.43 L412.66 430.26 L413.89 431.07 L415.12 431.85 L416.36 432.61 L417.59 433.34 L418.82 434.06 L420.05 434.75 L421.28 435.43 L422.51 436.09 L423.74 436.73 L424.98 437.35 L426.21 437.96 L427.44 438.55 L428.67 439.13 L429.90 439.69 L431.13 440.24 L432.36 440.78 L433.60 441.30 L434.83 441.81 L436.06 442.31 L437.29 442.80 L438.52 443.28 L439.75 443.75 L440.98 444.21 L442.22 444.66 L443.45 445.10 L444.68 445.53 L445.91 445.95 L447.14 446.37 L448.37 446.77 L449.60 447.17 L450.84 447.56 L452.07 447.94 L453.30 448.32 L454.53 448.69 L455.76 449.05 L456.99 449.41 L458.22 449.75 L459.46 450.10 L460.69 450.44 L461.92 450.77 L463.15 451.09 L464.38 451.41 L465.61 451.73 L466.84 452.04 L468.07 452.34 L469.31 452.64 L470.54 452.94 L471.77 453.23 L473.00 453.52 L474.23 453.80 L475.46 454.07 L476.69 454.35 L477.93 454.62 L479.16 454.88 L480.39 455.14 L481.62 455.40 L482.85 455.65 L484.08 455.91 L485.31 456.15 L486.55 456.40 L487.78 456.64 L489.01 456.87 L490.24 457.11 L491.47 457.34 L492.70 457.56 L493.93 457.79 L495.17 458.01 L496.40 458.23 L497.63 458.44 L498.86 458.65 L500.09 458.87 L501.32 459.07 L502.55 459.28 L503.79 459.48 L505.02 459.68 L506.25 459.88 L507.48 460.07 L508.71 460.27 L509.94 460.46 L511.17 460.64 L512.41 460.83 L513.64 461.01 L514.87 461.20 L516.10 461.38 L517.33 461.55 L518.56 461.73 L519.79 461.90 L521.03 462.07 L522.26 462.24 L523.49 462.41 L524.72 462.58 L525.95 462.74 L527.18 462.91 L528.41 463.07 L529.64 463.23 L530.88 463.38 L532.11 463.54 L533.34 463.69 L534.57 463.85 L535.80 464.00 L537.03 464.15 L538.26 464.30 L539.50 464.44 L540.73 464.59 L541.96 464.73 L543.19 464.87 L544.42 465.02 L545.65 465.16 L546.88 465.29 L548.12 465.43 L549.35 465.57 L550.58 465.70 L551.81 465.83 L553.04 465.97 L554.27 466.10 L555.50 466.23 L556.74 466.36 L557.97 466.48 L559.20 466.61 L560.43 466.73 L561.66 466.86 L562.89 466.98 L564.12 467.10 L565.36 467.22 L566.59 467.34 L567.82 467.46 L569.05 467.58 L570.28 467.69 L571.51 467.81 L572.74 467.92 L573.98 468.04 L575.21 468.15 L576.44 468.26 L577.67 468.37 L578.90 468.48 L580.13 468.59 L581.36 468.70 L582.60 468.81 L583.83 468.91 L585.06 469.02 L586.29 469.12 L587.52 469.23 L588.75 469.33 L589.98 469.43 L591.21 469.53 L592.45 469.64 L593.68 469.74 L594.91 469.83 L596.14 469.93 L597.37 470.03 L598.60 470.13 L599.83 470.22 L600.06 470.24M359.71 262.35 L359.96 267.31 L360.20 271.99 L360.45 276.40 L360.70 280.57 L360.94 284.53 L361.19 288.29 L361.44 291.87 L361.68 295.27 L361.93 298.53 L362.17 301.63 L362.42 304.61 L362.67 307.46 L362.91 310.19 L363.16 312.82 L363.41 315.34 L363.65 317.77 L363.90 320.11 L364.14 322.36 L364.39 324.54 L364.64 326.64 L364.88 328.67 L365.13 330.64 L365.38 332.54 L365.62 334.38 L365.87 336.17 L366.12 337.90 L366.36 339.58 L366.61 341.21 L366.85 342.80 L367.10 344.34 L367.35 345.84 L367.59 347.30 L367.84 348.72 L368.09 350.11 L368.33 351.45 L368.58 352.77 L368.82 354.05 L369.07 355.30 L369.32 356.52 L369.56 357.72 L369.81 358.88 L370.06 360.02 L370.30 361.13 L370.55 362.22 L370.79 363.29 L371.04 364.33 L371.29 365.35 L371.53 366.35 L371.78 367.33 L372.03 368.28 L372.27 369.22 L372.52 370.14 L372.76 371.05 L373.01 371.93 L373.26 372.80 L373.50 373.65 L373.75 374.49 L374.00 375.31 L374.24 376.11 L374.49 376.90 L374.73 377.68 L374.98 378.45 L375.23 379.20 L375.47 379.93 L375.72 380.66 L375.97 381.37 L376.21 382.07 L376.46 382.76 L376.71 383.44 L376.95 384.11 L377.20 384.77 L377.44 385.42 L377.69 386.05 L377.94 386.68 L378.18 387.30 L378.43 387.91 L378.68 388.51 L378.92 389.10 L379.17 389.68 L379.41 390.25 L379.66 390.82 L379.91 391.38 L380.15 391.93 L380.40 392.47 L380.65 393.00 L380.89 393.53 L381.14 394.05 L381.38 394.56 L381.63 395.07 L381.88 395.57 L382.12 396.06 L382.37 396.55 L382.62 397.03 L382.86 397.50 L383.11 397.97 L383.35 398.43 L383.60 398.89 L383.85 399.34 L384.09 399.79 L384.34 400.23 L385.57 402.35 L386.80 404.35 L388.03 406.25 L389.27 408.04 L390.50 409.75 L391.73 411.37 L392.96 412.91 L394.19 414.38 L395.42 415.79 L396.65 417.14 L397.89 418.43 L399.12 419.66 L400.35 420.85 L401.58 421.99 L402.81 423.09 L404.04 424.14 L405.27 425.16 L406.50 426.14 L407.74 427.09 L408.97 428.01 L410.20 428.90 L411.43 429.75 L412.66 430.58 L413.89 431.39 L415.12 432.17 L416.36 432.93 L417.59 433.66 L418.82 434.38 L420.05 435.07 L421.28 435.75 L422.51 436.41 L423.74 437.05 L424.98 437.67 L426.21 438.28 L427.44 438.87 L428.67 439.45 L429.90 440.01 L431.13 440.56 L432.36 441.10 L433.60 441.62 L434.83 442.13 L436.06 442.63 L437.29 443.12 L438.52 443.60 L439.75 444.07 L440.98 444.53 L442.22 444.98 L443.45 445.42 L444.68 445.85 L445.91 446.27 L447.14 446.69 L448.37 447.09 L449.60 447.49 L450.84 447.88 L452.07 448.26 L453.30 448.64 L454.53 449.01 L455.76 449.37 L456.99 449.73 L458.22 450.07 L459.46 450.42 L460.69 450.76 L461.92 451.09 L463.15 451.41 L464.38 451.73 L465.61 452.05 L466.84 452.36 L468.07 452.66 L469.31 452.96 L470.54 453.26 L471.77 453.55 L473.00 453.84 L474.23 454.12 L475.46 454.39 L476.69 454.67 L477.93 454.94 L479.16 455.20 L480.39 455.46 L481.62 455.72 L482.85 455.97 L484.08 456.23 L485.31 456.47 L486.55 456.72 L487.78 456.96 L489.01 457.19 L490.24 457.43 L491.47 457.66 L492.70 457.88 L493.93 458.11 L495.17 458.33 L496.40 458.55 L497.63 458.76 L498.86 458.97 L500.09 459.19 L501.32 459.39 L502.55 459.60 L503.79 459.80 L505.02 460.00 L506.25 460.20 L507.48 460.39 L508.71 460.59 L509.94 460.78 L511.17 460.96 L512.41 461.15 L513.64 461.33 L514.87 461.52 L516.10 461.70 L517.33 461.87 L518.56 462.05 L519.79 462.22 L521.03 462.39 L522.26 462.56 L523.49 462.73 L524.72 462.90 L525.95 463.06 L527.18 463.23 L528.41 463.39 L529.64 463.55 L530.88 463.70 L532.11 463.86 L533.34 464.01 L534.57 464.17 L535.80 464.32 L537.03 464.47 L538.26 464.62 L539.50 464.76 L540.73 464.91 L541.96 465.05 L543.19 465.19 L544.42 465.34 L545.65 465.48 L546.88 465.61 L548.12 465.75 L549.35 465.89 L550.58 466.02 L551.81 466.15 L553.04 466.29 L554.27 466.42 L555.50 466.55 L556.74 466.68 L557.97 466.80 L559.20 466.93 L560.43 467.05 L561.66 467.18 L562.89 467.30 L564.12 467.42 L565.36 467.54 L566.59 467.66 L567.82 467.78 L569.05 467.90 L570.28 468.01 L571.51 468.13 L572.74 468.24 L573.98 468.36 L575.21 468.47 L576.44 468.58 L577.67 468.69 L578.90 468.80 L580.13 468.91 L581.36 469.02 L582.60 469.13 L583.83 469.23 L585.06 469.34 L586.29 469.44 L587.52 469.55 L588.75 469.65 L589.98 469.75 L591.21 469.85 L592.45 469.96 L593.68 470.06 L594.91 470.15 L596.14 470.25 L597.37 470.35 L598.60 470.45 L599.83 470.54 L600.06 470.56" fill="none" stroke="#000" stroke-width="1.28" stroke-dasharray="5.3 9.4" clip-path="url(#cb)"/>
<path d="M363.05 262.03 L363.29 265.24 L363.54 268.33 L363.79 271.30 L364.03 274.17 L364.28 276.93 L364.53 279.60 L364.77 282.18 L365.02 284.67 L365.26 287.09 L365.51 289.42 L365.76 291.69 L366.00 293.88 L366.25 296.01 L366.50 298.08 L366.74 300.09 L366.99 302.04 L367.24 303.94 L367.48 305.78 L367.73 307.58 L367.97 309.33 L368.22 311.04 L368.47 312.70 L368.71 314.32 L368.96 315.90 L369.21 317.45 L369.45 318.95 L369.70 320.43 L369.94 321.86 L370.19 323.27 L370.44 324.64 L370.68 325.99 L370.93 327.30 L371.18 328.59 L371.42 329.85 L371.67 331.09 L371.91 332.29 L372.16 333.48 L372.41 334.64 L372.65 335.78 L372.90 336.89 L373.15 337.99 L373.39 339.06 L373.64 340.12 L373.88 341.15 L374.13 342.17 L374.38 343.16 L374.62 344.14 L374.87 345.11 L375.12 346.05 L375.36 346.98 L375.61 347.89 L375.85 348.79 L376.10 349.68 L376.35 350.54 L376.59 351.40 L376.84 352.24 L377.09 353.07 L377.33 353.88 L377.58 354.69 L377.83 355.47 L378.07 356.25 L378.32 357.02 L378.56 357.77 L378.81 358.52 L379.06 359.25 L379.30 359.97 L379.55 360.68 L379.80 361.38 L380.04 362.07 L380.29 362.76 L380.53 363.43 L380.78 364.09 L381.03 364.75 L381.27 365.39 L381.52 366.03 L381.77 366.66 L382.01 367.28 L382.26 367.89 L382.50 368.49 L382.75 369.09 L383.00 369.68 L383.24 370.26 L383.49 370.83 L383.74 371.40 L383.98 371.96 L384.23 372.51 L384.47 373.06 L384.72 373.60 L384.97 374.13 L385.21 374.66 L385.46 375.18 L385.71 375.70 L385.95 376.21 L386.20 376.71 L386.44 377.21 L386.69 377.70 L386.94 378.19 L387.18 378.67 L387.43 379.14 L387.68 379.61 L388.91 381.89 L390.14 384.06 L391.37 386.11 L392.60 388.07 L393.83 389.93 L395.06 391.71 L396.30 393.42 L397.53 395.05 L398.76 396.61 L399.99 398.11 L401.22 399.55 L402.45 400.94 L403.68 402.28 L404.92 403.56 L406.15 404.80 L407.38 406.00 L408.61 407.16 L409.84 408.28 L411.07 409.36 L412.30 410.41 L413.54 411.43 L414.77 412.41 L416.00 413.37 L417.23 414.29 L418.46 415.19 L419.69 416.07 L420.92 416.92 L422.16 417.75 L423.39 418.56 L424.62 419.34 L425.85 420.11 L427.08 420.85 L428.31 421.58 L429.54 422.29 L430.78 422.98 L432.01 423.66 L433.24 424.32 L434.47 424.96 L435.70 425.59 L436.93 426.21 L438.16 426.81 L439.40 427.40 L440.63 427.98 L441.86 428.54 L443.09 429.09 L444.32 429.64 L445.55 430.17 L446.78 430.69 L448.01 431.20 L449.25 431.70 L450.48 432.19 L451.71 432.67 L452.94 433.14 L454.17 433.60 L455.40 434.06 L456.63 434.51 L457.87 434.95 L459.10 435.38 L460.33 435.80 L461.56 436.22 L462.79 436.63 L464.02 437.03 L465.25 437.42 L466.49 437.81 L467.72 438.20 L468.95 438.57 L470.18 438.94 L471.41 439.31 L472.64 439.67 L473.87 440.02 L475.11 440.37 L476.34 440.71 L477.57 441.05 L478.80 441.38 L480.03 441.71 L481.26 442.04 L482.49 442.35 L483.73 442.67 L484.96 442.98 L486.19 443.28 L487.42 443.58 L488.65 443.88 L489.88 444.17 L491.11 444.46 L492.35 444.75 L493.58 445.03 L494.81 445.31 L496.04 445.58 L497.27 445.85 L498.50 446.12 L499.73 446.38 L500.97 446.64 L502.20 446.90 L503.43 447.15 L504.66 447.41 L505.89 447.65 L507.12 447.90 L508.35 448.14 L509.58 448.38 L510.82 448.61 L512.05 448.85 L513.28 449.08 L514.51 449.31 L515.74 449.53 L516.97 449.75 L518.20 449.98 L519.44 450.19 L520.67 450.41 L521.90 450.62 L523.13 450.83 L524.36 451.04 L525.59 451.25 L526.82 451.45 L528.06 451.65 L529.29 451.85 L530.52 452.05 L531.75 452.25 L532.98 452.44 L534.21 452.63 L535.44 452.82 L536.68 453.01 L537.91 453.19 L539.14 453.38 L540.37 453.56 L541.60 453.74 L542.83 453.92 L544.06 454.10 L545.30 454.27 L546.53 454.45 L547.76 454.62 L548.99 454.79 L550.22 454.96 L551.45 455.12 L552.68 455.29 L553.92 455.45 L555.15 455.61 L556.38 455.78 L557.61 455.93 L558.84 456.09 L560.07 456.25 L561.30 456.40 L562.54 456.56 L563.77 456.71 L565.00 456.86 L566.23 457.01 L567.46 457.16 L568.69 457.31 L569.92 457.45 L571.15 457.60 L572.39 457.74 L573.62 457.88 L574.85 458.03 L576.08 458.17 L577.31 458.30 L578.54 458.44 L579.77 458.58 L581.01 458.71 L582.24 458.85 L583.47 458.98 L584.70 459.11 L585.93 459.24 L587.16 459.38 L588.39 459.50 L589.63 459.63 L590.86 459.76 L592.09 459.89 L593.32 460.01 L594.55 460.13 L595.78 460.26 L597.01 460.38 L598.25 460.50 L599.48 460.62 L600.06 460.68M363.05 262.35 L363.29 265.56 L363.54 268.65 L363.79 271.62 L364.03 274.49 L364.28 277.25 L364.53 279.92 L364.77 282.50 L365.02 284.99 L365.26 287.41 L365.51 289.74 L365.76 292.01 L366.00 294.20 L366.25 296.33 L366.50 298.40 L366.74 300.41 L366.99 302.36 L367.24 304.26 L367.48 306.10 L367.73 307.90 L367.97 309.65 L368.22 311.36 L368.47 313.02 L368.71 314.64 L368.96 316.22 L369.21 317.77 L369.45 319.27 L369.70 320.75 L369.94 322.18 L370.19 323.59 L370.44 324.96 L370.68 326.31 L370.93 327.62 L371.18 328.91 L371.42 330.17 L371.67 331.41 L371.91 332.61 L372.16 333.80 L372.41 334.96 L372.65 336.10 L372.90 337.21 L373.15 338.31 L373.39 339.38 L373.64 340.44 L373.88 341.47 L374.13 342.49 L374.38 343.48 L374.62 344.46 L374.87 345.43 L375.12 346.37 L375.36 347.30 L375.61 348.21 L375.85 349.11 L376.10 350.00 L376.35 350.86 L376.59 351.72 L376.84 352.56 L377.09 353.39 L377.33 354.20 L377.58 355.01 L377.83 355.79 L378.07 356.57 L378.32 357.34 L378.56 358.09 L378.81 358.84 L379.06 359.57 L379.30 360.29 L379.55 361.00 L379.80 361.70 L380.04 362.39 L380.29 363.08 L380.53 363.75 L380.78 364.41 L381.03 365.07 L381.27 365.71 L381.52 366.35 L381.77 366.98 L382.01 367.60 L382.26 368.21 L382.50 368.81 L382.75 369.41 L383.00 370.00 L383.24 370.58 L383.49 371.15 L383.74 371.72 L383.98 372.28 L384.23 372.83 L384.47 373.38 L384.72 373.92 L384.97 374.45 L385.21 374.98 L385.46 375.50 L385.71 376.02 L385.95 376.53 L386.20 377.03 L386.44 377.53 L386.69 378.02 L386.94 378.51 L387.18 378.99 L387.43 379.46 L387.68 379.93 L388.91 382.21 L390.14 384.38 L391.37 386.43 L392.60 388.39 L393.83 390.25 L395.06 392.03 L396.30 393.74 L397.53 395.37 L398.76 396.93 L399.99 398.43 L401.22 399.87 L402.45 401.26 L403.68 402.60 L404.92 403.88 L406.15 405.12 L407.38 406.32 L408.61 407.48 L409.84 408.60 L411.07 409.68 L412.30 410.73 L413.54 411.75 L414.77 412.73 L416.00 413.69 L417.23 414.61 L418.46 415.51 L419.69 416.39 L420.92 417.24 L422.16 418.07 L423.39 418.88 L424.62 419.66 L425.85 420.43 L427.08 421.17 L428.31 421.90 L429.54 422.61 L430.78 423.30 L432.01 423.98 L433.24 424.64 L434.47 425.28 L435.70 425.91 L436.93 426.53 L438.16 427.13 L439.40 427.72 L440.63 428.30 L441.86 428.86 L443.09 429.41 L444.32 429.96 L445.55 430.49 L446.78 431.01 L448.01 431.52 L449.25 432.02 L450.48 432.51 L451.71 432.99 L452.94 433.46 L454.17 433.92 L455.40 434.38 L456.63 434.83 L457.87 435.27 L459.10 435.70 L460.33 436.12 L461.56 436.54 L462.79 436.95 L464.02 437.35 L465.25 437.74 L466.49 438.13 L467.72 438.52 L468.95 438.89 L470.18 439.26 L471.41 439.63 L472.64 439.99 L473.87 440.34 L475.11 440.69 L476.34 441.03 L477.57 441.37 L478.80 441.70 L480.03 442.03 L481.26 442.36 L482.49 442.67 L483.73 442.99 L484.96 443.30 L486.19 443.60 L487.42 443.90 L488.65 444.20 L489.88 444.49 L491.11 444.78 L492.35 445.07 L493.58 445.35 L494.81 445.63 L496.04 445.90 L497.27 446.17 L498.50 446.44 L499.73 446.70 L500.97 446.96 L502.20 447.22 L503.43 447.47 L504.66 447.73 L505.89 447.97 L507.12 448.22 L508.35 448.46 L509.58 448.70 L510.82 448.93 L512.05 449.17 L513.28 449.40 L514.51 449.63 L515.74 449.85 L516.97 450.07 L518.20 450.30 L519.44 450.51 L520.67 450.73 L521.90 450.94 L523.13 451.15 L524.36 451.36 L525.59 451.57 L526.82 451.77 L528.06 451.97 L529.29 452.17 L530.52 452.37 L531.75 452.57 L532.98 452.76 L534.21 452.95 L535.44 453.14 L536.68 453.33 L537.91 453.51 L539.14 453.70 L540.37 453.88 L541.60 454.06 L542.83 454.24 L544.06 454.42 L545.30 454.59 L546.53 454.77 L547.76 454.94 L548.99 455.11 L550.22 455.28 L551.45 455.44 L552.68 455.61 L553.92 455.77 L555.15 455.93 L556.38 456.10 L557.61 456.25 L558.84 456.41 L560.07 456.57 L561.30 456.72 L562.54 456.88 L563.77 457.03 L565.00 457.18 L566.23 457.33 L567.46 457.48 L568.69 457.63 L569.92 457.77 L571.15 457.92 L572.39 458.06 L573.62 458.20 L574.85 458.35 L576.08 458.49 L577.31 458.62 L578.54 458.76 L579.77 458.90 L581.01 459.03 L582.24 459.17 L583.47 459.30 L584.70 459.43 L585.93 459.56 L587.16 459.70 L588.39 459.82 L589.63 459.95 L590.86 460.08 L592.09 460.21 L593.32 460.33 L594.55 460.45 L595.78 460.58 L597.01 460.70 L598.25 460.82 L599.48 460.94 L600.06 461.00" fill="none" stroke="#000" stroke-width="1.28" stroke-dasharray="5.3 9.4" clip-path="url(#cb)"/>
<path d="M400.57 639.28 L403.04 617.76 L405.50 606.58 L407.96 612.06 L410.42 630.95 L412.89 654.30M400.57 639.88 L403.04 618.36 L405.50 607.18 L407.96 612.66 L410.42 631.55 L412.89 654.90" fill="none" stroke="#ff0000" stroke-width="2.45" stroke-linejoin="miter" stroke-miterlimit="6" clip-path="url(#cc)"/>
<path d="M481.85 752.80 L484.31 753.02 L486.77 753.21 L489.23 753.40 L491.70 753.57 L494.16 753.74 L496.62 753.89 L499.09 754.04 L501.55 754.18 L504.01 754.31 L506.47 754.43 L508.94 754.55M481.85 753.40 L484.31 753.62 L486.77 753.81 L489.23 754.00 L491.70 754.17 L494.16 754.34 L496.62 754.49 L499.09 754.64 L501.55 754.78 L504.01 754.91 L506.47 755.03 L508.94 755.15" fill="none" stroke="#ff0000" stroke-width="2.45" stroke-linejoin="miter" stroke-miterlimit="6" clip-path="url(#cc)"/>
<path d="M403.04 619.51 L405.50 608.48 L407.96 610.57 L410.42 632.53 L412.89 655.58 L415.35 676.65M403.04 620.11 L405.50 609.08 L407.96 611.17 L410.42 633.13 L412.89 656.18 L415.35 677.25" fill="none" stroke="#00ff00" stroke-width="2.45" stroke-linejoin="miter" stroke-miterlimit="6" clip-path="url(#cc)"/>
<path d="M481.85 753.11 L484.31 753.33 L486.77 753.53 L489.23 753.72 L491.70 753.90 L494.16 754.07 L496.62 754.22 L499.09 754.37 L501.55 754.50M481.85 753.71 L484.31 753.93 L486.77 754.13 L489.23 754.32 L491.70 754.50 L494.16 754.67 L496.62 754.82 L499.09 754.97 L501.55 755.10" fill="none" stroke="#00ff00" stroke-width="2.45" stroke-linejoin="miter" stroke-miterlimit="6" clip-path="url(#cc)"/>
<path d="M107.50 754.38 L109.96 754.38 L112.43 754.38 L114.89 754.38 L117.35 754.37 L119.81 754.37 L122.28 754.37 L124.74 754.36 L127.20 754.36 L129.67 754.36 L132.13 754.35 L134.59 754.35 L137.05 754.35 L139.52 754.34 L141.98 754.34 L144.44 754.33 L146.90 754.33 L149.37 754.33 L151.83 754.32 L154.29 754.32 L156.76 754.31 L159.22 754.31 L161.68 754.30 L164.14 754.30 L166.61 754.29 L169.07 754.29 L171.53 754.28 L174.00 754.28 L176.46 754.27 L178.92 754.26 L181.38 754.26 L183.85 754.25 L186.31 754.24 L188.77 754.24 L191.24 754.23 L193.70 754.22 L196.16 754.21 L198.62 754.21 L201.09 754.20 L203.55 754.19 L206.01 754.18 L208.47 754.17 L210.94 754.16 L213.40 754.15 L215.86 754.14 L218.33 754.13 L220.79 754.12 L223.25 754.11 L225.71 754.10 L228.18 754.08 L230.64 754.07 L233.10 754.06 L235.57 754.04 L238.03 754.03 L240.49 754.01 L242.95 753.99 L245.42 753.98 L247.88 753.96 L250.34 753.94 L252.81 753.92 L255.27 753.90 L257.73 753.88 L260.19 753.86 L262.66 753.83 L265.12 753.81 L267.58 753.78 L270.04 753.75 L272.51 753.72 L274.97 753.69 L277.43 753.66 L279.90 753.62 L282.36 753.59 L284.82 753.55 L287.28 753.51 L289.75 753.46 L292.21 753.41 L294.67 753.36 L297.14 753.31 L299.60 753.25 L302.06 753.19 L304.52 753.12 L306.99 753.05 L309.45 752.98 L311.91 752.89 L314.38 752.80 L316.84 752.71 L319.30 752.60 L321.76 752.49 L324.23 752.36 L326.69 752.23 L329.15 752.08 L331.61 751.92 L334.08 751.74 L336.54 751.54 L339.00 751.32 L341.47 751.07 L343.93 750.80 L346.39 750.49 L348.85 750.14 L351.32 749.75 L353.78 749.30 L356.24 748.79 L358.71 748.20 L361.17 747.51 L363.63 746.71 L366.09 745.77 L368.56 744.66 L371.02 743.33 L373.48 741.71 L375.95 739.74 L378.41 737.30 L380.87 734.23 L383.33 730.33 L385.80 725.30 L388.26 718.71 L390.72 709.97 L393.18 698.31 L395.65 682.86 L398.11 663.11 L400.57 640.17 L403.04 618.81 L405.50 607.72 L407.96 613.16 L410.42 631.90 L412.89 655.07 L415.35 676.24 L417.81 693.23 L420.28 706.15 L422.74 715.85 L425.20 723.13 L427.66 728.67 L430.13 732.94 L432.59 736.30 L435.05 738.97 L437.52 741.13 L439.98 742.90 L442.44 744.38 L444.90 745.62 L447.37 746.68 L449.83 747.59 L452.29 748.38 L454.75 749.08 L457.22 749.70 L459.68 750.25 L462.14 750.74 L464.61 751.19 L467.07 751.60 L469.53 751.97 L471.99 752.31 L474.46 752.63 L476.92 752.92 L479.38 753.18 L481.85 753.43 L484.31 753.66 L486.77 753.87 L489.23 754.06 L491.70 754.23 L494.16 754.39 L496.62 754.54M107.50 754.98 L109.96 754.98 L112.43 754.98 L114.89 754.98 L117.35 754.97 L119.81 754.97 L122.28 754.97 L124.74 754.96 L127.20 754.96 L129.67 754.96 L132.13 754.95 L134.59 754.95 L137.05 754.95 L139.52 754.94 L141.98 754.94 L144.44 754.93 L146.90 754.93 L149.37 754.93 L151.83 754.92 L154.29 754.92 L156.76 754.91 L159.22 754.91 L161.68 754.90 L164.14 754.90 L166.61 754.89 L169.07 754.89 L171.53 754.88 L174.00 754.88 L176.46 754.87 L178.92 754.86 L181.38 754.86 L183.85 754.85 L186.31 754.84 L188.77 754.84 L191.24 754.83 L193.70 754.82 L196.16 754.81 L198.62 754.81 L201.09 754.80 L203.55 754.79 L206.01 754.78 L208.47 754.77 L210.94 754.76 L213.40 754.75 L215.86 754.74 L218.33 754.73 L220.79 754.72 L223.25 754.71 L225.71 754.70 L228.18 754.68 L230.64 754.67 L233.10 754.66 L235.57 754.64 L238.03 754.63 L240.49 754.61 L242.95 754.59 L245.42 754.58 L247.88 754.56 L250.34 754.54 L252.81 754.52 L255.27 754.50 L257.73 754.48 L260.19 754.46 L262.66 754.43 L265.12 754.41 L267.58 754.38 L270.04 754.35 L272.51 754.32 L274.97 754.29 L277.43 754.26 L279.90 754.22 L282.36 754.19 L284.82 754.15 L287.28 754.11 L289.75 754.06 L292.21 754.01 L294.67 753.96 L297.14 753.91 L299.60 753.85 L302.06 753.79 L304.52 753.72 L306.99 753.65 L309.45 753.58 L311.91 753.49 L314.38 753.40 L316.84 753.31 L319.30 753.20 L321.76 753.09 L324.23 752.96 L326.69 752.83 L329.15 752.68 L331.61 752.52 L334.08 752.34 L336.54 752.14 L339.00 751.92 L341.47 751.67 L343.93 751.40 L346.39 751.09 L348.85 750.74 L351.32 750.35 L353.78 749.90 L356.24 749.39 L358.71 748.80 L361.17 748.11 L363.63 747.31 L366.09 746.37 L368.56 745.26 L371.02 743.93 L373.48 742.31 L375.95 740.34 L378.41 737.90 L380.87 734.83 L383.33 730.93 L385.80 725.90 L388.26 719.31 L390.72 710.57 L393.18 698.91 L395.65 683.46 L398.11 663.71 L400.57 640.77 L403.04 619.41 L405.50 608.32 L407.96 613.76 L410.42 632.50 L412.89 655.67 L415.35 676.84 L417.81 693.83 L420.28 706.75 L422.74 716.45 L425.20 723.73 L427.66 729.27 L430.13 733.54 L432.59 736.90 L435.05 739.57 L437.52 741.73 L439.98 743.50 L442.44 744.98 L444.90 746.22 L447.37 747.28 L449.83 748.19 L452.29 748.98 L454.75 749.68 L457.22 750.30 L459.68 750.85 L462.14 751.34 L464.61 751.79 L467.07 752.20 L469.53 752.57 L471.99 752.91 L474.46 753.23 L476.92 753.52 L479.38 753.78 L481.85 754.03 L484.31 754.26 L486.77 754.47 L489.23 754.66 L491.70 754.83 L494.16 754.99 L496.62 755.14" fill="none" stroke="#0000ff" stroke-width="2.45" stroke-linejoin="miter" stroke-miterlimit="6" clip-path="url(#cc)"/>
<path d="M693.83 508.00 L696.29 507.99 L698.75 507.99 L701.22 507.98 L703.68 507.98 L706.14 507.98 L708.61 507.97 L711.07 507.97 L713.53 507.96 L715.99 507.95 L718.45 507.95 L720.92 507.94 L723.38 507.93 L725.84 507.92 L728.30 507.91 L730.77 507.91 L733.23 507.90 L735.69 507.89 L738.15 507.88 L740.62 507.87 L743.08 507.85 L745.54 507.84 L748.00 507.83 L750.47 507.82 L752.93 507.81 L755.39 507.79 L757.85 507.78 L760.32 507.76 L762.78 507.75 L765.24 507.73 L767.70 507.72 L770.17 507.70 L772.63 507.69 L775.09 507.67 L777.55 507.65 L780.02 507.64 L782.48 507.62 L784.94 507.60 L787.40 507.58 L789.87 507.56 L792.33 507.54 L794.79 507.52 L797.25 507.50 L799.72 507.47 L802.18 507.45 L804.64 507.43 L807.10 507.40 L809.57 507.38 L812.03 507.36 L814.49 507.33 L816.95 507.30 L819.42 507.28 L821.88 507.25 L824.34 507.21 L826.80 507.18 L829.27 507.14 L831.73 507.10 L834.19 507.06 L836.65 507.01 L839.12 506.97 L841.58 506.92 L844.04 506.87 L846.50 506.81 L848.97 506.75 L851.43 506.69 L853.89 506.63 L856.35 506.56 L858.82 506.49 L861.28 506.42 L863.74 506.34 L866.20 506.26 L868.67 506.18 L871.13 506.09 L873.59 506.00 L876.05 505.90 L878.52 505.80 L880.98 505.70 L883.44 505.59 L885.90 505.47 L888.37 505.35 L890.83 505.22 L893.29 505.09 L895.75 504.93 L898.22 504.76 L900.68 504.58 L903.14 504.37 L905.60 504.15 L908.07 503.90 L910.53 503.64 L912.99 503.36 L915.45 503.05 L917.92 502.70 L920.38 502.30 L922.84 501.84 L925.30 501.33 L927.77 500.78 L930.23 500.18 L932.69 499.53 L935.15 498.81 L937.62 497.99 L940.08 497.06 L942.54 496.03 L945.00 494.85 L947.47 493.44 L949.93 491.69 L952.39 489.36 L954.85 486.48 L957.32 483.09 L959.78 478.83 L962.24 473.61 L964.70 467.38 L967.17 459.64 L969.63 450.86 L972.09 440.68 L974.55 429.31 L977.02 416.66 L979.48 401.62 L981.94 383.62 L984.40 361.88 L986.87 337.60 L989.33 316.25 L991.79 304.93 L994.25 305.24 L996.72 326.21 L999.18 348.96 L1001.64 369.85 L1004.10 386.68 L1006.57 399.73 L1009.03 409.82 L1011.49 417.60 L1013.95 423.63 L1016.42 428.48 L1018.88 432.46 L1021.34 435.77 L1023.80 438.55 L1026.27 440.99 L1028.73 443.10 L1031.19 444.89 L1033.65 446.40 L1036.12 447.72 L1038.58 448.87 L1041.04 449.83 L1043.50 450.62 L1045.97 451.30 L1048.43 451.90 L1050.89 452.44 L1053.35 452.92 L1055.82 453.35 L1058.28 453.74 L1060.74 454.11 L1063.20 454.47 L1065.67 454.83 L1068.13 455.18 L1070.59 455.53 L1073.05 455.89 L1075.52 456.27 L1077.98 456.69 L1080.44 457.15 L1082.90 457.64 L1085.37 458.13 L1087.83 458.63 L1090.29 459.14 L1092.75 459.69 L1095.22 460.26 L1097.68 460.84 L1100.14 461.41 L1102.60 461.97 L1105.07 462.53 L1107.53 463.10 L1109.99 463.66 L1112.45 464.19 L1114.92 464.68 L1117.38 465.12 L1119.84 465.53 L1122.30 465.92 L1124.77 466.29 L1127.23 466.64 L1129.69 466.95 L1132.15 467.25 L1134.62 467.54 L1137.08 467.81 L1139.54 468.05 L1142.00 468.26 L1144.47 468.43 L1146.93 468.59 L1149.39 468.73 L1151.85 468.85 L1154.32 468.96 L1156.78 469.06 L1159.24 469.16 L1161.70 469.25 L1164.17 469.34 L1166.63 469.42 L1169.09 469.48 L1171.55 469.54 L1174.02 469.60 L1176.48 469.64 L1178.94 469.68 L1181.40 469.72 L1183.87 469.74 L1186.33 469.76M693.83 508.60 L696.29 508.59 L698.75 508.59 L701.22 508.58 L703.68 508.58 L706.14 508.58 L708.61 508.57 L711.07 508.57 L713.53 508.56 L715.99 508.55 L718.45 508.55 L720.92 508.54 L723.38 508.53 L725.84 508.52 L728.30 508.51 L730.77 508.51 L733.23 508.50 L735.69 508.49 L738.15 508.48 L740.62 508.47 L743.08 508.45 L745.54 508.44 L748.00 508.43 L750.47 508.42 L752.93 508.41 L755.39 508.39 L757.85 508.38 L760.32 508.36 L762.78 508.35 L765.24 508.33 L767.70 508.32 L770.17 508.30 L772.63 508.29 L775.09 508.27 L777.55 508.25 L780.02 508.24 L782.48 508.22 L784.94 508.20 L787.40 508.18 L789.87 508.16 L792.33 508.14 L794.79 508.12 L797.25 508.10 L799.72 508.07 L802.18 508.05 L804.64 508.03 L807.10 508.00 L809.57 507.98 L812.03 507.96 L814.49 507.93 L816.95 507.90 L819.42 507.88 L821.88 507.85 L824.34 507.81 L826.80 507.78 L829.27 507.74 L831.73 507.70 L834.19 507.66 L836.65 507.61 L839.12 507.57 L841.58 507.52 L844.04 507.47 L846.50 507.41 L848.97 507.35 L851.43 507.29 L853.89 507.23 L856.35 507.16 L858.82 507.09 L861.28 507.02 L863.74 506.94 L866.20 506.86 L868.67 506.78 L871.13 506.69 L873.59 506.60 L876.05 506.50 L878.52 506.40 L880.98 506.30 L883.44 506.19 L885.90 506.07 L888.37 505.95 L890.83 505.82 L893.29 505.69 L895.75 505.53 L898.22 505.36 L900.68 505.18 L903.14 504.97 L905.60 504.75 L908.07 504.50 L910.53 504.24 L912.99 503.96 L915.45 503.65 L917.92 503.30 L920.38 502.90 L922.84 502.44 L925.30 501.93 L927.77 501.38 L930.23 500.78 L932.69 500.13 L935.15 499.41 L937.62 498.59 L940.08 497.66 L942.54 496.63 L945.00 495.45 L947.47 494.04 L949.93 492.29 L952.39 489.96 L954.85 487.08 L957.32 483.69 L959.78 479.43 L962.24 474.21 L964.70 467.98 L967.17 460.24 L969.63 451.46 L972.09 441.28 L974.55 429.91 L977.02 417.26 L979.48 402.22 L981.94 384.22 L984.40 362.48 L986.87 338.20 L989.33 316.85 L991.79 305.53 L994.25 305.84 L996.72 326.81 L999.18 349.56 L1001.64 370.45 L1004.10 387.28 L1006.57 400.33 L1009.03 410.42 L1011.49 418.20 L1013.95 424.23 L1016.42 429.08 L1018.88 433.06 L1021.34 436.37 L1023.80 439.15 L1026.27 441.59 L1028.73 443.70 L1031.19 445.49 L1033.65 447.00 L1036.12 448.32 L1038.58 449.47 L1041.04 450.43 L1043.50 451.22 L1045.97 451.90 L1048.43 452.50 L1050.89 453.04 L1053.35 453.52 L1055.82 453.95 L1058.28 454.34 L1060.74 454.71 L1063.20 455.07 L1065.67 455.43 L1068.13 455.78 L1070.59 456.13 L1073.05 456.49 L1075.52 456.87 L1077.98 457.29 L1080.44 457.75 L1082.90 458.24 L1085.37 458.73 L1087.83 459.23 L1090.29 459.74 L1092.75 460.29 L1095.22 460.86 L1097.68 461.44 L1100.14 462.01 L1102.60 462.57 L1105.07 463.13 L1107.53 463.70 L1109.99 464.26 L1112.45 464.79 L1114.92 465.28 L1117.38 465.72 L1119.84 466.13 L1122.30 466.52 L1124.77 466.89 L1127.23 467.24 L1129.69 467.55 L1132.15 467.85 L1134.62 468.14 L1137.08 468.41 L1139.54 468.65 L1142.00 468.86 L1144.47 469.03 L1146.93 469.19 L1149.39 469.33 L1151.85 469.45 L1154.32 469.56 L1156.78 469.66 L1159.24 469.76 L1161.70 469.85 L1164.17 469.94 L1166.63 470.02 L1169.09 470.08 L1171.55 470.14 L1174.02 470.20 L1176.48 470.24 L1178.94 470.28 L1181.40 470.32 L1183.87 470.34 L1186.33 470.36" fill="none" stroke="#00ff00" stroke-width="2.45" stroke-linejoin="miter" stroke-miterlimit="6" clip-path="url(#cd)"/>
<path d="M693.83 507.80 L695.06 507.82 L696.29 507.83 L697.52 507.84 L698.76 507.85 L699.99 507.86 L701.22 507.87 L702.45 507.88 L703.68 507.88 L704.91 507.89 L706.14 507.89 L707.37 507.89 L708.61 507.89 L709.84 507.89 L711.07 507.88 L712.30 507.87 L713.53 507.86 L714.76 507.85 L715.99 507.84 L717.22 507.82 L718.46 507.81 L719.69 507.78 L720.92 507.76 L722.15 507.73 L723.38 507.71 L724.61 507.67 L725.84 507.64 L727.07 507.60 L728.31 507.56 L729.54 507.52 L730.77 507.47 L732.00 507.42 L733.23 507.36 L734.46 507.31 L735.69 507.24 L736.92 507.18 L738.16 507.11 L739.39 507.04 L740.62 506.96 L741.85 506.88 L743.08 506.80 L744.31 506.71 L745.54 506.62 L746.77 506.52 L748.01 506.42 L749.24 506.31 L750.47 506.20 L751.70 506.09 L752.93 505.97 L754.16 505.84 L755.39 505.71 L756.62 505.58 L757.86 505.43 L759.09 505.27 L760.32 505.09 L761.55 504.90 L762.78 504.68 L764.01 504.44 L765.24 504.17 L766.47 503.87 L767.71 503.53 L768.94 503.16 L770.17 502.75 L771.40 502.30 L772.63 501.81 L773.86 501.29 L775.09 500.74 L776.32 500.15 L777.56 499.54 L778.79 498.91 L780.02 498.26 L781.25 497.61 L782.48 496.98 L783.71 496.38 L784.94 495.83 L786.17 495.39 L787.41 495.17 L788.64 495.26 L789.87 495.66 L791.10 496.29 L792.33 497.06 L793.56 497.88 L794.79 498.67 L796.02 499.44 L797.26 500.16 L798.49 500.84 L799.72 501.46 L800.95 502.02 L802.18 502.51 L803.41 502.93 L804.64 503.29 L805.87 503.59 L807.11 503.85 L808.34 504.05 L809.57 504.23 L810.80 504.37 L812.03 504.50 L813.26 504.61 L814.49 504.71 L815.72 504.80 L816.96 504.88 L818.19 504.94 L819.42 504.98 L820.65 505.00 L821.88 505.00 L823.11 504.98 L824.34 504.92 L825.57 504.84 L826.81 504.74 L828.04 504.60 L829.27 504.42 L830.50 504.21 L831.73 503.97 L832.96 503.69 L834.19 503.37 L835.42 503.01 L836.66 502.61 L837.89 502.20 L839.12 501.76 L840.35 501.32 L841.58 500.87 L842.81 500.44 L844.04 500.02 L845.27 499.64 L846.51 499.31 L847.74 499.05 L848.97 498.88 L850.20 498.83 L851.43 498.89 L852.66 499.07 L853.89 499.31 L855.12 499.60 L856.36 499.89 L857.59 500.15 L858.82 500.36 L860.05 500.49 L861.28 500.55 L862.51 500.53 L863.74 500.45 L864.97 500.30 L866.21 500.08 L867.44 499.77 L868.67 499.37 L869.90 498.86 L871.13 498.23 L872.36 497.48 L873.59 496.59 L874.82 495.56 L876.06 494.42 L877.29 493.18 L878.52 491.88 L879.75 490.54 L880.98 489.18 L882.21 487.86 L883.44 486.64 L884.67 485.55 L885.91 484.66 L887.14 484.03 L888.37 483.72 L889.60 483.78 L890.83 484.21 L892.06 484.95 L893.29 485.96 L894.52 487.19 L895.76 488.57 L896.99 490.02 L898.22 491.46 L899.45 492.81 L900.68 493.99 L901.91 494.96 L903.14 495.75 L904.37 496.39 L905.61 496.90 L906.84 497.32 L908.07 497.67 L909.30 497.96 L910.53 498.21 L911.76 498.42 L912.99 498.57 L914.22 498.69 L915.46 498.77 L916.69 498.80 L917.92 498.79 L919.15 498.74 L920.38 498.64 L921.61 498.52 L922.84 498.36 L924.07 498.17 L925.31 497.95 L926.54 497.70 L927.77 497.43 L929.00 497.12 L930.23 496.77 L931.46 496.33 L932.69 495.81 L933.92 495.16 L935.16 494.37 L936.39 493.42 L937.62 492.29 L938.85 490.98 L940.08 489.46 L941.31 487.75 L942.54 485.83 L943.77 483.71 L945.01 481.49 L946.24 479.24 L947.47 477.06 L948.70 475.03 L949.93 473.22 L951.16 471.71 L952.39 470.62 L953.62 470.04 L954.86 469.96 L956.09 470.15 L957.32 470.37 L958.55 470.37 L959.78 470.09 L961.01 469.49 L962.24 468.54 L963.47 467.21 L964.71 465.46 L965.94 463.29 L967.17 460.85 L968.40 458.31 L969.63 455.79 L970.86 453.20 L972.09 450.66 L973.32 448.36 L974.56 446.46 L975.79 444.90 L977.02 443.46 L978.25 442.08 L979.48 440.73 L980.71 439.38 L981.94 437.96 L983.17 436.38 L984.41 434.66 L985.64 432.83 L986.87 430.93 L988.10 429.01 L989.33 427.09 L990.56 425.27 L991.79 423.70 L993.02 422.52 L994.26 421.86 L995.49 421.86 L996.72 422.44 L997.95 423.41 L999.18 424.60 L1000.41 425.86 L1001.64 427.04 L1002.87 428.05 L1004.11 428.91 L1005.34 429.64 L1006.57 430.27 L1007.80 430.80 L1009.03 431.21 L1010.26 431.54 L1011.49 431.80 L1012.72 432.03 L1013.96 432.29 L1015.19 432.64 L1016.42 433.12 L1017.65 433.74 L1018.88 434.45 L1020.11 435.20 L1021.34 435.94 L1022.57 436.63 L1023.81 437.23 L1025.04 437.69 L1026.27 437.99 L1027.50 438.11 L1028.73 438.07 L1029.96 437.86 L1031.19 437.50 L1032.42 436.99 L1033.66 436.45 L1034.89 435.99 L1036.12 435.72 L1037.35 435.74 L1038.58 436.12 L1039.81 436.82 L1041.04 437.78 L1042.27 438.96 L1043.51 440.30 L1044.74 441.74 L1045.97 443.19 L1047.20 444.60 L1048.43 445.87 L1049.66 446.95 L1050.89 447.84 L1052.12 448.56 L1053.36 449.14 L1054.59 449.61 L1055.82 450.00 L1057.05 450.33 L1058.28 450.61 L1059.51 450.83 L1060.74 451.01 L1061.97 451.16 L1063.21 451.27 L1064.44 451.35 L1065.67 451.42 L1066.90 451.47 L1068.13 451.53 L1069.36 451.60 L1070.59 451.70 L1071.82 451.84 L1073.06 452.03 L1074.29 452.27 L1075.52 452.54 L1076.75 452.83 L1077.98 453.13 L1079.21 453.41 L1080.44 453.65 L1081.67 453.85 L1082.91 454.00 L1084.14 454.11 L1085.37 454.20 L1086.60 454.27 L1087.83 454.33 L1089.06 454.41 L1090.29 454.52 L1091.52 454.68 L1092.76 454.89 L1093.99 455.16 L1095.22 455.47 L1096.45 455.83 L1097.68 456.22 L1098.91 456.64 L1100.14 457.08 L1101.37 457.54 L1102.61 458.01 L1103.84 458.50 L1105.07 459.00 L1106.30 459.50 L1107.53 460.00 L1108.76 460.49 L1109.99 460.97 L1111.22 461.42 L1112.46 461.84 L1113.69 462.23 L1114.92 462.57 L1116.15 462.88 L1117.38 463.15 L1118.61 463.40 L1119.84 463.63 L1121.07 463.84 L1122.31 464.03 L1123.54 464.21 L1124.77 464.38 L1126.00 464.54 L1127.23 464.70 L1128.46 464.85 L1129.69 465.00 L1130.92 465.16 L1132.16 465.31 L1133.39 465.46 L1134.62 465.63 L1135.85 465.79 L1137.08 465.96 L1138.31 466.14 L1139.54 466.31 L1140.77 466.49 L1142.01 466.67 L1143.24 466.85 L1144.47 467.02 L1145.70 467.19 L1146.93 467.37 L1148.16 467.54 L1149.39 467.70 L1150.62 467.86 L1151.86 468.01 L1153.09 468.16 L1154.32 468.29 L1155.55 468.41 L1156.78 468.51 L1158.01 468.60 L1159.24 468.67 L1160.47 468.73 L1161.71 468.78 L1162.94 468.82 L1164.17 468.84 L1165.40 468.86 L1166.63 468.86 L1167.86 468.86 L1169.09 468.85 L1170.32 468.84 L1171.56 468.82 L1172.79 468.79 L1174.02 468.77 L1175.25 468.75 L1176.48 468.72 L1177.71 468.70 L1178.94 468.68 L1180.17 468.66 L1181.41 468.65 L1182.64 468.64 L1183.87 468.63 L1185.10 468.64 L1186.33 468.65M693.83 508.40 L695.06 508.42 L696.29 508.43 L697.52 508.44 L698.76 508.45 L699.99 508.46 L701.22 508.47 L702.45 508.48 L703.68 508.48 L704.91 508.49 L706.14 508.49 L707.37 508.49 L708.61 508.49 L709.84 508.49 L711.07 508.48 L712.30 508.47 L713.53 508.46 L714.76 508.45 L715.99 508.44 L717.22 508.42 L718.46 508.41 L719.69 508.38 L720.92 508.36 L722.15 508.33 L723.38 508.31 L724.61 508.27 L725.84 508.24 L727.07 508.20 L728.31 508.16 L729.54 508.12 L730.77 508.07 L732.00 508.02 L733.23 507.96 L734.46 507.91 L735.69 507.84 L736.92 507.78 L738.16 507.71 L739.39 507.64 L740.62 507.56 L741.85 507.48 L743.08 507.40 L744.31 507.31 L745.54 507.22 L746.77 507.12 L748.01 507.02 L749.24 506.91 L750.47 506.80 L751.70 506.69 L752.93 506.57 L754.16 506.44 L755.39 506.31 L756.62 506.18 L757.86 506.03 L759.09 505.87 L760.32 505.69 L761.55 505.50 L762.78 505.28 L764.01 505.04 L765.24 504.77 L766.47 504.47 L767.71 504.13 L768.94 503.76 L770.17 503.35 L771.40 502.90 L772.63 502.41 L773.86 501.89 L775.09 501.34 L776.32 500.75 L777.56 500.14 L778.79 499.51 L780.02 498.86 L781.25 498.21 L782.48 497.58 L783.71 496.98 L784.94 496.43 L786.17 495.99 L787.41 495.77 L788.64 495.86 L789.87 496.26 L791.10 496.89 L792.33 497.66 L793.56 498.48 L794.79 499.27 L796.02 500.04 L797.26 500.76 L798.49 501.44 L799.72 502.06 L800.95 502.62 L802.18 503.11 L803.41 503.53 L804.64 503.89 L805.87 504.19 L807.11 504.45 L808.34 504.65 L809.57 504.83 L810.80 504.97 L812.03 505.10 L813.26 505.21 L814.49 505.31 L815.72 505.40 L816.96 505.48 L818.19 505.54 L819.42 505.58 L820.65 505.60 L821.88 505.60 L823.11 505.58 L824.34 505.52 L825.57 505.44 L826.81 505.34 L828.04 505.20 L829.27 505.02 L830.50 504.81 L831.73 504.57 L832.96 504.29 L834.19 503.97 L835.42 503.61 L836.66 503.21 L837.89 502.80 L839.12 502.36 L840.35 501.92 L841.58 501.47 L842.81 501.04 L844.04 500.62 L845.27 500.24 L846.51 499.91 L847.74 499.65 L848.97 499.48 L850.20 499.43 L851.43 499.49 L852.66 499.67 L853.89 499.91 L855.12 500.20 L856.36 500.49 L857.59 500.75 L858.82 500.96 L860.05 501.09 L861.28 501.15 L862.51 501.13 L863.74 501.05 L864.97 500.90 L866.21 500.68 L867.44 500.37 L868.67 499.97 L869.90 499.46 L871.13 498.83 L872.36 498.08 L873.59 497.19 L874.82 496.16 L876.06 495.02 L877.29 493.78 L878.52 492.48 L879.75 491.14 L880.98 489.78 L882.21 488.46 L883.44 487.24 L884.67 486.15 L885.91 485.26 L887.14 484.63 L888.37 484.32 L889.60 484.38 L890.83 484.81 L892.06 485.55 L893.29 486.56 L894.52 487.79 L895.76 489.17 L896.99 490.62 L898.22 492.06 L899.45 493.41 L900.68 494.59 L901.91 495.56 L903.14 496.35 L904.37 496.99 L905.61 497.50 L906.84 497.92 L908.07 498.27 L909.30 498.56 L910.53 498.81 L911.76 499.02 L912.99 499.17 L914.22 499.29 L915.46 499.37 L916.69 499.40 L917.92 499.39 L919.15 499.34 L920.38 499.24 L921.61 499.12 L922.84 498.96 L924.07 498.77 L925.31 498.55 L926.54 498.30 L927.77 498.03 L929.00 497.72 L930.23 497.37 L931.46 496.93 L932.69 496.41 L933.92 495.76 L935.16 494.97 L936.39 494.02 L937.62 492.89 L938.85 491.58 L940.08 490.06 L941.31 488.35 L942.54 486.43 L943.77 484.31 L945.01 482.09 L946.24 479.84 L947.47 477.66 L948.70 475.63 L949.93 473.82 L951.16 472.31 L952.39 471.22 L953.62 470.64 L954.86 470.56 L956.09 470.75 L957.32 470.97 L958.55 470.97 L959.78 470.69 L961.01 470.09 L962.24 469.14 L963.47 467.81 L964.71 466.06 L965.94 463.89 L967.17 461.45 L968.40 458.91 L969.63 456.39 L970.86 453.80 L972.09 451.26 L973.32 448.96 L974.56 447.06 L975.79 445.50 L977.02 444.06 L978.25 442.68 L979.48 441.33 L980.71 439.98 L981.94 438.56 L983.17 436.98 L984.41 435.26 L985.64 433.43 L986.87 431.53 L988.10 429.61 L989.33 427.69 L990.56 425.87 L991.79 424.30 L993.02 423.12 L994.26 422.46 L995.49 422.46 L996.72 423.04 L997.95 424.01 L999.18 425.20 L1000.41 426.46 L1001.64 427.64 L1002.87 428.65 L1004.11 429.51 L1005.34 430.24 L1006.57 430.87 L1007.80 431.40 L1009.03 431.81 L1010.26 432.14 L1011.49 432.40 L1012.72 432.63 L1013.96 432.89 L1015.19 433.24 L1016.42 433.72 L1017.65 434.34 L1018.88 435.05 L1020.11 435.80 L1021.34 436.54 L1022.57 437.23 L1023.81 437.83 L1025.04 438.29 L1026.27 438.59 L1027.50 438.71 L1028.73 438.67 L1029.96 438.46 L1031.19 438.10 L1032.42 437.59 L1033.66 437.05 L1034.89 436.59 L1036.12 436.32 L1037.35 436.34 L1038.58 436.72 L1039.81 437.42 L1041.04 438.38 L1042.27 439.56 L1043.51 440.90 L1044.74 442.34 L1045.97 443.79 L1047.20 445.20 L1048.43 446.47 L1049.66 447.55 L1050.89 448.44 L1052.12 449.16 L1053.36 449.74 L1054.59 450.21 L1055.82 450.60 L1057.05 450.93 L1058.28 451.21 L1059.51 451.43 L1060.74 451.61 L1061.97 451.76 L1063.21 451.87 L1064.44 451.95 L1065.67 452.02 L1066.90 452.07 L1068.13 452.13 L1069.36 452.20 L1070.59 452.30 L1071.82 452.44 L1073.06 452.63 L1074.29 452.87 L1075.52 453.14 L1076.75 453.43 L1077.98 453.73 L1079.21 454.01 L1080.44 454.25 L1081.67 454.45 L1082.91 454.60 L1084.14 454.71 L1085.37 454.80 L1086.60 454.87 L1087.83 454.93 L1089.06 455.01 L1090.29 455.12 L1091.52 455.28 L1092.76 455.49 L1093.99 455.76 L1095.22 456.07 L1096.45 456.43 L1097.68 456.82 L1098.91 457.24 L1100.14 457.68 L1101.37 458.14 L1102.61 458.61 L1103.84 459.10 L1105.07 459.60 L1106.30 460.10 L1107.53 460.60 L1108.76 461.09 L1109.99 461.57 L1111.22 462.02 L1112.46 462.44 L1113.69 462.83 L1114.92 463.17 L1116.15 463.48 L1117.38 463.75 L1118.61 464.00 L1119.84 464.23 L1121.07 464.44 L1122.31 464.63 L1123.54 464.81 L1124.77 464.98 L1126.00 465.14 L1127.23 465.30 L1128.46 465.45 L1129.69 465.60 L1130.92 465.76 L1132.16 465.91 L1133.39 466.06 L1134.62 466.23 L1135.85 466.39 L1137.08 466.56 L1138.31 466.74 L1139.54 466.91 L1140.77 467.09 L1142.01 467.27 L1143.24 467.45 L1144.47 467.62 L1145.70 467.79 L1146.93 467.97 L1148.16 468.14 L1149.39 468.30 L1150.62 468.46 L1151.86 468.61 L1153.09 468.76 L1154.32 468.89 L1155.55 469.01 L1156.78 469.11 L1158.01 469.20 L1159.24 469.27 L1160.47 469.33 L1161.71 469.38 L1162.94 469.42 L1164.17 469.44 L1165.40 469.46 L1166.63 469.46 L1167.86 469.46 L1169.09 469.45 L1170.32 469.44 L1171.56 469.42 L1172.79 469.39 L1174.02 469.37 L1175.25 469.35 L1176.48 469.32 L1177.71 469.30 L1178.94 469.28 L1180.17 469.26 L1181.41 469.25 L1182.64 469.24 L1183.87 469.23 L1185.10 469.24 L1186.33 469.25" fill="none" stroke="#ff0000" stroke-width="2.45" stroke-linejoin="miter" stroke-miterlimit="6" clip-path="url(#cd)"/>
<path d="M693.83 507.04 L695.06 506.98 L696.29 506.93 L697.52 506.88 L698.76 506.83 L699.99 506.79 L701.22 506.76 L702.45 506.72 L703.68 506.69 L704.91 506.66 L706.14 506.63 L707.37 506.61 L708.61 506.58 L709.84 506.55 L711.07 506.53 L712.30 506.50 L713.53 506.47 L714.76 506.43 L715.99 506.40 L717.22 506.36 L718.46 506.31 L719.69 506.26 L720.92 506.21 L722.15 506.15 L723.38 506.08 L724.61 506.01 L725.84 505.92 L727.07 505.83 L728.31 505.74 L729.54 505.63 L730.77 505.51 L732.00 505.38 L733.23 505.24 L734.46 505.09 L735.69 504.93 L736.92 504.75 L738.16 504.55 L739.39 504.34 L740.62 504.11 L741.85 503.85 L743.08 503.58 L744.31 503.28 L745.54 502.96 L746.77 502.61 L748.01 502.23 L749.24 501.82 L750.47 501.38 L751.70 500.91 L752.93 500.38 L754.16 499.80 L755.39 499.13 L756.62 498.38 L757.86 497.53 L759.09 496.56 L760.32 495.47 L761.55 494.23 L762.78 492.86 L764.01 491.37 L765.24 489.78 L766.47 488.11 L767.71 486.37 L768.94 484.58 L770.17 482.80 L771.40 481.16 L772.63 479.79 L773.86 478.81 L775.09 478.36 L776.32 478.55 L777.56 479.36 L778.79 480.67 L780.02 482.36 L781.25 484.31 L782.48 486.38 L783.71 488.47 L784.94 490.51 L786.17 492.44 L787.41 494.21 L788.64 495.75 L789.87 497.02 L791.10 498.04 L792.33 498.84 L793.56 499.46 L794.79 499.94 L796.02 500.33 L797.26 500.67 L798.49 500.98 L799.72 501.29 L800.95 501.57 L802.18 501.82 L803.41 502.04 L804.64 502.21 L805.87 502.34 L807.11 502.40 L808.34 502.39 L809.57 502.31 L810.80 502.16 L812.03 501.94 L813.26 501.67 L814.49 501.35 L815.72 500.99 L816.96 500.58 L818.19 500.15 L819.42 499.68 L820.65 499.21 L821.88 498.73 L823.11 498.29 L824.34 497.89 L825.57 497.56 L826.81 497.31 L828.04 497.13 L829.27 496.98 L830.50 496.83 L831.73 496.67 L832.96 496.45 L834.19 496.16 L835.42 495.78 L836.66 495.31 L837.89 494.79 L839.12 494.23 L840.35 493.67 L841.58 493.13 L842.81 492.63 L844.04 492.22 L845.27 491.92 L846.51 491.77 L847.74 491.79 L848.97 491.99 L850.20 492.30 L851.43 492.65 L852.66 493.00 L853.89 493.27 L855.12 493.40 L856.36 493.35 L857.59 493.09 L858.82 492.62 L860.05 491.92 L861.28 490.98 L862.51 489.77 L863.74 488.33 L864.97 486.71 L866.21 484.99 L867.44 483.27 L868.67 481.62 L869.90 480.11 L871.13 478.86 L872.36 477.96 L873.59 477.52 L874.82 477.64 L876.06 478.32 L877.29 479.44 L878.52 480.91 L879.75 482.59 L880.98 484.40 L882.21 486.27 L883.44 488.12 L884.67 489.88 L885.91 491.48 L887.14 492.86 L888.37 494.03 L889.60 495.01 L890.83 495.82 L892.06 496.50 L893.29 497.07 L894.52 497.55 L895.76 497.98 L896.99 498.36 L898.22 498.68 L899.45 498.95 L900.68 499.16 L901.91 499.31 L903.14 499.40 L904.37 499.42 L905.61 499.37 L906.84 499.25 L908.07 499.06 L909.30 498.80 L910.53 498.48 L911.76 498.08 L912.99 497.62 L914.22 497.10 L915.46 496.51 L916.69 495.85 L917.92 495.13 L919.15 494.34 L920.38 493.51 L921.61 492.64 L922.84 491.73 L924.07 490.80 L925.31 489.86 L926.54 488.91 L927.77 487.97 L929.00 487.05 L930.23 486.16 L931.46 485.35 L932.69 484.61 L933.92 483.97 L935.16 483.45 L936.39 483.04 L937.62 482.76 L938.85 482.61 L940.08 482.61 L941.31 482.76 L942.54 483.07 L943.77 483.55 L945.01 484.18 L946.24 484.96 L947.47 485.78 L948.70 486.57 L949.93 487.21 L951.16 487.58 L952.39 487.67 L953.62 487.49 L954.86 487.07 L956.09 486.45 L957.32 485.63 L958.55 484.54 L959.78 483.20 L961.01 481.66 L962.24 479.94 L963.47 478.11 L964.71 476.07 L965.94 473.80 L967.17 471.41 L968.40 469.03 L969.63 466.75 L970.86 464.40 L972.09 462.03 L973.32 459.76 L974.56 457.71 L975.79 455.88 L977.02 454.10 L978.25 452.38 L979.48 450.77 L980.71 449.32 L981.94 448.06 L983.17 446.87 L984.41 445.78 L985.64 444.82 L986.87 444.01 L988.10 443.36 L989.33 442.82 L990.56 442.34 L991.79 441.92 L993.02 441.57 L994.26 441.31 L995.49 441.12 L996.72 441.01 L997.95 440.92 L999.18 440.86 L1000.41 440.83 L1001.64 440.82 L1002.87 440.85 L1004.11 440.92 L1005.34 441.05 L1006.57 441.28 L1007.80 441.57 L1009.03 441.91 L1010.26 442.28 L1011.49 442.66 L1012.72 443.03 L1013.96 443.44 L1015.19 443.88 L1016.42 444.35 L1017.65 444.85 L1018.88 445.35 L1020.11 445.83 L1021.34 446.29 L1022.57 446.71 L1023.81 447.09 L1025.04 447.42 L1026.27 447.69 L1027.50 447.90 L1028.73 448.07 L1029.96 448.21 L1031.19 448.33 L1032.42 448.43 L1033.66 448.57 L1034.89 448.76 L1036.12 449.00 L1037.35 449.31 L1038.58 449.67 L1039.81 450.05 L1041.04 450.45 L1042.27 450.85 L1043.51 451.25 L1044.74 451.63 L1045.97 452.00 L1047.20 452.35 L1048.43 452.68 L1049.66 452.99 L1050.89 453.28 L1052.12 453.55 L1053.36 453.79 L1054.59 454.02 L1055.82 454.22 L1057.05 454.39 L1058.28 454.55 L1059.51 454.69 L1060.74 454.81 L1061.97 454.93 L1063.21 455.03 L1064.44 455.12 L1065.67 455.21 L1066.90 455.28 L1068.13 455.35 L1069.36 455.42 L1070.59 455.48 L1071.82 455.54 L1073.06 455.61 L1074.29 455.68 L1075.52 455.76 L1076.75 455.85 L1077.98 455.96 L1079.21 456.08 L1080.44 456.22 L1081.67 456.37 L1082.91 456.54 L1084.14 456.71 L1085.37 456.90 L1086.60 457.11 L1087.83 457.33 L1089.06 457.57 L1090.29 457.83 L1091.52 458.13 L1092.76 458.45 L1093.99 458.79 L1095.22 459.14 L1096.45 459.51 L1097.68 459.88 L1098.91 460.24 L1100.14 460.60 L1101.37 460.94 L1102.61 461.27 L1103.84 461.58 L1105.07 461.88 L1106.30 462.17 L1107.53 462.45 L1108.76 462.72 L1109.99 462.98 L1111.22 463.23 L1112.46 463.48 L1113.69 463.72 L1114.92 463.95 L1116.15 464.18 L1117.38 464.40 L1118.61 464.63 L1119.84 464.85 L1121.07 465.06 L1122.31 465.28 L1123.54 465.48 L1124.77 465.68 L1126.00 465.88 L1127.23 466.06 L1128.46 466.24 L1129.69 466.41 L1130.92 466.58 L1132.16 466.74 L1133.39 466.90 L1134.62 467.05 L1135.85 467.20 L1137.08 467.33 L1138.31 467.47 L1139.54 467.59 L1140.77 467.71 L1142.01 467.81 L1143.24 467.91 L1144.47 468.00 L1145.70 468.08 L1146.93 468.16 L1148.16 468.23 L1149.39 468.30 L1150.62 468.36 L1151.86 468.42 L1153.09 468.47 L1154.32 468.51 L1155.55 468.56 L1156.78 468.60 L1158.01 468.63 L1159.24 468.67 L1160.47 468.70 L1161.71 468.72 L1162.94 468.75 L1164.17 468.77 L1165.40 468.78 L1166.63 468.80 L1167.86 468.81 L1169.09 468.81 L1170.32 468.82 L1171.56 468.82 L1172.79 468.82 L1174.02 468.81 L1175.25 468.81 L1176.48 468.80 L1177.71 468.79 L1178.94 468.77 L1180.17 468.76 L1181.41 468.74 L1182.64 468.72 L1183.87 468.70 L1185.10 468.68 L1186.33 468.65M693.83 507.64 L695.06 507.58 L696.29 507.53 L697.52 507.48 L698.76 507.43 L699.99 507.39 L701.22 507.36 L702.45 507.32 L703.68 507.29 L704.91 507.26 L706.14 507.23 L707.37 507.21 L708.61 507.18 L709.84 507.15 L711.07 507.13 L712.30 507.10 L713.53 507.07 L714.76 507.03 L715.99 507.00 L717.22 506.96 L718.46 506.91 L719.69 506.86 L720.92 506.81 L722.15 506.75 L723.38 506.68 L724.61 506.61 L725.84 506.52 L727.07 506.43 L728.31 506.34 L729.54 506.23 L730.77 506.11 L732.00 505.98 L733.23 505.84 L734.46 505.69 L735.69 505.53 L736.92 505.35 L738.16 505.15 L739.39 504.94 L740.62 504.71 L741.85 504.45 L743.08 504.18 L744.31 503.88 L745.54 503.56 L746.77 503.21 L748.01 502.83 L749.24 502.42 L750.47 501.98 L751.70 501.51 L752.93 500.98 L754.16 500.40 L755.39 499.73 L756.62 498.98 L757.86 498.13 L759.09 497.16 L760.32 496.07 L761.55 494.83 L762.78 493.46 L764.01 491.97 L765.24 490.38 L766.47 488.71 L767.71 486.97 L768.94 485.18 L770.17 483.40 L771.40 481.76 L772.63 480.39 L773.86 479.41 L775.09 478.96 L776.32 479.15 L777.56 479.96 L778.79 481.27 L780.02 482.96 L781.25 484.91 L782.48 486.98 L783.71 489.07 L784.94 491.11 L786.17 493.04 L787.41 494.81 L788.64 496.35 L789.87 497.62 L791.10 498.64 L792.33 499.44 L793.56 500.06 L794.79 500.54 L796.02 500.93 L797.26 501.27 L798.49 501.58 L799.72 501.89 L800.95 502.17 L802.18 502.42 L803.41 502.64 L804.64 502.81 L805.87 502.94 L807.11 503.00 L808.34 502.99 L809.57 502.91 L810.80 502.76 L812.03 502.54 L813.26 502.27 L814.49 501.95 L815.72 501.59 L816.96 501.18 L818.19 500.75 L819.42 500.28 L820.65 499.81 L821.88 499.33 L823.11 498.89 L824.34 498.49 L825.57 498.16 L826.81 497.91 L828.04 497.73 L829.27 497.58 L830.50 497.43 L831.73 497.27 L832.96 497.05 L834.19 496.76 L835.42 496.38 L836.66 495.91 L837.89 495.39 L839.12 494.83 L840.35 494.27 L841.58 493.73 L842.81 493.23 L844.04 492.82 L845.27 492.52 L846.51 492.37 L847.74 492.39 L848.97 492.59 L850.20 492.90 L851.43 493.25 L852.66 493.60 L853.89 493.87 L855.12 494.00 L856.36 493.95 L857.59 493.69 L858.82 493.22 L860.05 492.52 L861.28 491.58 L862.51 490.37 L863.74 488.93 L864.97 487.31 L866.21 485.59 L867.44 483.87 L868.67 482.22 L869.90 480.71 L871.13 479.46 L872.36 478.56 L873.59 478.12 L874.82 478.24 L876.06 478.92 L877.29 480.04 L878.52 481.51 L879.75 483.19 L880.98 485.00 L882.21 486.87 L883.44 488.72 L884.67 490.48 L885.91 492.08 L887.14 493.46 L888.37 494.63 L889.60 495.61 L890.83 496.42 L892.06 497.10 L893.29 497.67 L894.52 498.15 L895.76 498.58 L896.99 498.96 L898.22 499.28 L899.45 499.55 L900.68 499.76 L901.91 499.91 L903.14 500.00 L904.37 500.02 L905.61 499.97 L906.84 499.85 L908.07 499.66 L909.30 499.40 L910.53 499.08 L911.76 498.68 L912.99 498.22 L914.22 497.70 L915.46 497.11 L916.69 496.45 L917.92 495.73 L919.15 494.94 L920.38 494.11 L921.61 493.24 L922.84 492.33 L924.07 491.40 L925.31 490.46 L926.54 489.51 L927.77 488.57 L929.00 487.65 L930.23 486.76 L931.46 485.95 L932.69 485.21 L933.92 484.57 L935.16 484.05 L936.39 483.64 L937.62 483.36 L938.85 483.21 L940.08 483.21 L941.31 483.36 L942.54 483.67 L943.77 484.15 L945.01 484.78 L946.24 485.56 L947.47 486.38 L948.70 487.17 L949.93 487.81 L951.16 488.18 L952.39 488.27 L953.62 488.09 L954.86 487.67 L956.09 487.05 L957.32 486.23 L958.55 485.14 L959.78 483.80 L961.01 482.26 L962.24 480.54 L963.47 478.71 L964.71 476.67 L965.94 474.40 L967.17 472.01 L968.40 469.63 L969.63 467.35 L970.86 465.00 L972.09 462.63 L973.32 460.36 L974.56 458.31 L975.79 456.48 L977.02 454.70 L978.25 452.98 L979.48 451.37 L980.71 449.92 L981.94 448.66 L983.17 447.47 L984.41 446.38 L985.64 445.42 L986.87 444.61 L988.10 443.96 L989.33 443.42 L990.56 442.94 L991.79 442.52 L993.02 442.17 L994.26 441.91 L995.49 441.72 L996.72 441.61 L997.95 441.52 L999.18 441.46 L1000.41 441.43 L1001.64 441.42 L1002.87 441.45 L1004.11 441.52 L1005.34 441.65 L1006.57 441.88 L1007.80 442.17 L1009.03 442.51 L1010.26 442.88 L1011.49 443.26 L1012.72 443.63 L1013.96 444.04 L1015.19 444.48 L1016.42 444.95 L1017.65 445.45 L1018.88 445.95 L1020.11 446.43 L1021.34 446.89 L1022.57 447.31 L1023.81 447.69 L1025.04 448.02 L1026.27 448.29 L1027.50 448.50 L1028.73 448.67 L1029.96 448.81 L1031.19 448.93 L1032.42 449.03 L1033.66 449.17 L1034.89 449.36 L1036.12 449.60 L1037.35 449.91 L1038.58 450.27 L1039.81 450.65 L1041.04 451.05 L1042.27 451.45 L1043.51 451.85 L1044.74 452.23 L1045.97 452.60 L1047.20 452.95 L1048.43 453.28 L1049.66 453.59 L1050.89 453.88 L1052.12 454.15 L1053.36 454.39 L1054.59 454.62 L1055.82 454.82 L1057.05 454.99 L1058.28 455.15 L1059.51 455.29 L1060.74 455.41 L1061.97 455.53 L1063.21 455.63 L1064.44 455.72 L1065.67 455.81 L1066.90 455.88 L1068.13 455.95 L1069.36 456.02 L1070.59 456.08 L1071.82 456.14 L1073.06 456.21 L1074.29 456.28 L1075.52 456.36 L1076.75 456.45 L1077.98 456.56 L1079.21 456.68 L1080.44 456.82 L1081.67 456.97 L1082.91 457.14 L1084.14 457.31 L1085.37 457.50 L1086.60 457.71 L1087.83 457.93 L1089.06 458.17 L1090.29 458.43 L1091.52 458.73 L1092.76 459.05 L1093.99 459.39 L1095.22 459.74 L1096.45 460.11 L1097.68 460.48 L1098.91 460.84 L1100.14 461.20 L1101.37 461.54 L1102.61 461.87 L1103.84 462.18 L1105.07 462.48 L1106.30 462.77 L1107.53 463.05 L1108.76 463.32 L1109.99 463.58 L1111.22 463.83 L1112.46 464.08 L1113.69 464.32 L1114.92 464.55 L1116.15 464.78 L1117.38 465.00 L1118.61 465.23 L1119.84 465.45 L1121.07 465.66 L1122.31 465.88 L1123.54 466.08 L1124.77 466.28 L1126.00 466.48 L1127.23 466.66 L1128.46 466.84 L1129.69 467.01 L1130.92 467.18 L1132.16 467.34 L1133.39 467.50 L1134.62 467.65 L1135.85 467.80 L1137.08 467.93 L1138.31 468.07 L1139.54 468.19 L1140.77 468.31 L1142.01 468.41 L1143.24 468.51 L1144.47 468.60 L1145.70 468.68 L1146.93 468.76 L1148.16 468.83 L1149.39 468.90 L1150.62 468.96 L1151.86 469.02 L1153.09 469.07 L1154.32 469.11 L1155.55 469.16 L1156.78 469.20 L1158.01 469.23 L1159.24 469.27 L1160.47 469.30 L1161.71 469.32 L1162.94 469.35 L1164.17 469.37 L1165.40 469.38 L1166.63 469.40 L1167.86 469.41 L1169.09 469.41 L1170.32 469.42 L1171.56 469.42 L1172.79 469.42 L1174.02 469.41 L1175.25 469.41 L1176.48 469.40 L1177.71 469.39 L1178.94 469.37 L1180.17 469.36 L1181.41 469.34 L1182.64 469.32 L1183.87 469.30 L1185.10 469.28 L1186.33 469.25" fill="none" stroke="#0000ff" stroke-width="2.45" stroke-linejoin="miter" stroke-miterlimit="6" clip-path="url(#cd)"/>
<path d="M693.83 754.38 L696.29 754.38 L698.75 754.38 L701.22 754.38 L703.68 754.37 L706.14 754.37 L708.61 754.37 L711.07 754.36 L713.53 754.36 L715.99 754.36 L718.45 754.35 L720.92 754.35 L723.38 754.35 L725.84 754.34 L728.30 754.34 L730.77 754.33 L733.23 754.33 L735.69 754.33 L738.15 754.32 L740.62 754.32 L743.08 754.31 L745.54 754.31 L748.00 754.30 L750.47 754.30 L752.93 754.29 L755.39 754.29 L757.85 754.28 L760.32 754.28 L762.78 754.27 L765.24 754.26 L767.70 754.26 L770.17 754.25 L772.63 754.25 L775.09 754.24 L777.55 754.23 L780.02 754.22 L782.48 754.22 L784.94 754.21 L787.40 754.20 L789.87 754.19 L792.33 754.18 L794.79 754.17 L797.25 754.16 L799.72 754.15 L802.18 754.14 L804.64 754.13 L807.10 754.12 L809.57 754.11 L812.03 754.10 L814.49 754.08 L816.95 754.07 L819.42 754.06 L821.88 754.04 L824.34 754.03 L826.80 754.01 L829.27 754.00 L831.73 753.98 L834.19 753.96 L836.65 753.94 L839.12 753.92 L841.58 753.90 L844.04 753.88 L846.50 753.86 L848.97 753.84 L851.43 753.81 L853.89 753.78 L856.35 753.76 L858.82 753.73 L861.28 753.70 L863.74 753.66 L866.20 753.63 L868.67 753.59 L871.13 753.55 L873.59 753.51 L876.05 753.47 L878.52 753.42 L880.98 753.37 L883.44 753.32 L885.90 753.26 L888.37 753.20 L890.83 753.13 L893.29 753.06 L895.75 752.98 L898.22 752.90 L900.68 752.81 L903.14 752.72 L905.60 752.61 L908.07 752.50 L910.53 752.38 L912.99 752.24 L915.45 752.09 L917.92 751.93 L920.38 751.75 L922.84 751.55 L925.30 751.33 L927.77 751.09 L930.23 750.81 L932.69 750.51 L935.15 750.16 L937.62 749.77 L940.08 749.33 L942.54 748.82 L945.00 748.23 L947.47 747.55 L949.93 746.75 L952.39 745.82 L954.85 744.71 L957.32 743.38 L959.78 741.78 L962.24 739.82 L964.70 737.39 L967.17 734.34 L969.63 730.46 L972.09 725.45 L974.55 718.89 L977.02 710.20 L979.48 698.60 L981.94 683.23 L984.40 663.59 L986.87 640.76 L989.33 619.51 L991.79 608.48 L994.25 610.57 L996.72 632.53 L999.18 655.58 L1001.64 676.65 L1004.10 693.54 L1006.57 706.40 L1009.03 716.04 L1011.49 723.29 L1013.95 728.80 L1016.42 733.05 L1018.88 736.38 L1021.34 739.03 L1023.80 741.17 L1026.27 742.92 L1028.73 744.38 L1031.19 745.60 L1033.65 746.63 L1036.12 747.52 L1038.58 748.29 L1041.04 748.97 L1043.50 749.56 L1045.97 750.09 L1048.43 750.56 L1050.89 750.99 L1053.35 751.37 L1055.82 751.72 L1058.28 752.05 L1060.74 752.34 L1063.20 752.62 L1065.67 752.87 L1068.13 753.11 L1070.59 753.33 L1073.05 753.53 L1075.52 753.72 L1077.98 753.90 L1080.44 754.07 L1082.90 754.22 L1085.37 754.37 L1087.83 754.50M693.83 754.98 L696.29 754.98 L698.75 754.98 L701.22 754.98 L703.68 754.97 L706.14 754.97 L708.61 754.97 L711.07 754.96 L713.53 754.96 L715.99 754.96 L718.45 754.95 L720.92 754.95 L723.38 754.95 L725.84 754.94 L728.30 754.94 L730.77 754.93 L733.23 754.93 L735.69 754.93 L738.15 754.92 L740.62 754.92 L743.08 754.91 L745.54 754.91 L748.00 754.90 L750.47 754.90 L752.93 754.89 L755.39 754.89 L757.85 754.88 L760.32 754.88 L762.78 754.87 L765.24 754.86 L767.70 754.86 L770.17 754.85 L772.63 754.85 L775.09 754.84 L777.55 754.83 L780.02 754.82 L782.48 754.82 L784.94 754.81 L787.40 754.80 L789.87 754.79 L792.33 754.78 L794.79 754.77 L797.25 754.76 L799.72 754.75 L802.18 754.74 L804.64 754.73 L807.10 754.72 L809.57 754.71 L812.03 754.70 L814.49 754.68 L816.95 754.67 L819.42 754.66 L821.88 754.64 L824.34 754.63 L826.80 754.61 L829.27 754.60 L831.73 754.58 L834.19 754.56 L836.65 754.54 L839.12 754.52 L841.58 754.50 L844.04 754.48 L846.50 754.46 L848.97 754.44 L851.43 754.41 L853.89 754.38 L856.35 754.36 L858.82 754.33 L861.28 754.30 L863.74 754.26 L866.20 754.23 L868.67 754.19 L871.13 754.15 L873.59 754.11 L876.05 754.07 L878.52 754.02 L880.98 753.97 L883.44 753.92 L885.90 753.86 L888.37 753.80 L890.83 753.73 L893.29 753.66 L895.75 753.58 L898.22 753.50 L900.68 753.41 L903.14 753.32 L905.60 753.21 L908.07 753.10 L910.53 752.98 L912.99 752.84 L915.45 752.69 L917.92 752.53 L920.38 752.35 L922.84 752.15 L925.30 751.93 L927.77 751.69 L930.23 751.41 L932.69 751.11 L935.15 750.76 L937.62 750.37 L940.08 749.93 L942.54 749.42 L945.00 748.83 L947.47 748.15 L949.93 747.35 L952.39 746.42 L954.85 745.31 L957.32 743.98 L959.78 742.38 L962.24 740.42 L964.70 737.99 L967.17 734.94 L969.63 731.06 L972.09 726.05 L974.55 719.49 L977.02 710.80 L979.48 699.20 L981.94 683.83 L984.40 664.19 L986.87 641.36 L989.33 620.11 L991.79 609.08 L994.25 611.17 L996.72 633.13 L999.18 656.18 L1001.64 677.25 L1004.10 694.14 L1006.57 707.00 L1009.03 716.64 L1011.49 723.89 L1013.95 729.40 L1016.42 733.65 L1018.88 736.98 L1021.34 739.63 L1023.80 741.77 L1026.27 743.52 L1028.73 744.98 L1031.19 746.20 L1033.65 747.23 L1036.12 748.12 L1038.58 748.89 L1041.04 749.57 L1043.50 750.16 L1045.97 750.69 L1048.43 751.16 L1050.89 751.59 L1053.35 751.97 L1055.82 752.32 L1058.28 752.65 L1060.74 752.94 L1063.20 753.22 L1065.67 753.47 L1068.13 753.71 L1070.59 753.93 L1073.05 754.13 L1075.52 754.32 L1077.98 754.50 L1080.44 754.67 L1082.90 754.82 L1085.37 754.97 L1087.83 755.10" fill="none" stroke="#00ff00" stroke-width="2.45" stroke-linejoin="miter" stroke-miterlimit="6" clip-path="url(#ce)"/>
<path d="M693.83 754.17 L695.06 754.18 L696.29 754.20 L697.52 754.21 L698.76 754.22 L699.99 754.23 L701.22 754.24 L702.45 754.25 L703.68 754.25 L704.91 754.26 L706.14 754.26 L707.37 754.26 L708.61 754.26 L709.84 754.26 L711.07 754.26 L712.30 754.25 L713.53 754.24 L714.76 754.23 L715.99 754.22 L717.22 754.21 L718.46 754.19 L719.69 754.17 L720.92 754.15 L722.15 754.12 L723.38 754.10 L724.61 754.07 L725.84 754.03 L727.07 754.00 L728.31 753.96 L729.54 753.92 L730.77 753.87 L732.00 753.82 L733.23 753.77 L734.46 753.72 L735.69 753.66 L736.92 753.59 L738.16 753.53 L739.39 753.46 L740.62 753.39 L741.85 753.31 L743.08 753.23 L744.31 753.14 L745.54 753.05 L746.77 752.96 L748.01 752.86 L749.24 752.76 L750.47 752.65 L751.70 752.54 L752.93 752.42 L754.16 752.30 L755.39 752.17 L756.62 752.04 L757.86 751.90 L759.09 751.74 L760.32 751.57 L761.55 751.38 L762.78 751.16 L764.01 750.92 L765.24 750.66 L766.47 750.36 L767.71 750.03 L768.94 749.66 L770.17 749.26 L771.40 748.81 L772.63 748.33 L773.86 747.81 L775.09 747.26 L776.32 746.69 L777.56 746.08 L778.79 745.45 L780.02 744.80 L781.25 744.16 L782.48 743.53 L783.71 742.94 L784.94 742.40 L786.17 741.96 L787.41 741.74 L788.64 741.83 L789.87 742.24 L791.10 742.88 L792.33 743.66 L793.56 744.48 L794.79 745.28 L796.02 746.05 L797.26 746.77 L798.49 747.45 L799.72 748.08 L800.95 748.65 L802.18 749.15 L803.41 749.57 L804.64 749.94 L805.87 750.25 L807.11 750.50 L808.34 750.72 L809.57 750.90 L810.80 751.05 L812.03 751.18 L813.26 751.30 L814.49 751.40 L815.72 751.50 L816.96 751.58 L818.19 751.65 L819.42 751.70 L820.65 751.72 L821.88 751.73 L823.11 751.71 L824.34 751.67 L825.57 751.60 L826.81 751.50 L828.04 751.37 L829.27 751.20 L830.50 751.00 L831.73 750.77 L832.96 750.50 L834.19 750.19 L835.42 749.84 L836.66 749.46 L837.89 749.05 L839.12 748.63 L840.35 748.20 L841.58 747.77 L842.81 747.35 L844.04 746.94 L845.27 746.57 L846.51 746.26 L847.74 746.01 L848.97 745.86 L850.20 745.82 L851.43 745.91 L852.66 746.10 L853.89 746.36 L855.12 746.66 L856.36 746.97 L857.59 747.25 L858.82 747.47 L860.05 747.62 L861.28 747.70 L862.51 747.71 L863.74 747.64 L864.97 747.51 L866.21 747.31 L867.44 747.02 L868.67 746.64 L869.90 746.15 L871.13 745.55 L872.36 744.82 L873.59 743.95 L874.82 742.94 L876.06 741.82 L877.29 740.61 L878.52 739.34 L879.75 738.02 L880.98 736.68 L882.21 735.39 L883.44 734.19 L884.67 733.13 L885.91 732.27 L887.14 731.66 L888.37 731.38 L889.60 731.47 L890.83 731.92 L892.06 732.69 L893.29 733.72 L894.52 734.99 L895.76 736.40 L896.99 737.89 L898.22 739.38 L899.45 740.77 L900.68 741.99 L901.91 743.01 L903.14 743.85 L904.37 744.54 L905.61 745.11 L906.84 745.58 L908.07 745.99 L909.30 746.34 L910.53 746.66 L911.76 746.92 L912.99 747.15 L914.22 747.33 L915.46 747.48 L916.69 747.59 L917.92 747.67 L919.15 747.71 L920.38 747.72 L921.61 747.71 L922.84 747.67 L924.07 747.60 L925.31 747.51 L926.54 747.40 L927.77 747.26 L929.00 747.10 L930.23 746.89 L931.46 746.61 L932.69 746.23 L933.92 745.75 L935.16 745.13 L936.39 744.36 L937.62 743.43 L938.85 742.32 L940.08 741.03 L941.31 739.55 L942.54 737.86 L943.77 736.00 L945.01 734.04 L946.24 732.10 L947.47 730.25 L948.70 728.61 L949.93 727.27 L951.16 726.33 L952.39 725.90 L953.62 726.07 L954.86 726.80 L956.09 727.87 L957.32 729.04 L958.55 730.14 L959.78 731.11 L961.01 731.90 L962.24 732.44 L963.47 732.71 L964.71 732.73 L965.94 732.56 L967.17 732.27 L968.40 731.91 L969.63 731.54 L970.86 731.21 L972.09 730.99 L973.32 730.93 L974.56 731.05 L975.79 731.28 L977.02 731.55 L978.25 731.77 L979.48 731.88 L980.71 731.78 L981.94 731.43 L983.17 730.82 L984.41 729.99 L985.64 728.94 L986.87 727.71 L988.10 726.31 L989.33 724.84 L990.56 723.45 L991.79 722.26 L993.02 721.40 L994.26 721.00 L995.49 721.19 L996.72 721.90 L997.95 722.99 L999.18 724.28 L1000.41 725.63 L1001.64 726.87 L1002.87 727.93 L1004.11 728.80 L1005.34 729.48 L1006.57 729.99 L1007.80 730.34 L1009.03 730.54 L1010.26 730.63 L1011.49 730.65 L1012.72 730.66 L1013.96 730.68 L1015.19 730.78 L1016.42 730.98 L1017.65 731.31 L1018.88 731.73 L1020.11 732.19 L1021.34 732.65 L1022.57 733.05 L1023.81 733.36 L1025.04 733.53 L1026.27 733.52 L1027.50 733.34 L1028.73 733.01 L1029.96 732.54 L1031.19 731.94 L1032.42 731.22 L1033.66 730.48 L1034.89 729.82 L1036.12 729.35 L1037.35 729.20 L1038.58 729.43 L1039.81 729.99 L1041.04 730.83 L1042.27 731.92 L1043.51 733.18 L1044.74 734.54 L1045.97 735.93 L1047.20 737.28 L1048.43 738.50 L1049.66 739.53 L1050.89 740.36 L1052.12 741.04 L1053.36 741.58 L1054.59 742.02 L1055.82 742.38 L1057.05 742.68 L1058.28 742.92 L1059.51 743.12 L1060.74 743.26 L1061.97 743.37 L1063.21 743.44 L1064.44 743.48 L1065.67 743.50 L1066.90 743.50 L1068.13 743.51 L1069.36 743.53 L1070.59 743.57 L1071.82 743.64 L1073.06 743.76 L1074.29 743.92 L1075.52 744.10 L1076.75 744.29 L1077.98 744.47 L1079.21 744.63 L1080.44 744.74 L1081.67 744.79 L1082.91 744.79 L1084.14 744.75 L1085.37 744.68 L1086.60 744.58 L1087.83 744.49 L1089.06 744.40 L1090.29 744.34 L1091.52 744.31 L1092.76 744.33 L1093.99 744.40 L1095.22 744.51 L1096.45 744.66 L1097.68 744.84 L1098.91 745.06 L1100.14 745.29 L1101.37 745.55 L1102.61 745.83 L1103.84 746.12 L1105.07 746.41 L1106.30 746.71 L1107.53 747.00 L1108.76 747.29 L1109.99 747.56 L1111.22 747.82 L1112.46 748.05 L1113.69 748.26 L1114.92 748.43 L1116.15 748.58 L1117.38 748.70 L1118.61 748.80 L1119.84 748.89 L1121.07 748.96 L1122.31 749.01 L1123.54 749.06 L1124.77 749.11 L1126.00 749.15 L1127.23 749.19 L1128.46 749.23 L1129.69 749.27 L1130.92 749.31 L1132.16 749.36 L1133.39 749.42 L1134.62 749.48 L1135.85 749.55 L1137.08 749.63 L1138.31 749.72 L1139.54 749.81 L1140.77 749.91 L1142.01 750.02 L1143.24 750.13 L1144.47 750.24 L1145.70 750.36 L1146.93 750.47 L1148.16 750.59 L1149.39 750.71 L1150.62 750.82 L1151.86 750.93 L1153.09 751.03 L1154.32 751.12 L1155.55 751.20 L1156.78 751.26 L1158.01 751.31 L1159.24 751.35 L1160.47 751.37 L1161.71 751.38 L1162.94 751.38 L1164.17 751.37 L1165.40 751.36 L1166.63 751.33 L1167.86 751.30 L1169.09 751.26 L1170.32 751.22 L1171.56 751.18 L1172.79 751.13 L1174.02 751.08 L1175.25 751.03 L1176.48 750.98 L1177.71 750.94 L1178.94 750.89 L1180.17 750.85 L1181.41 750.82 L1182.64 750.79 L1183.87 750.77 L1185.10 750.76 L1186.33 750.76M693.83 754.77 L695.06 754.78 L696.29 754.80 L697.52 754.81 L698.76 754.82 L699.99 754.83 L701.22 754.84 L702.45 754.85 L703.68 754.85 L704.91 754.86 L706.14 754.86 L707.37 754.86 L708.61 754.86 L709.84 754.86 L711.07 754.86 L712.30 754.85 L713.53 754.84 L714.76 754.83 L715.99 754.82 L717.22 754.81 L718.46 754.79 L719.69 754.77 L720.92 754.75 L722.15 754.72 L723.38 754.70 L724.61 754.67 L725.84 754.63 L727.07 754.60 L728.31 754.56 L729.54 754.52 L730.77 754.47 L732.00 754.42 L733.23 754.37 L734.46 754.32 L735.69 754.26 L736.92 754.19 L738.16 754.13 L739.39 754.06 L740.62 753.99 L741.85 753.91 L743.08 753.83 L744.31 753.74 L745.54 753.65 L746.77 753.56 L748.01 753.46 L749.24 753.36 L750.47 753.25 L751.70 753.14 L752.93 753.02 L754.16 752.90 L755.39 752.77 L756.62 752.64 L757.86 752.50 L759.09 752.34 L760.32 752.17 L761.55 751.98 L762.78 751.76 L764.01 751.52 L765.24 751.26 L766.47 750.96 L767.71 750.63 L768.94 750.26 L770.17 749.86 L771.40 749.41 L772.63 748.93 L773.86 748.41 L775.09 747.86 L776.32 747.29 L777.56 746.68 L778.79 746.05 L780.02 745.40 L781.25 744.76 L782.48 744.13 L783.71 743.54 L784.94 743.00 L786.17 742.56 L787.41 742.34 L788.64 742.43 L789.87 742.84 L791.10 743.48 L792.33 744.26 L793.56 745.08 L794.79 745.88 L796.02 746.65 L797.26 747.37 L798.49 748.05 L799.72 748.68 L800.95 749.25 L802.18 749.75 L803.41 750.17 L804.64 750.54 L805.87 750.85 L807.11 751.10 L808.34 751.32 L809.57 751.50 L810.80 751.65 L812.03 751.78 L813.26 751.90 L814.49 752.00 L815.72 752.10 L816.96 752.18 L818.19 752.25 L819.42 752.30 L820.65 752.32 L821.88 752.33 L823.11 752.31 L824.34 752.27 L825.57 752.20 L826.81 752.10 L828.04 751.97 L829.27 751.80 L830.50 751.60 L831.73 751.37 L832.96 751.10 L834.19 750.79 L835.42 750.44 L836.66 750.06 L837.89 749.65 L839.12 749.23 L840.35 748.80 L841.58 748.37 L842.81 747.95 L844.04 747.54 L845.27 747.17 L846.51 746.86 L847.74 746.61 L848.97 746.46 L850.20 746.42 L851.43 746.51 L852.66 746.70 L853.89 746.96 L855.12 747.26 L856.36 747.57 L857.59 747.85 L858.82 748.07 L860.05 748.22 L861.28 748.30 L862.51 748.31 L863.74 748.24 L864.97 748.11 L866.21 747.91 L867.44 747.62 L868.67 747.24 L869.90 746.75 L871.13 746.15 L872.36 745.42 L873.59 744.55 L874.82 743.54 L876.06 742.42 L877.29 741.21 L878.52 739.94 L879.75 738.62 L880.98 737.28 L882.21 735.99 L883.44 734.79 L884.67 733.73 L885.91 732.87 L887.14 732.26 L888.37 731.98 L889.60 732.07 L890.83 732.52 L892.06 733.29 L893.29 734.32 L894.52 735.59 L895.76 737.00 L896.99 738.49 L898.22 739.98 L899.45 741.37 L900.68 742.59 L901.91 743.61 L903.14 744.45 L904.37 745.14 L905.61 745.71 L906.84 746.18 L908.07 746.59 L909.30 746.94 L910.53 747.26 L911.76 747.52 L912.99 747.75 L914.22 747.93 L915.46 748.08 L916.69 748.19 L917.92 748.27 L919.15 748.31 L920.38 748.32 L921.61 748.31 L922.84 748.27 L924.07 748.20 L925.31 748.11 L926.54 748.00 L927.77 747.86 L929.00 747.70 L930.23 747.49 L931.46 747.21 L932.69 746.83 L933.92 746.35 L935.16 745.73 L936.39 744.96 L937.62 744.03 L938.85 742.92 L940.08 741.63 L941.31 740.15 L942.54 738.46 L943.77 736.60 L945.01 734.64 L946.24 732.70 L947.47 730.85 L948.70 729.21 L949.93 727.87 L951.16 726.93 L952.39 726.50 L953.62 726.67 L954.86 727.40 L956.09 728.47 L957.32 729.64 L958.55 730.74 L959.78 731.71 L961.01 732.50 L962.24 733.04 L963.47 733.31 L964.71 733.33 L965.94 733.16 L967.17 732.87 L968.40 732.51 L969.63 732.14 L970.86 731.81 L972.09 731.59 L973.32 731.53 L974.56 731.65 L975.79 731.88 L977.02 732.15 L978.25 732.37 L979.48 732.48 L980.71 732.38 L981.94 732.03 L983.17 731.42 L984.41 730.59 L985.64 729.54 L986.87 728.31 L988.10 726.91 L989.33 725.44 L990.56 724.05 L991.79 722.86 L993.02 722.00 L994.26 721.60 L995.49 721.79 L996.72 722.50 L997.95 723.59 L999.18 724.88 L1000.41 726.23 L1001.64 727.47 L1002.87 728.53 L1004.11 729.40 L1005.34 730.08 L1006.57 730.59 L1007.80 730.94 L1009.03 731.14 L1010.26 731.23 L1011.49 731.25 L1012.72 731.26 L1013.96 731.28 L1015.19 731.38 L1016.42 731.58 L1017.65 731.91 L1018.88 732.33 L1020.11 732.79 L1021.34 733.25 L1022.57 733.65 L1023.81 733.96 L1025.04 734.13 L1026.27 734.12 L1027.50 733.94 L1028.73 733.61 L1029.96 733.14 L1031.19 732.54 L1032.42 731.82 L1033.66 731.08 L1034.89 730.42 L1036.12 729.95 L1037.35 729.80 L1038.58 730.03 L1039.81 730.59 L1041.04 731.43 L1042.27 732.52 L1043.51 733.78 L1044.74 735.14 L1045.97 736.53 L1047.20 737.88 L1048.43 739.10 L1049.66 740.13 L1050.89 740.96 L1052.12 741.64 L1053.36 742.18 L1054.59 742.62 L1055.82 742.98 L1057.05 743.28 L1058.28 743.52 L1059.51 743.72 L1060.74 743.86 L1061.97 743.97 L1063.21 744.04 L1064.44 744.08 L1065.67 744.10 L1066.90 744.10 L1068.13 744.11 L1069.36 744.13 L1070.59 744.17 L1071.82 744.24 L1073.06 744.36 L1074.29 744.52 L1075.52 744.70 L1076.75 744.89 L1077.98 745.07 L1079.21 745.23 L1080.44 745.34 L1081.67 745.39 L1082.91 745.39 L1084.14 745.35 L1085.37 745.28 L1086.60 745.18 L1087.83 745.09 L1089.06 745.00 L1090.29 744.94 L1091.52 744.91 L1092.76 744.93 L1093.99 745.00 L1095.22 745.11 L1096.45 745.26 L1097.68 745.44 L1098.91 745.66 L1100.14 745.89 L1101.37 746.15 L1102.61 746.43 L1103.84 746.72 L1105.07 747.01 L1106.30 747.31 L1107.53 747.60 L1108.76 747.89 L1109.99 748.16 L1111.22 748.42 L1112.46 748.65 L1113.69 748.86 L1114.92 749.03 L1116.15 749.18 L1117.38 749.30 L1118.61 749.40 L1119.84 749.49 L1121.07 749.56 L1122.31 749.61 L1123.54 749.66 L1124.77 749.71 L1126.00 749.75 L1127.23 749.79 L1128.46 749.83 L1129.69 749.87 L1130.92 749.91 L1132.16 749.96 L1133.39 750.02 L1134.62 750.08 L1135.85 750.15 L1137.08 750.23 L1138.31 750.32 L1139.54 750.41 L1140.77 750.51 L1142.01 750.62 L1143.24 750.73 L1144.47 750.84 L1145.70 750.96 L1146.93 751.07 L1148.16 751.19 L1149.39 751.31 L1150.62 751.42 L1151.86 751.53 L1153.09 751.63 L1154.32 751.72 L1155.55 751.80 L1156.78 751.86 L1158.01 751.91 L1159.24 751.95 L1160.47 751.97 L1161.71 751.98 L1162.94 751.98 L1164.17 751.97 L1165.40 751.96 L1166.63 751.93 L1167.86 751.90 L1169.09 751.86 L1170.32 751.82 L1171.56 751.78 L1172.79 751.73 L1174.02 751.68 L1175.25 751.63 L1176.48 751.58 L1177.71 751.54 L1178.94 751.49 L1180.17 751.45 L1181.41 751.42 L1182.64 751.39 L1183.87 751.37 L1185.10 751.36 L1186.33 751.36" fill="none" stroke="#ff0000" stroke-width="2.45" stroke-linejoin="miter" stroke-miterlimit="6" clip-path="url(#ce)"/>
<path d="M693.83 753.41 L695.06 753.35 L696.29 753.30 L697.52 753.25 L698.76 753.20 L699.99 753.16 L701.22 753.13 L702.45 753.09 L703.68 753.06 L704.91 753.03 L706.14 753.01 L707.37 752.98 L708.61 752.95 L709.84 752.93 L711.07 752.90 L712.30 752.87 L713.53 752.84 L714.76 752.81 L715.99 752.78 L717.22 752.74 L718.46 752.69 L719.69 752.65 L720.92 752.59 L722.15 752.54 L723.38 752.47 L724.61 752.40 L725.84 752.32 L727.07 752.23 L728.31 752.13 L729.54 752.03 L730.77 751.91 L732.00 751.79 L733.23 751.65 L734.46 751.50 L735.69 751.34 L736.92 751.16 L738.16 750.97 L739.39 750.76 L740.62 750.53 L741.85 750.28 L743.08 750.01 L744.31 749.71 L745.54 749.39 L746.77 749.04 L748.01 748.67 L749.24 748.27 L750.47 747.83 L751.70 747.36 L752.93 746.84 L754.16 746.26 L755.39 745.60 L756.62 744.85 L757.86 744.00 L759.09 743.04 L760.32 741.94 L761.55 740.71 L762.78 739.35 L764.01 737.86 L765.24 736.28 L766.47 734.61 L767.71 732.87 L768.94 731.08 L770.17 729.31 L771.40 727.67 L772.63 726.31 L773.86 725.33 L775.09 724.88 L776.32 725.08 L777.56 725.89 L778.79 727.21 L780.02 728.91 L781.25 730.86 L782.48 732.94 L783.71 735.03 L784.94 737.08 L786.17 739.01 L787.41 740.78 L788.64 742.33 L789.87 743.61 L791.10 744.63 L792.33 745.43 L793.56 746.06 L794.79 746.55 L796.02 746.94 L797.26 747.28 L798.49 747.60 L799.72 747.91 L800.95 748.20 L802.18 748.46 L803.41 748.68 L804.64 748.86 L805.87 748.99 L807.11 749.05 L808.34 749.05 L809.57 748.98 L810.80 748.83 L812.03 748.62 L813.26 748.36 L814.49 748.04 L815.72 747.68 L816.96 747.29 L818.19 746.86 L819.42 746.40 L820.65 745.93 L821.88 745.46 L823.11 745.02 L824.34 744.63 L825.57 744.31 L826.81 744.07 L828.04 743.90 L829.27 743.76 L830.50 743.62 L831.73 743.47 L832.96 743.27 L834.19 742.99 L835.42 742.61 L836.66 742.15 L837.89 741.64 L839.12 741.10 L840.35 740.55 L841.58 740.02 L842.81 739.54 L844.04 739.14 L845.27 738.86 L846.51 738.72 L847.74 738.76 L848.97 738.97 L850.20 739.29 L851.43 739.66 L852.66 740.02 L853.89 740.31 L855.12 740.46 L856.36 740.43 L857.59 740.19 L858.82 739.74 L860.05 739.06 L861.28 738.13 L862.51 736.95 L863.74 735.52 L864.97 733.92 L866.21 732.22 L867.44 730.52 L868.67 728.89 L869.90 727.41 L871.13 726.18 L872.36 725.30 L873.59 724.88 L874.82 725.03 L876.06 725.73 L877.29 726.87 L878.52 728.36 L879.75 730.07 L880.98 731.91 L882.21 733.80 L883.44 735.67 L884.67 737.45 L885.91 739.08 L887.14 740.49 L888.37 741.69 L889.60 742.69 L890.83 743.53 L892.06 744.24 L893.29 744.83 L894.52 745.35 L895.76 745.82 L896.99 746.23 L898.22 746.60 L899.45 746.91 L900.68 747.16 L901.91 747.36 L903.14 747.50 L904.37 747.57 L905.61 747.57 L906.84 747.51 L908.07 747.38 L909.30 747.18 L910.53 746.92 L911.76 746.59 L912.99 746.20 L914.22 745.74 L915.46 745.23 L916.69 744.65 L917.92 744.01 L919.15 743.32 L920.38 742.59 L921.61 741.83 L922.84 741.04 L924.07 740.23 L925.31 739.42 L926.54 738.61 L927.77 737.80 L929.00 737.02 L930.23 736.29 L931.46 735.62 L932.69 735.03 L933.92 734.56 L935.16 734.20 L936.39 733.98 L937.62 733.90 L938.85 733.96 L940.08 734.18 L941.31 734.56 L942.54 735.10 L943.77 735.83 L945.01 736.74 L946.24 737.81 L947.47 738.98 L948.70 740.16 L949.93 741.26 L951.16 742.20 L952.39 742.95 L953.62 743.52 L954.86 743.92 L956.09 744.17 L957.32 744.30 L958.55 744.31 L959.78 744.22 L961.01 744.06 L962.24 743.85 L963.47 743.60 L964.71 743.34 L965.94 743.07 L967.17 742.84 L968.40 742.64 L969.63 742.50 L970.86 742.41 L972.09 742.36 L973.32 742.33 L974.56 742.31 L975.79 742.26 L977.02 742.19 L978.25 742.07 L979.48 741.91 L980.71 741.73 L981.94 741.52 L983.17 741.31 L984.41 741.11 L985.64 740.93 L986.87 740.78 L988.10 740.67 L989.33 740.58 L990.56 740.51 L991.79 740.47 L993.02 740.45 L994.26 740.44 L995.49 740.45 L996.72 740.47 L997.95 740.50 L999.18 740.54 L1000.41 740.59 L1001.64 740.65 L1002.87 740.73 L1004.11 740.81 L1005.34 740.90 L1006.57 741.00 L1007.80 741.11 L1009.03 741.23 L1010.26 741.36 L1011.49 741.51 L1012.72 741.66 L1013.96 741.83 L1015.19 742.01 L1016.42 742.21 L1017.65 742.42 L1018.88 742.63 L1020.11 742.82 L1021.34 743.00 L1022.57 743.13 L1023.81 743.22 L1025.04 743.25 L1026.27 743.22 L1027.50 743.14 L1028.73 743.02 L1029.96 742.89 L1031.19 742.77 L1032.42 742.66 L1033.66 742.59 L1034.89 742.58 L1036.12 742.64 L1037.35 742.77 L1038.58 742.97 L1039.81 743.22 L1041.04 743.50 L1042.27 743.81 L1043.51 744.12 L1044.74 744.44 L1045.97 744.74 L1047.20 745.03 L1048.43 745.30 L1049.66 745.56 L1050.89 745.80 L1052.12 746.03 L1053.36 746.24 L1054.59 746.42 L1055.82 746.59 L1057.05 746.74 L1058.28 746.86 L1059.51 746.97 L1060.74 747.06 L1061.97 747.14 L1063.21 747.20 L1064.44 747.25 L1065.67 747.29 L1066.90 747.31 L1068.13 747.33 L1069.36 747.34 L1070.59 747.35 L1071.82 747.34 L1073.06 747.34 L1074.29 747.33 L1075.52 747.32 L1076.75 747.31 L1077.98 747.31 L1079.21 747.30 L1080.44 747.30 L1081.67 747.31 L1082.91 747.33 L1084.14 747.35 L1085.37 747.38 L1086.60 747.43 L1087.83 747.49 L1089.06 747.56 L1090.29 747.65 L1091.52 747.76 L1092.76 747.88 L1093.99 748.03 L1095.22 748.18 L1096.45 748.34 L1097.68 748.50 L1098.91 748.66 L1100.14 748.82 L1101.37 748.96 L1102.61 749.09 L1103.84 749.20 L1105.07 749.30 L1106.30 749.38 L1107.53 749.45 L1108.76 749.52 L1109.99 749.57 L1111.22 749.63 L1112.46 749.69 L1113.69 749.75 L1114.92 749.81 L1116.15 749.88 L1117.38 749.95 L1118.61 750.03 L1119.84 750.10 L1121.07 750.18 L1122.31 750.26 L1123.54 750.33 L1124.77 750.41 L1126.00 750.48 L1127.23 750.55 L1128.46 750.61 L1129.69 750.68 L1130.92 750.74 L1132.16 750.80 L1133.39 750.85 L1134.62 750.90 L1135.85 750.95 L1137.08 751.00 L1138.31 751.04 L1139.54 751.09 L1140.77 751.12 L1142.01 751.16 L1143.24 751.19 L1144.47 751.22 L1145.70 751.25 L1146.93 751.27 L1148.16 751.29 L1149.39 751.31 L1150.62 751.32 L1151.86 751.33 L1153.09 751.34 L1154.32 751.35 L1155.55 751.35 L1156.78 751.35 L1158.01 751.35 L1159.24 751.34 L1160.47 751.33 L1161.71 751.33 L1162.94 751.31 L1164.17 751.30 L1165.40 751.28 L1166.63 751.27 L1167.86 751.25 L1169.09 751.23 L1170.32 751.20 L1171.56 751.18 L1172.79 751.15 L1174.02 751.12 L1175.25 751.09 L1176.48 751.06 L1177.71 751.03 L1178.94 750.99 L1180.17 750.96 L1181.41 750.92 L1182.64 750.88 L1183.87 750.84 L1185.10 750.80 L1186.33 750.76M693.83 754.01 L695.06 753.95 L696.29 753.90 L697.52 753.85 L698.76 753.80 L699.99 753.76 L701.22 753.73 L702.45 753.69 L703.68 753.66 L704.91 753.63 L706.14 753.61 L707.37 753.58 L708.61 753.55 L709.84 753.53 L711.07 753.50 L712.30 753.47 L713.53 753.44 L714.76 753.41 L715.99 753.38 L717.22 753.34 L718.46 753.29 L719.69 753.25 L720.92 753.19 L722.15 753.14 L723.38 753.07 L724.61 753.00 L725.84 752.92 L727.07 752.83 L728.31 752.73 L729.54 752.63 L730.77 752.51 L732.00 752.39 L733.23 752.25 L734.46 752.10 L735.69 751.94 L736.92 751.76 L738.16 751.57 L739.39 751.36 L740.62 751.13 L741.85 750.88 L743.08 750.61 L744.31 750.31 L745.54 749.99 L746.77 749.64 L748.01 749.27 L749.24 748.87 L750.47 748.43 L751.70 747.96 L752.93 747.44 L754.16 746.86 L755.39 746.20 L756.62 745.45 L757.86 744.60 L759.09 743.64 L760.32 742.54 L761.55 741.31 L762.78 739.95 L764.01 738.46 L765.24 736.88 L766.47 735.21 L767.71 733.47 L768.94 731.68 L770.17 729.91 L771.40 728.27 L772.63 726.91 L773.86 725.93 L775.09 725.48 L776.32 725.68 L777.56 726.49 L778.79 727.81 L780.02 729.51 L781.25 731.46 L782.48 733.54 L783.71 735.63 L784.94 737.68 L786.17 739.61 L787.41 741.38 L788.64 742.93 L789.87 744.21 L791.10 745.23 L792.33 746.03 L793.56 746.66 L794.79 747.15 L796.02 747.54 L797.26 747.88 L798.49 748.20 L799.72 748.51 L800.95 748.80 L802.18 749.06 L803.41 749.28 L804.64 749.46 L805.87 749.59 L807.11 749.65 L808.34 749.65 L809.57 749.58 L810.80 749.43 L812.03 749.22 L813.26 748.96 L814.49 748.64 L815.72 748.28 L816.96 747.89 L818.19 747.46 L819.42 747.00 L820.65 746.53 L821.88 746.06 L823.11 745.62 L824.34 745.23 L825.57 744.91 L826.81 744.67 L828.04 744.50 L829.27 744.36 L830.50 744.22 L831.73 744.07 L832.96 743.87 L834.19 743.59 L835.42 743.21 L836.66 742.75 L837.89 742.24 L839.12 741.70 L840.35 741.15 L841.58 740.62 L842.81 740.14 L844.04 739.74 L845.27 739.46 L846.51 739.32 L847.74 739.36 L848.97 739.57 L850.20 739.89 L851.43 740.26 L852.66 740.62 L853.89 740.91 L855.12 741.06 L856.36 741.03 L857.59 740.79 L858.82 740.34 L860.05 739.66 L861.28 738.73 L862.51 737.55 L863.74 736.12 L864.97 734.52 L866.21 732.82 L867.44 731.12 L868.67 729.49 L869.90 728.01 L871.13 726.78 L872.36 725.90 L873.59 725.48 L874.82 725.63 L876.06 726.33 L877.29 727.47 L878.52 728.96 L879.75 730.67 L880.98 732.51 L882.21 734.40 L883.44 736.27 L884.67 738.05 L885.91 739.68 L887.14 741.09 L888.37 742.29 L889.60 743.29 L890.83 744.13 L892.06 744.84 L893.29 745.43 L894.52 745.95 L895.76 746.42 L896.99 746.83 L898.22 747.20 L899.45 747.51 L900.68 747.76 L901.91 747.96 L903.14 748.10 L904.37 748.17 L905.61 748.17 L906.84 748.11 L908.07 747.98 L909.30 747.78 L910.53 747.52 L911.76 747.19 L912.99 746.80 L914.22 746.34 L915.46 745.83 L916.69 745.25 L917.92 744.61 L919.15 743.92 L920.38 743.19 L921.61 742.43 L922.84 741.64 L924.07 740.83 L925.31 740.02 L926.54 739.21 L927.77 738.40 L929.00 737.62 L930.23 736.89 L931.46 736.22 L932.69 735.63 L933.92 735.16 L935.16 734.80 L936.39 734.58 L937.62 734.50 L938.85 734.56 L940.08 734.78 L941.31 735.16 L942.54 735.70 L943.77 736.43 L945.01 737.34 L946.24 738.41 L947.47 739.58 L948.70 740.76 L949.93 741.86 L951.16 742.80 L952.39 743.55 L953.62 744.12 L954.86 744.52 L956.09 744.77 L957.32 744.90 L958.55 744.91 L959.78 744.82 L961.01 744.66 L962.24 744.45 L963.47 744.20 L964.71 743.94 L965.94 743.67 L967.17 743.44 L968.40 743.24 L969.63 743.10 L970.86 743.01 L972.09 742.96 L973.32 742.93 L974.56 742.91 L975.79 742.86 L977.02 742.79 L978.25 742.67 L979.48 742.51 L980.71 742.33 L981.94 742.12 L983.17 741.91 L984.41 741.71 L985.64 741.53 L986.87 741.38 L988.10 741.27 L989.33 741.18 L990.56 741.11 L991.79 741.07 L993.02 741.05 L994.26 741.04 L995.49 741.05 L996.72 741.07 L997.95 741.10 L999.18 741.14 L1000.41 741.19 L1001.64 741.25 L1002.87 741.33 L1004.11 741.41 L1005.34 741.50 L1006.57 741.60 L1007.80 741.71 L1009.03 741.83 L1010.26 741.96 L1011.49 742.11 L1012.72 742.26 L1013.96 742.43 L1015.19 742.61 L1016.42 742.81 L1017.65 743.02 L1018.88 743.23 L1020.11 743.42 L1021.34 743.60 L1022.57 743.73 L1023.81 743.82 L1025.04 743.85 L1026.27 743.82 L1027.50 743.74 L1028.73 743.62 L1029.96 743.49 L1031.19 743.37 L1032.42 743.26 L1033.66 743.19 L1034.89 743.18 L1036.12 743.24 L1037.35 743.37 L1038.58 743.57 L1039.81 743.82 L1041.04 744.10 L1042.27 744.41 L1043.51 744.72 L1044.74 745.04 L1045.97 745.34 L1047.20 745.63 L1048.43 745.90 L1049.66 746.16 L1050.89 746.40 L1052.12 746.63 L1053.36 746.84 L1054.59 747.02 L1055.82 747.19 L1057.05 747.34 L1058.28 747.46 L1059.51 747.57 L1060.74 747.66 L1061.97 747.74 L1063.21 747.80 L1064.44 747.85 L1065.67 747.89 L1066.90 747.91 L1068.13 747.93 L1069.36 747.94 L1070.59 747.95 L1071.82 747.94 L1073.06 747.94 L1074.29 747.93 L1075.52 747.92 L1076.75 747.91 L1077.98 747.91 L1079.21 747.90 L1080.44 747.90 L1081.67 747.91 L1082.91 747.93 L1084.14 747.95 L1085.37 747.98 L1086.60 748.03 L1087.83 748.09 L1089.06 748.16 L1090.29 748.25 L1091.52 748.36 L1092.76 748.48 L1093.99 748.63 L1095.22 748.78 L1096.45 748.94 L1097.68 749.10 L1098.91 749.26 L1100.14 749.42 L1101.37 749.56 L1102.61 749.69 L1103.84 749.80 L1105.07 749.90 L1106.30 749.98 L1107.53 750.05 L1108.76 750.12 L1109.99 750.17 L1111.22 750.23 L1112.46 750.29 L1113.69 750.35 L1114.92 750.41 L1116.15 750.48 L1117.38 750.55 L1118.61 750.63 L1119.84 750.70 L1121.07 750.78 L1122.31 750.86 L1123.54 750.93 L1124.77 751.01 L1126.00 751.08 L1127.23 751.15 L1128.46 751.21 L1129.69 751.28 L1130.92 751.34 L1132.16 751.40 L1133.39 751.45 L1134.62 751.50 L1135.85 751.55 L1137.08 751.60 L1138.31 751.64 L1139.54 751.69 L1140.77 751.72 L1142.01 751.76 L1143.24 751.79 L1144.47 751.82 L1145.70 751.85 L1146.93 751.87 L1148.16 751.89 L1149.39 751.91 L1150.62 751.92 L1151.86 751.93 L1153.09 751.94 L1154.32 751.95 L1155.55 751.95 L1156.78 751.95 L1158.01 751.95 L1159.24 751.94 L1160.47 751.93 L1161.71 751.93 L1162.94 751.91 L1164.17 751.90 L1165.40 751.88 L1166.63 751.87 L1167.86 751.85 L1169.09 751.83 L1170.32 751.80 L1171.56 751.78 L1172.79 751.75 L1174.02 751.72 L1175.25 751.69 L1176.48 751.66 L1177.71 751.63 L1178.94 751.59 L1180.17 751.56 L1181.41 751.52 L1182.64 751.48 L1183.87 751.44 L1185.10 751.40 L1186.33 751.36" fill="none" stroke="#0000ff" stroke-width="2.45" stroke-linejoin="miter" stroke-miterlimit="6" clip-path="url(#ce)"/>
<path d="M106.50 754.85H601.06M692.83 754.85H1187.33" stroke="#000" stroke-width="2" fill="none"/>
<path d="M519.30 36.46h57.4" stroke="#ff0000" stroke-width="2.75" fill="none"/>
<path d="M519.30 56.00h57.4" stroke="#00ff00" stroke-width="2.75" fill="none"/>
<path d="M519.30 75.60h57.4" stroke="#0000ff" stroke-width="2.75" fill="none"/>
<path d="M519.3 95.1h57.4" stroke="#000" stroke-width="1.5" stroke-dasharray="5.3 9.4" fill="none"/>
<path d="M1105.50 528.45h57.4" stroke="#00ff00" stroke-width="2.75" fill="none"/>
<path d="M1105.50 548.10h57.4" stroke="#ff0000" stroke-width="2.75" fill="none"/>
<path d="M1105.50 567.75h57.4" stroke="#0000ff" stroke-width="2.75" fill="none"/>
<g opacity="0.999">
<text x="95.50" y="269.16" font-size="19.60" text-anchor="end">0</text>
<text x="95.50" y="231.24" font-size="19.60" text-anchor="end">0.2</text>
<text x="95.50" y="193.33" font-size="19.60" text-anchor="end">0.4</text>
<text x="95.50" y="155.41" font-size="19.60" text-anchor="end">0.6</text>
<text x="95.50" y="117.49" font-size="19.60" text-anchor="end">0.8</text>
<text x="95.50" y="79.58" font-size="19.60" text-anchor="end">1</text>
<text x="95.50" y="41.66" font-size="19.60" text-anchor="end">1.2</text>
<text x="95.50" y="515.35" font-size="19.60" text-anchor="end">0</text>
<text x="95.50" y="477.43" font-size="19.60" text-anchor="end">0.2</text>
<text x="95.50" y="439.52" font-size="19.60" text-anchor="end">0.4</text>
<text x="95.50" y="401.60" font-size="19.60" text-anchor="end">0.6</text>
<text x="95.50" y="363.68" font-size="19.60" text-anchor="end">0.8</text>
<text x="95.50" y="325.77" font-size="19.60" text-anchor="end">1</text>
<text x="95.50" y="287.85" font-size="19.60" text-anchor="end">1.2</text>
<text x="95.50" y="761.55" font-size="19.60" text-anchor="end">0</text>
<text x="95.50" y="723.63" font-size="19.60" text-anchor="end">0.2</text>
<text x="95.50" y="685.72" font-size="19.60" text-anchor="end">0.4</text>
<text x="95.50" y="647.80" font-size="19.60" text-anchor="end">0.6</text>
<text x="95.50" y="609.88" font-size="19.60" text-anchor="end">0.8</text>
<text x="95.50" y="571.97" font-size="19.60" text-anchor="end">1</text>
<text x="95.50" y="534.05" font-size="19.60" text-anchor="end">1.2</text>
<text x="681.83" y="515.35" font-size="19.60" text-anchor="end">0</text>
<text x="681.83" y="477.43" font-size="19.60" text-anchor="end">0.2</text>
<text x="681.83" y="439.52" font-size="19.60" text-anchor="end">0.4</text>
<text x="681.83" y="401.60" font-size="19.60" text-anchor="end">0.6</text>
<text x="681.83" y="363.68" font-size="19.60" text-anchor="end">0.8</text>
<text x="681.83" y="325.77" font-size="19.60" text-anchor="end">1</text>
<text x="681.83" y="287.85" font-size="19.60" text-anchor="end">1.2</text>
<text x="681.83" y="761.55" font-size="19.60" text-anchor="end">0</text>
<text x="681.83" y="723.63" font-size="19.60" text-anchor="end">0.2</text>
<text x="681.83" y="685.72" font-size="19.60" text-anchor="end">0.4</text>
<text x="681.83" y="647.80" font-size="19.60" text-anchor="end">0.6</text>
<text x="681.83" y="609.88" font-size="19.60" text-anchor="end">0.8</text>
<text x="681.83" y="571.97" font-size="19.60" text-anchor="end">1</text>
<text x="681.83" y="534.05" font-size="19.60" text-anchor="end">1.2</text>
<text x="107.50" y="781.20" font-size="19.60" text-anchor="middle">-10</text>
<text x="230.64" y="781.20" font-size="19.60" text-anchor="middle">-5</text>
<text x="355.68" y="781.20" font-size="19.60" text-anchor="middle">0</text>
<text x="478.82" y="781.20" font-size="19.60" text-anchor="middle">5</text>
<text x="601.96" y="781.20" font-size="19.60" text-anchor="middle">10</text>
<text x="353.38" y="809.50" font-size="19.60" text-anchor="middle">&#969; [MeV]</text>
<text x="693.83" y="781.20" font-size="19.60" text-anchor="middle">-10</text>
<text x="816.96" y="781.20" font-size="19.60" text-anchor="middle">-5</text>
<text x="941.98" y="781.20" font-size="19.60" text-anchor="middle">0</text>
<text x="1065.11" y="781.20" font-size="19.60" text-anchor="middle">5</text>
<text x="1188.23" y="781.20" font-size="19.60" text-anchor="middle">10</text>
<text x="939.68" y="809.50" font-size="19.60" text-anchor="middle">&#969; [MeV]</text>
<text transform="translate(38.2 386.6) rotate(-90)" font-size="24.3" text-anchor="middle">Level density [MeV<tspan font-size="20.6" dy="-11.9">-1</tspan><tspan dy="11.9">]</tspan></text>
<text x="131.50" y="75.50" font-size="30.00" text-anchor="start">(a)</text>
<text x="131.50" y="321.60" font-size="30.00" text-anchor="start">(b)</text>
<text x="131.50" y="567.70" font-size="30.00" text-anchor="start">(c)</text>
<text x="717.80" y="321.60" font-size="30.00" text-anchor="start">(d)</text>
<text x="717.80" y="567.70" font-size="30.00" text-anchor="start">(e)</text>
<text x="181.30" y="109.70" font-size="26.60">40</text>
<text x="207.30" y="125.50" font-size="33.20">Ca,</text>
<text x="259.80" y="125.50" font-size="35.00">&#961;</text>
<text x="277.40" y="135.60" font-size="26.60">0,lj</text>
<text x="230.30" y="171.30" font-size="33.20">g</text>
<text x="247.00" y="181.40" font-size="26.60">9/2</text>
<text x="181.00" y="368.80" font-size="35.00">&#961;</text>
<text x="198.60" y="378.90" font-size="26.60">Free,lj</text>
<text x="181.00" y="614.90" font-size="35.00">&#961;</text>
<text x="198.60" y="625.00" font-size="26.60">0,lj</text>
<text x="767.70" y="359.50" font-size="26.60">40</text>
<text x="793.90" y="375.30" font-size="33.20">Ca,SLy5</text>
<text x="816.40" y="417.90" font-size="33.20">g</text>
<text x="833.60" y="428.00" font-size="26.60">9/2</text>
<path d="M185.7 591.3H195.5" stroke="#000" stroke-width="1.6"/>
<text x="507.40" y="42.80" font-size="19.60" text-anchor="end">R=15</text>
<text x="507.40" y="62.40" font-size="19.60" text-anchor="end">R=20</text>
<text x="507.40" y="82.00" font-size="19.60" text-anchor="end">R=25</text>
<text x="507.40" y="101.50" font-size="19.60" text-anchor="end">f(R,&#969;)</text>
<text x="1093.30" y="534.90" font-size="19.60" text-anchor="end">HF</text>
<text x="1093.3" y="556.3" font-size="19.60" text-anchor="end">HF+PVC(3<tspan font-size="15.7" dy="-7.7">-</tspan><tspan dy="7.7">)</tspan></text>
<text x="1093.3" y="575.8" font-size="19.60" text-anchor="end">HF+PVC(2<tspan font-size="15.7" dy="-7.7">+</tspan><tspan dy="7.7">,3</tspan><tspan font-size="15.7" dy="-7.7">-</tspan><tspan dy="7.7">,4</tspan><tspan font-size="15.7" dy="-7.7">+</tspan><tspan dy="7.7">,5</tspan><tspan font-size="15.7" dy="-7.7">-</tspan><tspan dy="7.7">)</tspan></text>
</g>
</svg>
</body></html>
